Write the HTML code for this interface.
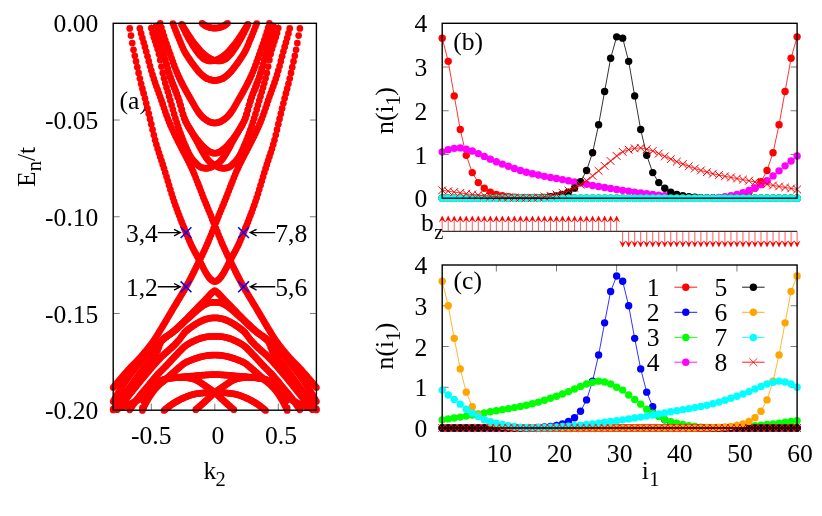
<!DOCTYPE html>
<html><head><meta charset="utf-8"><title>figure</title>
<style>html,body{margin:0;padding:0;background:#fff;}body{width:822px;height:516px;overflow:hidden;font-family:"Liberation Serif",serif;}svg{display:block;will-change:transform;}svg text{font-family:"Liberation Serif",serif;}</style></head>
<body>
<svg width="822" height="516" viewBox="0 0 822 516">
<rect width="822" height="516" fill="#fff"/>
<path d="M113.2 120.02h6.5M316.4 120.02h-6.5M113.2 216.75h6.5M316.4 216.75h-6.5M113.2 313.47h6.5M316.4 313.47h-6.5M151.3 410.2v-6.5M151.3 23.3v6.5M214.8 410.2v-6.5M214.8 23.3v6.5M278.3 410.2v-6.5M278.3 23.3v6.5" stroke="#000" stroke-width="0.7" stroke-opacity="0.75" fill="none"/>
<text x="119.6" y="109.3"  font-size="25.6" text-anchor="start" fill="#000" >(a)</text>
<g fill="#ff0000"><circle cx="202.1" cy="23.33" r="3.35"/><circle cx="227.5" cy="23.33" r="3.35"/><circle cx="203.37" cy="24.33" r="3.35"/><circle cx="226.23" cy="24.33" r="3.35"/><circle cx="204.64" cy="25.19" r="3.35"/><circle cx="224.96" cy="25.19" r="3.35"/><circle cx="205.91" cy="25.89" r="3.35"/><circle cx="223.69" cy="25.89" r="3.35"/><circle cx="207.18" cy="26.51" r="3.35"/><circle cx="222.42" cy="26.51" r="3.35"/><circle cx="208.45" cy="27.02" r="3.35"/><circle cx="221.15" cy="27.02" r="3.35"/><circle cx="209.72" cy="27.41" r="3.35"/><circle cx="219.88" cy="27.41" r="3.35"/><circle cx="210.99" cy="27.74" r="3.35"/><circle cx="218.61" cy="27.74" r="3.35"/><circle cx="212.26" cy="27.93" r="3.35"/><circle cx="217.34" cy="27.93" r="3.35"/><circle cx="213.53" cy="28.05" r="3.35"/><circle cx="216.07" cy="28.05" r="3.35"/><circle cx="214.8" cy="28.1" r="3.35"/><circle cx="181.78" cy="24.76" r="3.35"/><circle cx="247.82" cy="24.76" r="3.35"/><circle cx="183.05" cy="27.48" r="3.35"/><circle cx="246.55" cy="27.48" r="3.35"/><circle cx="184.32" cy="30.11" r="3.35"/><circle cx="245.28" cy="30.11" r="3.35"/><circle cx="185.59" cy="32.65" r="3.35"/><circle cx="244.01" cy="32.65" r="3.35"/><circle cx="186.86" cy="35.09" r="3.35"/><circle cx="242.74" cy="35.09" r="3.35"/><circle cx="188.13" cy="37.41" r="3.35"/><circle cx="241.47" cy="37.41" r="3.35"/><circle cx="189.4" cy="39.65" r="3.35"/><circle cx="240.2" cy="39.65" r="3.35"/><circle cx="190.67" cy="41.8" r="3.35"/><circle cx="238.93" cy="41.8" r="3.35"/><circle cx="191.94" cy="43.88" r="3.35"/><circle cx="237.66" cy="43.88" r="3.35"/><circle cx="193.21" cy="45.88" r="3.35"/><circle cx="236.39" cy="45.88" r="3.35"/><circle cx="194.48" cy="47.8" r="3.35"/><circle cx="235.12" cy="47.8" r="3.35"/><circle cx="195.75" cy="49.65" r="3.35"/><circle cx="233.85" cy="49.65" r="3.35"/><circle cx="197.02" cy="51.47" r="3.35"/><circle cx="232.58" cy="51.47" r="3.35"/><circle cx="198.29" cy="53.19" r="3.35"/><circle cx="231.31" cy="53.19" r="3.35"/><circle cx="199.56" cy="54.73" r="3.35"/><circle cx="230.04" cy="54.73" r="3.35"/><circle cx="200.83" cy="56.06" r="3.35"/><circle cx="228.77" cy="56.06" r="3.35"/><circle cx="202.1" cy="57.32" r="3.35"/><circle cx="227.5" cy="57.32" r="3.35"/><circle cx="203.37" cy="58.41" r="3.35"/><circle cx="226.23" cy="58.41" r="3.35"/><circle cx="204.64" cy="59.22" r="3.35"/><circle cx="224.96" cy="59.22" r="3.35"/><circle cx="205.91" cy="59.82" r="3.35"/><circle cx="223.69" cy="59.82" r="3.35"/><circle cx="207.18" cy="60.35" r="3.35"/><circle cx="222.42" cy="60.35" r="3.35"/><circle cx="208.45" cy="60.74" r="3.35"/><circle cx="221.15" cy="60.74" r="3.35"/><circle cx="209.72" cy="60.9" r="3.35"/><circle cx="219.88" cy="60.9" r="3.35"/><circle cx="210.99" cy="60.87" r="3.35"/><circle cx="218.61" cy="60.87" r="3.35"/><circle cx="212.26" cy="60.79" r="3.35"/><circle cx="217.34" cy="60.79" r="3.35"/><circle cx="213.53" cy="60.66" r="3.35"/><circle cx="216.07" cy="60.66" r="3.35"/><circle cx="214.8" cy="60.5" r="3.35"/><circle cx="216.07" cy="60.19" r="3.35"/><circle cx="213.53" cy="60.19" r="3.35"/><circle cx="217.34" cy="59.67" r="3.35"/><circle cx="212.26" cy="59.67" r="3.35"/><circle cx="218.61" cy="59.03" r="3.35"/><circle cx="210.99" cy="59.03" r="3.35"/><circle cx="219.88" cy="58.36" r="3.35"/><circle cx="209.72" cy="58.36" r="3.35"/><circle cx="221.15" cy="57.63" r="3.35"/><circle cx="208.45" cy="57.63" r="3.35"/><circle cx="222.42" cy="56.8" r="3.35"/><circle cx="207.18" cy="56.8" r="3.35"/><circle cx="223.69" cy="55.87" r="3.35"/><circle cx="205.91" cy="55.87" r="3.35"/><circle cx="224.96" cy="54.87" r="3.35"/><circle cx="204.64" cy="54.87" r="3.35"/><circle cx="226.23" cy="53.76" r="3.35"/><circle cx="203.37" cy="53.76" r="3.35"/><circle cx="227.5" cy="52.55" r="3.35"/><circle cx="202.1" cy="52.55" r="3.35"/><circle cx="228.77" cy="51.24" r="3.35"/><circle cx="200.83" cy="51.24" r="3.35"/><circle cx="230.04" cy="49.85" r="3.35"/><circle cx="199.56" cy="49.85" r="3.35"/><circle cx="231.31" cy="48.4" r="3.35"/><circle cx="198.29" cy="48.4" r="3.35"/><circle cx="232.58" cy="46.91" r="3.35"/><circle cx="197.02" cy="46.91" r="3.35"/><circle cx="233.85" cy="45.37" r="3.35"/><circle cx="195.75" cy="45.37" r="3.35"/><circle cx="235.12" cy="43.75" r="3.35"/><circle cx="194.48" cy="43.75" r="3.35"/><circle cx="236.39" cy="42.03" r="3.35"/><circle cx="193.21" cy="42.03" r="3.35"/><circle cx="237.66" cy="40.24" r="3.35"/><circle cx="191.94" cy="40.24" r="3.35"/><circle cx="238.93" cy="38.39" r="3.35"/><circle cx="190.67" cy="38.39" r="3.35"/><circle cx="240.2" cy="36.5" r="3.35"/><circle cx="189.4" cy="36.5" r="3.35"/><circle cx="241.47" cy="34.59" r="3.35"/><circle cx="188.13" cy="34.59" r="3.35"/><circle cx="242.74" cy="32.63" r="3.35"/><circle cx="186.86" cy="32.63" r="3.35"/><circle cx="244.01" cy="30.62" r="3.35"/><circle cx="185.59" cy="30.62" r="3.35"/><circle cx="245.28" cy="28.56" r="3.35"/><circle cx="184.32" cy="28.56" r="3.35"/><circle cx="246.55" cy="26.45" r="3.35"/><circle cx="183.05" cy="26.45" r="3.35"/><circle cx="247.82" cy="24.3" r="3.35"/><circle cx="181.78" cy="24.3" r="3.35"/><circle cx="172.89" cy="23.57" r="3.35"/><circle cx="256.71" cy="23.57" r="3.35"/><circle cx="174.16" cy="26.81" r="3.35"/><circle cx="255.44" cy="26.81" r="3.35"/><circle cx="175.43" cy="30.01" r="3.35"/><circle cx="254.17" cy="30.01" r="3.35"/><circle cx="176.7" cy="33.17" r="3.35"/><circle cx="252.9" cy="33.17" r="3.35"/><circle cx="177.97" cy="36.28" r="3.35"/><circle cx="251.63" cy="36.28" r="3.35"/><circle cx="179.24" cy="39.36" r="3.35"/><circle cx="250.36" cy="39.36" r="3.35"/><circle cx="180.51" cy="42.46" r="3.35"/><circle cx="249.09" cy="42.46" r="3.35"/><circle cx="181.78" cy="45.56" r="3.35"/><circle cx="247.82" cy="45.56" r="3.35"/><circle cx="183.05" cy="48.46" r="3.35"/><circle cx="246.55" cy="48.46" r="3.35"/><circle cx="184.32" cy="50.99" r="3.35"/><circle cx="245.28" cy="50.99" r="3.35"/><circle cx="185.59" cy="53.24" r="3.35"/><circle cx="244.01" cy="53.24" r="3.35"/><circle cx="186.86" cy="55.31" r="3.35"/><circle cx="242.74" cy="55.31" r="3.35"/><circle cx="188.13" cy="57.29" r="3.35"/><circle cx="241.47" cy="57.29" r="3.35"/><circle cx="189.4" cy="59.22" r="3.35"/><circle cx="240.2" cy="59.22" r="3.35"/><circle cx="190.67" cy="61.08" r="3.35"/><circle cx="238.93" cy="61.08" r="3.35"/><circle cx="191.94" cy="62.88" r="3.35"/><circle cx="237.66" cy="62.88" r="3.35"/><circle cx="193.21" cy="64.61" r="3.35"/><circle cx="236.39" cy="64.61" r="3.35"/><circle cx="194.48" cy="66.27" r="3.35"/><circle cx="235.12" cy="66.27" r="3.35"/><circle cx="195.75" cy="67.92" r="3.35"/><circle cx="233.85" cy="67.92" r="3.35"/><circle cx="197.02" cy="69.56" r="3.35"/><circle cx="232.58" cy="69.56" r="3.35"/><circle cx="198.29" cy="71.13" r="3.35"/><circle cx="231.31" cy="71.13" r="3.35"/><circle cx="199.56" cy="72.58" r="3.35"/><circle cx="230.04" cy="72.58" r="3.35"/><circle cx="200.83" cy="73.87" r="3.35"/><circle cx="228.77" cy="73.87" r="3.35"/><circle cx="202.1" cy="74.99" r="3.35"/><circle cx="227.5" cy="74.99" r="3.35"/><circle cx="203.37" cy="76.06" r="3.35"/><circle cx="226.23" cy="76.06" r="3.35"/><circle cx="204.64" cy="77.06" r="3.35"/><circle cx="224.96" cy="77.06" r="3.35"/><circle cx="205.91" cy="77.93" r="3.35"/><circle cx="223.69" cy="77.93" r="3.35"/><circle cx="207.18" cy="78.63" r="3.35"/><circle cx="222.42" cy="78.63" r="3.35"/><circle cx="208.45" cy="79.12" r="3.35"/><circle cx="221.15" cy="79.12" r="3.35"/><circle cx="209.72" cy="79.54" r="3.35"/><circle cx="219.88" cy="79.54" r="3.35"/><circle cx="210.99" cy="79.91" r="3.35"/><circle cx="218.61" cy="79.91" r="3.35"/><circle cx="212.26" cy="80.22" r="3.35"/><circle cx="217.34" cy="80.22" r="3.35"/><circle cx="213.53" cy="80.42" r="3.35"/><circle cx="216.07" cy="80.42" r="3.35"/><circle cx="214.8" cy="80.5" r="3.35"/><circle cx="160.19" cy="23.46" r="3.35"/><circle cx="269.41" cy="23.46" r="3.35"/><circle cx="161.46" cy="27.79" r="3.35"/><circle cx="268.14" cy="27.79" r="3.35"/><circle cx="162.73" cy="31.99" r="3.35"/><circle cx="266.87" cy="31.99" r="3.35"/><circle cx="164" cy="36.06" r="3.35"/><circle cx="265.6" cy="36.06" r="3.35"/><circle cx="165.27" cy="39.98" r="3.35"/><circle cx="264.33" cy="39.98" r="3.35"/><circle cx="166.54" cy="43.78" r="3.35"/><circle cx="263.06" cy="43.78" r="3.35"/><circle cx="167.81" cy="47.46" r="3.35"/><circle cx="261.79" cy="47.46" r="3.35"/><circle cx="169.08" cy="51.08" r="3.35"/><circle cx="260.52" cy="51.08" r="3.35"/><circle cx="170.35" cy="54.7" r="3.35"/><circle cx="259.25" cy="54.7" r="3.35"/><circle cx="171.62" cy="58.32" r="3.35"/><circle cx="257.98" cy="58.32" r="3.35"/><circle cx="172.89" cy="61.9" r="3.35"/><circle cx="256.71" cy="61.9" r="3.35"/><circle cx="174.16" cy="65.39" r="3.35"/><circle cx="255.44" cy="65.39" r="3.35"/><circle cx="175.43" cy="68.76" r="3.35"/><circle cx="254.17" cy="68.76" r="3.35"/><circle cx="176.7" cy="71.95" r="3.35"/><circle cx="252.9" cy="71.95" r="3.35"/><circle cx="177.97" cy="74.93" r="3.35"/><circle cx="251.63" cy="74.93" r="3.35"/><circle cx="179.24" cy="77.72" r="3.35"/><circle cx="250.36" cy="77.72" r="3.35"/><circle cx="180.51" cy="80.4" r="3.35"/><circle cx="249.09" cy="80.4" r="3.35"/><circle cx="181.78" cy="82.96" r="3.35"/><circle cx="247.82" cy="82.96" r="3.35"/><circle cx="183.05" cy="85.44" r="3.35"/><circle cx="246.55" cy="85.44" r="3.35"/><circle cx="184.32" cy="87.83" r="3.35"/><circle cx="245.28" cy="87.83" r="3.35"/><circle cx="185.59" cy="90.16" r="3.35"/><circle cx="244.01" cy="90.16" r="3.35"/><circle cx="186.86" cy="92.44" r="3.35"/><circle cx="242.74" cy="92.44" r="3.35"/><circle cx="188.13" cy="94.68" r="3.35"/><circle cx="241.47" cy="94.68" r="3.35"/><circle cx="189.4" cy="96.89" r="3.35"/><circle cx="240.2" cy="96.89" r="3.35"/><circle cx="190.67" cy="99.1" r="3.35"/><circle cx="238.93" cy="99.1" r="3.35"/><circle cx="191.94" cy="101.33" r="3.35"/><circle cx="237.66" cy="101.33" r="3.35"/><circle cx="193.21" cy="103.58" r="3.35"/><circle cx="236.39" cy="103.58" r="3.35"/><circle cx="194.48" cy="105.82" r="3.35"/><circle cx="235.12" cy="105.82" r="3.35"/><circle cx="195.75" cy="107.99" r="3.35"/><circle cx="233.85" cy="107.99" r="3.35"/><circle cx="197.02" cy="110.05" r="3.35"/><circle cx="232.58" cy="110.05" r="3.35"/><circle cx="198.29" cy="111.96" r="3.35"/><circle cx="231.31" cy="111.96" r="3.35"/><circle cx="199.56" cy="113.66" r="3.35"/><circle cx="230.04" cy="113.66" r="3.35"/><circle cx="200.83" cy="115.16" r="3.35"/><circle cx="228.77" cy="115.16" r="3.35"/><circle cx="202.1" cy="116.53" r="3.35"/><circle cx="227.5" cy="116.53" r="3.35"/><circle cx="203.37" cy="117.76" r="3.35"/><circle cx="226.23" cy="117.76" r="3.35"/><circle cx="204.64" cy="118.84" r="3.35"/><circle cx="224.96" cy="118.84" r="3.35"/><circle cx="205.91" cy="119.75" r="3.35"/><circle cx="223.69" cy="119.75" r="3.35"/><circle cx="207.18" cy="120.6" r="3.35"/><circle cx="222.42" cy="120.6" r="3.35"/><circle cx="208.45" cy="121.35" r="3.35"/><circle cx="221.15" cy="121.35" r="3.35"/><circle cx="209.72" cy="121.94" r="3.35"/><circle cx="219.88" cy="121.94" r="3.35"/><circle cx="210.99" cy="122.33" r="3.35"/><circle cx="218.61" cy="122.33" r="3.35"/><circle cx="212.26" cy="122.65" r="3.35"/><circle cx="217.34" cy="122.65" r="3.35"/><circle cx="213.53" cy="122.89" r="3.35"/><circle cx="216.07" cy="122.89" r="3.35"/><circle cx="214.8" cy="123" r="3.35"/><circle cx="156.38" cy="26.13" r="3.35"/><circle cx="273.22" cy="26.13" r="3.35"/><circle cx="157.65" cy="30.98" r="3.35"/><circle cx="271.95" cy="30.98" r="3.35"/><circle cx="158.92" cy="35.89" r="3.35"/><circle cx="270.68" cy="35.89" r="3.35"/><circle cx="160.19" cy="40.82" r="3.35"/><circle cx="269.41" cy="40.82" r="3.35"/><circle cx="161.46" cy="45.71" r="3.35"/><circle cx="268.14" cy="45.71" r="3.35"/><circle cx="162.73" cy="50.52" r="3.35"/><circle cx="266.87" cy="50.52" r="3.35"/><circle cx="164" cy="55.22" r="3.35"/><circle cx="265.6" cy="55.22" r="3.35"/><circle cx="165.27" cy="59.93" r="3.35"/><circle cx="264.33" cy="59.93" r="3.35"/><circle cx="166.54" cy="64.6" r="3.35"/><circle cx="263.06" cy="64.6" r="3.35"/><circle cx="167.81" cy="69.11" r="3.35"/><circle cx="261.79" cy="69.11" r="3.35"/><circle cx="169.08" cy="73.36" r="3.35"/><circle cx="260.52" cy="73.36" r="3.35"/><circle cx="170.35" cy="77.25" r="3.35"/><circle cx="259.25" cy="77.25" r="3.35"/><circle cx="171.62" cy="80.82" r="3.35"/><circle cx="257.98" cy="80.82" r="3.35"/><circle cx="172.89" cy="84.17" r="3.35"/><circle cx="256.71" cy="84.17" r="3.35"/><circle cx="174.16" cy="87.39" r="3.35"/><circle cx="255.44" cy="87.39" r="3.35"/><circle cx="175.43" cy="90.59" r="3.35"/><circle cx="254.17" cy="90.59" r="3.35"/><circle cx="176.7" cy="93.86" r="3.35"/><circle cx="252.9" cy="93.86" r="3.35"/><circle cx="177.97" cy="97.31" r="3.35"/><circle cx="251.63" cy="97.31" r="3.35"/><circle cx="179.24" cy="101.05" r="3.35"/><circle cx="250.36" cy="101.05" r="3.35"/><circle cx="180.51" cy="105.35" r="3.35"/><circle cx="249.09" cy="105.35" r="3.35"/><circle cx="181.78" cy="109.96" r="3.35"/><circle cx="247.82" cy="109.96" r="3.35"/><circle cx="183.05" cy="114.42" r="3.35"/><circle cx="246.55" cy="114.42" r="3.35"/><circle cx="184.32" cy="118.28" r="3.35"/><circle cx="245.28" cy="118.28" r="3.35"/><circle cx="185.59" cy="121.28" r="3.35"/><circle cx="244.01" cy="121.28" r="3.35"/><circle cx="186.86" cy="123.86" r="3.35"/><circle cx="242.74" cy="123.86" r="3.35"/><circle cx="188.13" cy="126.15" r="3.35"/><circle cx="241.47" cy="126.15" r="3.35"/><circle cx="189.4" cy="128.26" r="3.35"/><circle cx="240.2" cy="128.26" r="3.35"/><circle cx="190.67" cy="130.29" r="3.35"/><circle cx="238.93" cy="130.29" r="3.35"/><circle cx="191.94" cy="132.29" r="3.35"/><circle cx="237.66" cy="132.29" r="3.35"/><circle cx="193.21" cy="134.23" r="3.35"/><circle cx="236.39" cy="134.23" r="3.35"/><circle cx="194.48" cy="136.09" r="3.35"/><circle cx="235.12" cy="136.09" r="3.35"/><circle cx="195.75" cy="137.87" r="3.35"/><circle cx="233.85" cy="137.87" r="3.35"/><circle cx="197.02" cy="139.57" r="3.35"/><circle cx="232.58" cy="139.57" r="3.35"/><circle cx="198.29" cy="141.17" r="3.35"/><circle cx="231.31" cy="141.17" r="3.35"/><circle cx="199.56" cy="142.67" r="3.35"/><circle cx="230.04" cy="142.67" r="3.35"/><circle cx="200.83" cy="144.1" r="3.35"/><circle cx="228.77" cy="144.1" r="3.35"/><circle cx="202.1" cy="145.48" r="3.35"/><circle cx="227.5" cy="145.48" r="3.35"/><circle cx="203.37" cy="146.8" r="3.35"/><circle cx="226.23" cy="146.8" r="3.35"/><circle cx="204.64" cy="148.02" r="3.35"/><circle cx="224.96" cy="148.02" r="3.35"/><circle cx="205.91" cy="149.14" r="3.35"/><circle cx="223.69" cy="149.14" r="3.35"/><circle cx="207.18" cy="150.12" r="3.35"/><circle cx="222.42" cy="150.12" r="3.35"/><circle cx="208.45" cy="151.01" r="3.35"/><circle cx="221.15" cy="151.01" r="3.35"/><circle cx="209.72" cy="151.82" r="3.35"/><circle cx="219.88" cy="151.82" r="3.35"/><circle cx="210.99" cy="152.43" r="3.35"/><circle cx="218.61" cy="152.43" r="3.35"/><circle cx="212.26" cy="152.8" r="3.35"/><circle cx="217.34" cy="152.8" r="3.35"/><circle cx="213.53" cy="153.08" r="3.35"/><circle cx="216.07" cy="153.08" r="3.35"/><circle cx="214.8" cy="153.2" r="3.35"/><circle cx="151.3" cy="28" r="3.35"/><circle cx="278.3" cy="28" r="3.35"/><circle cx="152.57" cy="32.97" r="3.35"/><circle cx="277.03" cy="32.97" r="3.35"/><circle cx="153.84" cy="37.2" r="3.35"/><circle cx="275.76" cy="37.2" r="3.35"/><circle cx="155.11" cy="41.05" r="3.35"/><circle cx="274.49" cy="41.05" r="3.35"/><circle cx="156.38" cy="44.88" r="3.35"/><circle cx="273.22" cy="44.88" r="3.35"/><circle cx="157.65" cy="49.05" r="3.35"/><circle cx="271.95" cy="49.05" r="3.35"/><circle cx="158.92" cy="53.92" r="3.35"/><circle cx="270.68" cy="53.92" r="3.35"/><circle cx="160.19" cy="59.96" r="3.35"/><circle cx="269.41" cy="59.96" r="3.35"/><circle cx="161.46" cy="66.62" r="3.35"/><circle cx="268.14" cy="66.62" r="3.35"/><circle cx="162.73" cy="72.93" r="3.35"/><circle cx="266.87" cy="72.93" r="3.35"/><circle cx="164" cy="78.24" r="3.35"/><circle cx="265.6" cy="78.24" r="3.35"/><circle cx="165.27" cy="83.03" r="3.35"/><circle cx="264.33" cy="83.03" r="3.35"/><circle cx="166.54" cy="87.52" r="3.35"/><circle cx="263.06" cy="87.52" r="3.35"/><circle cx="167.81" cy="91.84" r="3.35"/><circle cx="261.79" cy="91.84" r="3.35"/><circle cx="169.08" cy="96.13" r="3.35"/><circle cx="260.52" cy="96.13" r="3.35"/><circle cx="170.35" cy="100.53" r="3.35"/><circle cx="259.25" cy="100.53" r="3.35"/><circle cx="171.62" cy="105.07" r="3.35"/><circle cx="257.98" cy="105.07" r="3.35"/><circle cx="172.89" cy="109.62" r="3.35"/><circle cx="256.71" cy="109.62" r="3.35"/><circle cx="174.16" cy="114.08" r="3.35"/><circle cx="255.44" cy="114.08" r="3.35"/><circle cx="175.43" cy="118.32" r="3.35"/><circle cx="254.17" cy="118.32" r="3.35"/><circle cx="176.7" cy="122.3" r="3.35"/><circle cx="252.9" cy="122.3" r="3.35"/><circle cx="177.97" cy="126.14" r="3.35"/><circle cx="251.63" cy="126.14" r="3.35"/><circle cx="179.24" cy="129.85" r="3.35"/><circle cx="250.36" cy="129.85" r="3.35"/><circle cx="180.51" cy="133.42" r="3.35"/><circle cx="249.09" cy="133.42" r="3.35"/><circle cx="181.78" cy="136.84" r="3.35"/><circle cx="247.82" cy="136.84" r="3.35"/><circle cx="183.05" cy="140.13" r="3.35"/><circle cx="246.55" cy="140.13" r="3.35"/><circle cx="184.32" cy="143.25" r="3.35"/><circle cx="245.28" cy="143.25" r="3.35"/><circle cx="185.59" cy="146.22" r="3.35"/><circle cx="244.01" cy="146.22" r="3.35"/><circle cx="186.86" cy="149.05" r="3.35"/><circle cx="242.74" cy="149.05" r="3.35"/><circle cx="188.13" cy="151.79" r="3.35"/><circle cx="241.47" cy="151.79" r="3.35"/><circle cx="189.4" cy="154.52" r="3.35"/><circle cx="240.2" cy="154.52" r="3.35"/><circle cx="190.67" cy="156.9" r="3.35"/><circle cx="238.93" cy="156.9" r="3.35"/><circle cx="191.94" cy="158.74" r="3.35"/><circle cx="237.66" cy="158.74" r="3.35"/><circle cx="193.21" cy="160.36" r="3.35"/><circle cx="236.39" cy="160.36" r="3.35"/><circle cx="194.48" cy="161.8" r="3.35"/><circle cx="235.12" cy="161.8" r="3.35"/><circle cx="195.75" cy="163.1" r="3.35"/><circle cx="233.85" cy="163.1" r="3.35"/><circle cx="197.02" cy="164.29" r="3.35"/><circle cx="232.58" cy="164.29" r="3.35"/><circle cx="198.29" cy="165.48" r="3.35"/><circle cx="231.31" cy="165.48" r="3.35"/><circle cx="199.56" cy="166.52" r="3.35"/><circle cx="230.04" cy="166.52" r="3.35"/><circle cx="200.83" cy="167.24" r="3.35"/><circle cx="228.77" cy="167.24" r="3.35"/><circle cx="202.1" cy="167.65" r="3.35"/><circle cx="227.5" cy="167.65" r="3.35"/><circle cx="203.37" cy="167.99" r="3.35"/><circle cx="226.23" cy="167.99" r="3.35"/><circle cx="204.64" cy="168.22" r="3.35"/><circle cx="224.96" cy="168.22" r="3.35"/><circle cx="205.91" cy="168.3" r="3.35"/><circle cx="223.69" cy="168.3" r="3.35"/><circle cx="207.18" cy="168.18" r="3.35"/><circle cx="222.42" cy="168.18" r="3.35"/><circle cx="208.45" cy="167.9" r="3.35"/><circle cx="221.15" cy="167.9" r="3.35"/><circle cx="209.72" cy="167.54" r="3.35"/><circle cx="219.88" cy="167.54" r="3.35"/><circle cx="210.99" cy="167.13" r="3.35"/><circle cx="218.61" cy="167.13" r="3.35"/><circle cx="212.26" cy="166.54" r="3.35"/><circle cx="217.34" cy="166.54" r="3.35"/><circle cx="213.53" cy="165.82" r="3.35"/><circle cx="216.07" cy="165.82" r="3.35"/><circle cx="214.8" cy="165.1" r="3.35"/><circle cx="216.07" cy="164.44" r="3.35"/><circle cx="213.53" cy="164.44" r="3.35"/><circle cx="217.34" cy="163.73" r="3.35"/><circle cx="212.26" cy="163.73" r="3.35"/><circle cx="218.61" cy="162.85" r="3.35"/><circle cx="210.99" cy="162.85" r="3.35"/><circle cx="219.88" cy="161.75" r="3.35"/><circle cx="209.72" cy="161.75" r="3.35"/><circle cx="221.15" cy="160.46" r="3.35"/><circle cx="208.45" cy="160.46" r="3.35"/><circle cx="222.42" cy="158.97" r="3.35"/><circle cx="207.18" cy="158.97" r="3.35"/><circle cx="223.69" cy="157.24" r="3.35"/><circle cx="205.91" cy="157.24" r="3.35"/><circle cx="224.96" cy="155.36" r="3.35"/><circle cx="204.64" cy="155.36" r="3.35"/><circle cx="226.23" cy="153.32" r="3.35"/><circle cx="203.37" cy="153.32" r="3.35"/><circle cx="227.5" cy="151.1" r="3.35"/><circle cx="202.1" cy="151.1" r="3.35"/><circle cx="228.77" cy="148.81" r="3.35"/><circle cx="200.83" cy="148.81" r="3.35"/><circle cx="230.04" cy="146.39" r="3.35"/><circle cx="199.56" cy="146.39" r="3.35"/><circle cx="231.31" cy="143.91" r="3.35"/><circle cx="198.29" cy="143.91" r="3.35"/><circle cx="232.58" cy="141.52" r="3.35"/><circle cx="197.02" cy="141.52" r="3.35"/><circle cx="233.85" cy="139.18" r="3.35"/><circle cx="195.75" cy="139.18" r="3.35"/><circle cx="235.12" cy="136.88" r="3.35"/><circle cx="194.48" cy="136.88" r="3.35"/><circle cx="236.39" cy="134.65" r="3.35"/><circle cx="193.21" cy="134.65" r="3.35"/><circle cx="237.66" cy="132.48" r="3.35"/><circle cx="191.94" cy="132.48" r="3.35"/><circle cx="238.93" cy="130.27" r="3.35"/><circle cx="190.67" cy="130.27" r="3.35"/><circle cx="240.2" cy="128.11" r="3.35"/><circle cx="189.4" cy="128.11" r="3.35"/><circle cx="241.47" cy="126" r="3.35"/><circle cx="188.13" cy="126" r="3.35"/><circle cx="242.74" cy="123.77" r="3.35"/><circle cx="186.86" cy="123.77" r="3.35"/><circle cx="244.01" cy="121.27" r="3.35"/><circle cx="185.59" cy="121.27" r="3.35"/><circle cx="245.28" cy="118.28" r="3.35"/><circle cx="184.32" cy="118.28" r="3.35"/><circle cx="246.55" cy="114.42" r="3.35"/><circle cx="183.05" cy="114.42" r="3.35"/><circle cx="247.82" cy="109.96" r="3.35"/><circle cx="181.78" cy="109.96" r="3.35"/><circle cx="249.09" cy="105.35" r="3.35"/><circle cx="180.51" cy="105.35" r="3.35"/><circle cx="250.36" cy="101.05" r="3.35"/><circle cx="179.24" cy="101.05" r="3.35"/><circle cx="251.63" cy="97.31" r="3.35"/><circle cx="177.97" cy="97.31" r="3.35"/><circle cx="252.9" cy="93.86" r="3.35"/><circle cx="176.7" cy="93.86" r="3.35"/><circle cx="254.17" cy="90.59" r="3.35"/><circle cx="175.43" cy="90.59" r="3.35"/><circle cx="255.44" cy="87.39" r="3.35"/><circle cx="174.16" cy="87.39" r="3.35"/><circle cx="256.71" cy="84.17" r="3.35"/><circle cx="172.89" cy="84.17" r="3.35"/><circle cx="257.98" cy="80.82" r="3.35"/><circle cx="171.62" cy="80.82" r="3.35"/><circle cx="259.25" cy="77.25" r="3.35"/><circle cx="170.35" cy="77.25" r="3.35"/><circle cx="260.52" cy="73.36" r="3.35"/><circle cx="169.08" cy="73.36" r="3.35"/><circle cx="261.79" cy="69.11" r="3.35"/><circle cx="167.81" cy="69.11" r="3.35"/><circle cx="263.06" cy="64.6" r="3.35"/><circle cx="166.54" cy="64.6" r="3.35"/><circle cx="264.33" cy="59.93" r="3.35"/><circle cx="165.27" cy="59.93" r="3.35"/><circle cx="265.6" cy="55.22" r="3.35"/><circle cx="164" cy="55.22" r="3.35"/><circle cx="266.87" cy="50.52" r="3.35"/><circle cx="162.73" cy="50.52" r="3.35"/><circle cx="268.14" cy="45.71" r="3.35"/><circle cx="161.46" cy="45.71" r="3.35"/><circle cx="269.41" cy="40.82" r="3.35"/><circle cx="160.19" cy="40.82" r="3.35"/><circle cx="270.68" cy="35.89" r="3.35"/><circle cx="158.92" cy="35.89" r="3.35"/><circle cx="271.95" cy="30.98" r="3.35"/><circle cx="157.65" cy="30.98" r="3.35"/><circle cx="273.22" cy="26.13" r="3.35"/><circle cx="156.38" cy="26.13" r="3.35"/><circle cx="139.87" cy="28.44" r="3.35"/><circle cx="289.73" cy="28.44" r="3.35"/><circle cx="141.14" cy="33.46" r="3.35"/><circle cx="288.46" cy="33.46" r="3.35"/><circle cx="142.41" cy="38.09" r="3.35"/><circle cx="287.19" cy="38.09" r="3.35"/><circle cx="143.68" cy="42.52" r="3.35"/><circle cx="285.92" cy="42.52" r="3.35"/><circle cx="144.95" cy="46.94" r="3.35"/><circle cx="284.65" cy="46.94" r="3.35"/><circle cx="146.22" cy="51.55" r="3.35"/><circle cx="283.38" cy="51.55" r="3.35"/><circle cx="147.49" cy="56.34" r="3.35"/><circle cx="282.11" cy="56.34" r="3.35"/><circle cx="148.76" cy="61.19" r="3.35"/><circle cx="280.84" cy="61.19" r="3.35"/><circle cx="150.03" cy="65.98" r="3.35"/><circle cx="279.57" cy="65.98" r="3.35"/><circle cx="151.3" cy="70.59" r="3.35"/><circle cx="278.3" cy="70.59" r="3.35"/><circle cx="152.57" cy="74.9" r="3.35"/><circle cx="277.03" cy="74.9" r="3.35"/><circle cx="153.84" cy="78.9" r="3.35"/><circle cx="275.76" cy="78.9" r="3.35"/><circle cx="155.11" cy="82.68" r="3.35"/><circle cx="274.49" cy="82.68" r="3.35"/><circle cx="156.38" cy="86.3" r="3.35"/><circle cx="273.22" cy="86.3" r="3.35"/><circle cx="157.65" cy="89.84" r="3.35"/><circle cx="271.95" cy="89.84" r="3.35"/><circle cx="158.92" cy="93.33" r="3.35"/><circle cx="270.68" cy="93.33" r="3.35"/><circle cx="160.19" cy="96.85" r="3.35"/><circle cx="269.41" cy="96.85" r="3.35"/><circle cx="161.46" cy="100.46" r="3.35"/><circle cx="268.14" cy="100.46" r="3.35"/><circle cx="162.73" cy="104.19" r="3.35"/><circle cx="266.87" cy="104.19" r="3.35"/><circle cx="164" cy="107.98" r="3.35"/><circle cx="265.6" cy="107.98" r="3.35"/><circle cx="165.27" cy="111.74" r="3.35"/><circle cx="264.33" cy="111.74" r="3.35"/><circle cx="166.54" cy="115.37" r="3.35"/><circle cx="263.06" cy="115.37" r="3.35"/><circle cx="167.81" cy="118.77" r="3.35"/><circle cx="261.79" cy="118.77" r="3.35"/><circle cx="169.08" cy="121.93" r="3.35"/><circle cx="260.52" cy="121.93" r="3.35"/><circle cx="170.35" cy="124.94" r="3.35"/><circle cx="259.25" cy="124.94" r="3.35"/><circle cx="171.62" cy="127.82" r="3.35"/><circle cx="257.98" cy="127.82" r="3.35"/><circle cx="172.89" cy="130.61" r="3.35"/><circle cx="256.71" cy="130.61" r="3.35"/><circle cx="174.16" cy="133.34" r="3.35"/><circle cx="255.44" cy="133.34" r="3.35"/><circle cx="175.43" cy="136" r="3.35"/><circle cx="254.17" cy="136" r="3.35"/><circle cx="176.7" cy="138.57" r="3.35"/><circle cx="252.9" cy="138.57" r="3.35"/><circle cx="177.97" cy="141.08" r="3.35"/><circle cx="251.63" cy="141.08" r="3.35"/><circle cx="179.24" cy="143.57" r="3.35"/><circle cx="250.36" cy="143.57" r="3.35"/><circle cx="180.51" cy="146.04" r="3.35"/><circle cx="249.09" cy="146.04" r="3.35"/><circle cx="181.78" cy="148.52" r="3.35"/><circle cx="247.82" cy="148.52" r="3.35"/><circle cx="183.05" cy="150.94" r="3.35"/><circle cx="246.55" cy="150.94" r="3.35"/><circle cx="184.32" cy="153.36" r="3.35"/><circle cx="245.28" cy="153.36" r="3.35"/><circle cx="185.59" cy="155.8" r="3.35"/><circle cx="244.01" cy="155.8" r="3.35"/><circle cx="186.86" cy="158.31" r="3.35"/><circle cx="242.74" cy="158.31" r="3.35"/><circle cx="188.13" cy="160.82" r="3.35"/><circle cx="241.47" cy="160.82" r="3.35"/><circle cx="189.4" cy="163.36" r="3.35"/><circle cx="240.2" cy="163.36" r="3.35"/><circle cx="190.67" cy="165.98" r="3.35"/><circle cx="238.93" cy="165.98" r="3.35"/><circle cx="191.94" cy="168.7" r="3.35"/><circle cx="237.66" cy="168.7" r="3.35"/><circle cx="193.21" cy="171.58" r="3.35"/><circle cx="236.39" cy="171.58" r="3.35"/><circle cx="194.48" cy="174.62" r="3.35"/><circle cx="235.12" cy="174.62" r="3.35"/><circle cx="195.75" cy="177.78" r="3.35"/><circle cx="233.85" cy="177.78" r="3.35"/><circle cx="197.02" cy="180.99" r="3.35"/><circle cx="232.58" cy="180.99" r="3.35"/><circle cx="198.29" cy="184.22" r="3.35"/><circle cx="231.31" cy="184.22" r="3.35"/><circle cx="199.56" cy="187.45" r="3.35"/><circle cx="230.04" cy="187.45" r="3.35"/><circle cx="200.83" cy="190.76" r="3.35"/><circle cx="228.77" cy="190.76" r="3.35"/><circle cx="202.1" cy="194.1" r="3.35"/><circle cx="227.5" cy="194.1" r="3.35"/><circle cx="203.37" cy="197.39" r="3.35"/><circle cx="226.23" cy="197.39" r="3.35"/><circle cx="204.64" cy="200.6" r="3.35"/><circle cx="224.96" cy="200.6" r="3.35"/><circle cx="205.91" cy="203.69" r="3.35"/><circle cx="223.69" cy="203.69" r="3.35"/><circle cx="207.18" cy="206.72" r="3.35"/><circle cx="222.42" cy="206.72" r="3.35"/><circle cx="208.45" cy="209.74" r="3.35"/><circle cx="221.15" cy="209.74" r="3.35"/><circle cx="209.72" cy="212.8" r="3.35"/><circle cx="219.88" cy="212.8" r="3.35"/><circle cx="210.99" cy="215.95" r="3.35"/><circle cx="218.61" cy="215.95" r="3.35"/><circle cx="212.26" cy="219.14" r="3.35"/><circle cx="217.34" cy="219.14" r="3.35"/><circle cx="213.53" cy="222.33" r="3.35"/><circle cx="216.07" cy="222.33" r="3.35"/><circle cx="214.8" cy="225.5" r="3.35"/><circle cx="216.07" cy="228.65" r="3.35"/><circle cx="213.53" cy="228.65" r="3.35"/><circle cx="217.34" cy="231.82" r="3.35"/><circle cx="212.26" cy="231.82" r="3.35"/><circle cx="218.61" cy="234.98" r="3.35"/><circle cx="210.99" cy="234.98" r="3.35"/><circle cx="219.88" cy="238.11" r="3.35"/><circle cx="209.72" cy="238.11" r="3.35"/><circle cx="221.15" cy="241.16" r="3.35"/><circle cx="208.45" cy="241.16" r="3.35"/><circle cx="222.42" cy="244.13" r="3.35"/><circle cx="207.18" cy="244.13" r="3.35"/><circle cx="223.69" cy="247" r="3.35"/><circle cx="205.91" cy="247" r="3.35"/><circle cx="224.96" cy="249.78" r="3.35"/><circle cx="204.64" cy="249.78" r="3.35"/><circle cx="226.23" cy="252.49" r="3.35"/><circle cx="203.37" cy="252.49" r="3.35"/><circle cx="227.5" cy="255.15" r="3.35"/><circle cx="202.1" cy="255.15" r="3.35"/><circle cx="228.77" cy="257.77" r="3.35"/><circle cx="200.83" cy="257.77" r="3.35"/><circle cx="230.04" cy="260.38" r="3.35"/><circle cx="199.56" cy="260.38" r="3.35"/><circle cx="231.31" cy="262.97" r="3.35"/><circle cx="198.29" cy="262.97" r="3.35"/><circle cx="232.58" cy="265.55" r="3.35"/><circle cx="197.02" cy="265.55" r="3.35"/><circle cx="233.85" cy="268.12" r="3.35"/><circle cx="195.75" cy="268.12" r="3.35"/><circle cx="235.12" cy="270.66" r="3.35"/><circle cx="194.48" cy="270.66" r="3.35"/><circle cx="236.39" cy="273.19" r="3.35"/><circle cx="193.21" cy="273.19" r="3.35"/><circle cx="237.66" cy="275.69" r="3.35"/><circle cx="191.94" cy="275.69" r="3.35"/><circle cx="238.93" cy="278.15" r="3.35"/><circle cx="190.67" cy="278.15" r="3.35"/><circle cx="240.2" cy="280.59" r="3.35"/><circle cx="189.4" cy="280.59" r="3.35"/><circle cx="241.47" cy="282.98" r="3.35"/><circle cx="188.13" cy="282.98" r="3.35"/><circle cx="242.74" cy="285.33" r="3.35"/><circle cx="186.86" cy="285.33" r="3.35"/><circle cx="244.01" cy="287.64" r="3.35"/><circle cx="185.59" cy="287.64" r="3.35"/><circle cx="245.28" cy="289.89" r="3.35"/><circle cx="184.32" cy="289.89" r="3.35"/><circle cx="246.55" cy="292.09" r="3.35"/><circle cx="183.05" cy="292.09" r="3.35"/><circle cx="247.82" cy="294.24" r="3.35"/><circle cx="181.78" cy="294.24" r="3.35"/><circle cx="249.09" cy="296.37" r="3.35"/><circle cx="180.51" cy="296.37" r="3.35"/><circle cx="250.36" cy="298.48" r="3.35"/><circle cx="179.24" cy="298.48" r="3.35"/><circle cx="251.63" cy="300.57" r="3.35"/><circle cx="177.97" cy="300.57" r="3.35"/><circle cx="252.9" cy="302.65" r="3.35"/><circle cx="176.7" cy="302.65" r="3.35"/><circle cx="254.17" cy="304.75" r="3.35"/><circle cx="175.43" cy="304.75" r="3.35"/><circle cx="255.44" cy="306.86" r="3.35"/><circle cx="174.16" cy="306.86" r="3.35"/><circle cx="256.71" cy="308.99" r="3.35"/><circle cx="172.89" cy="308.99" r="3.35"/><circle cx="257.98" cy="311.14" r="3.35"/><circle cx="171.62" cy="311.14" r="3.35"/><circle cx="259.25" cy="313.29" r="3.35"/><circle cx="170.35" cy="313.29" r="3.35"/><circle cx="260.52" cy="315.45" r="3.35"/><circle cx="169.08" cy="315.45" r="3.35"/><circle cx="261.79" cy="317.6" r="3.35"/><circle cx="167.81" cy="317.6" r="3.35"/><circle cx="263.06" cy="319.75" r="3.35"/><circle cx="166.54" cy="319.75" r="3.35"/><circle cx="264.33" cy="321.89" r="3.35"/><circle cx="165.27" cy="321.89" r="3.35"/><circle cx="265.6" cy="324.02" r="3.35"/><circle cx="164" cy="324.02" r="3.35"/><circle cx="266.87" cy="326.14" r="3.35"/><circle cx="162.73" cy="326.14" r="3.35"/><circle cx="268.14" cy="328.23" r="3.35"/><circle cx="161.46" cy="328.23" r="3.35"/><circle cx="269.41" cy="330.33" r="3.35"/><circle cx="160.19" cy="330.33" r="3.35"/><circle cx="270.68" cy="332.45" r="3.35"/><circle cx="158.92" cy="332.45" r="3.35"/><circle cx="271.95" cy="334.55" r="3.35"/><circle cx="157.65" cy="334.55" r="3.35"/><circle cx="273.22" cy="336.61" r="3.35"/><circle cx="156.38" cy="336.61" r="3.35"/><circle cx="274.49" cy="338.61" r="3.35"/><circle cx="155.11" cy="338.61" r="3.35"/><circle cx="275.76" cy="340.51" r="3.35"/><circle cx="153.84" cy="340.51" r="3.35"/><circle cx="277.03" cy="342.31" r="3.35"/><circle cx="152.57" cy="342.31" r="3.35"/><circle cx="278.3" cy="344.07" r="3.35"/><circle cx="151.3" cy="344.07" r="3.35"/><circle cx="279.57" cy="345.77" r="3.35"/><circle cx="150.03" cy="345.77" r="3.35"/><circle cx="280.84" cy="347.43" r="3.35"/><circle cx="148.76" cy="347.43" r="3.35"/><circle cx="282.11" cy="349.05" r="3.35"/><circle cx="147.49" cy="349.05" r="3.35"/><circle cx="283.38" cy="350.63" r="3.35"/><circle cx="146.22" cy="350.63" r="3.35"/><circle cx="284.65" cy="352.18" r="3.35"/><circle cx="144.95" cy="352.18" r="3.35"/><circle cx="285.92" cy="353.69" r="3.35"/><circle cx="143.68" cy="353.69" r="3.35"/><circle cx="287.19" cy="355.18" r="3.35"/><circle cx="142.41" cy="355.18" r="3.35"/><circle cx="288.46" cy="356.64" r="3.35"/><circle cx="141.14" cy="356.64" r="3.35"/><circle cx="289.73" cy="358.04" r="3.35"/><circle cx="139.87" cy="358.04" r="3.35"/><circle cx="291" cy="359.4" r="3.35"/><circle cx="138.6" cy="359.4" r="3.35"/><circle cx="292.27" cy="360.73" r="3.35"/><circle cx="137.33" cy="360.73" r="3.35"/><circle cx="293.54" cy="362.03" r="3.35"/><circle cx="136.06" cy="362.03" r="3.35"/><circle cx="294.81" cy="363.31" r="3.35"/><circle cx="134.79" cy="363.31" r="3.35"/><circle cx="296.08" cy="364.6" r="3.35"/><circle cx="133.52" cy="364.6" r="3.35"/><circle cx="297.35" cy="365.89" r="3.35"/><circle cx="132.25" cy="365.89" r="3.35"/><circle cx="298.62" cy="367.21" r="3.35"/><circle cx="130.98" cy="367.21" r="3.35"/><circle cx="299.89" cy="368.56" r="3.35"/><circle cx="129.71" cy="368.56" r="3.35"/><circle cx="301.16" cy="369.94" r="3.35"/><circle cx="128.44" cy="369.94" r="3.35"/><circle cx="302.43" cy="371.35" r="3.35"/><circle cx="127.17" cy="371.35" r="3.35"/><circle cx="303.7" cy="372.76" r="3.35"/><circle cx="125.9" cy="372.76" r="3.35"/><circle cx="304.97" cy="374.2" r="3.35"/><circle cx="124.63" cy="374.2" r="3.35"/><circle cx="306.24" cy="375.64" r="3.35"/><circle cx="123.36" cy="375.64" r="3.35"/><circle cx="307.51" cy="377.1" r="3.35"/><circle cx="122.09" cy="377.1" r="3.35"/><circle cx="308.78" cy="378.55" r="3.35"/><circle cx="120.82" cy="378.55" r="3.35"/><circle cx="310.05" cy="380.02" r="3.35"/><circle cx="119.55" cy="380.02" r="3.35"/><circle cx="311.32" cy="381.49" r="3.35"/><circle cx="118.28" cy="381.49" r="3.35"/><circle cx="312.59" cy="382.98" r="3.35"/><circle cx="117.01" cy="382.98" r="3.35"/><circle cx="313.86" cy="384.48" r="3.35"/><circle cx="115.74" cy="384.48" r="3.35"/><circle cx="315.13" cy="385.98" r="3.35"/><circle cx="114.47" cy="385.98" r="3.35"/><circle cx="316.4" cy="387.5" r="3.35"/><circle cx="113.2" cy="387.5" r="3.35"/><circle cx="129.71" cy="28.4" r="3.35"/><circle cx="299.89" cy="28.4" r="3.35"/><circle cx="130.98" cy="35.57" r="3.35"/><circle cx="298.62" cy="35.57" r="3.35"/><circle cx="132.25" cy="43.11" r="3.35"/><circle cx="297.35" cy="43.11" r="3.35"/><circle cx="133.52" cy="49.8" r="3.35"/><circle cx="296.08" cy="49.8" r="3.35"/><circle cx="134.79" cy="55.77" r="3.35"/><circle cx="294.81" cy="55.77" r="3.35"/><circle cx="136.06" cy="61.45" r="3.35"/><circle cx="293.54" cy="61.45" r="3.35"/><circle cx="137.33" cy="67.15" r="3.35"/><circle cx="292.27" cy="67.15" r="3.35"/><circle cx="138.6" cy="72.89" r="3.35"/><circle cx="291" cy="72.89" r="3.35"/><circle cx="139.87" cy="78.5" r="3.35"/><circle cx="289.73" cy="78.5" r="3.35"/><circle cx="141.14" cy="83.78" r="3.35"/><circle cx="288.46" cy="83.78" r="3.35"/><circle cx="142.41" cy="88.7" r="3.35"/><circle cx="287.19" cy="88.7" r="3.35"/><circle cx="143.68" cy="93.44" r="3.35"/><circle cx="285.92" cy="93.44" r="3.35"/><circle cx="144.95" cy="98.24" r="3.35"/><circle cx="284.65" cy="98.24" r="3.35"/><circle cx="146.22" cy="103.27" r="3.35"/><circle cx="283.38" cy="103.27" r="3.35"/><circle cx="147.49" cy="108.42" r="3.35"/><circle cx="282.11" cy="108.42" r="3.35"/><circle cx="148.76" cy="113.64" r="3.35"/><circle cx="280.84" cy="113.64" r="3.35"/><circle cx="150.03" cy="118.89" r="3.35"/><circle cx="279.57" cy="118.89" r="3.35"/><circle cx="151.3" cy="124.22" r="3.35"/><circle cx="278.3" cy="124.22" r="3.35"/><circle cx="152.57" cy="129.71" r="3.35"/><circle cx="277.03" cy="129.71" r="3.35"/><circle cx="153.84" cy="135.08" r="3.35"/><circle cx="275.76" cy="135.08" r="3.35"/><circle cx="155.11" cy="140.04" r="3.35"/><circle cx="274.49" cy="140.04" r="3.35"/><circle cx="156.38" cy="144.53" r="3.35"/><circle cx="273.22" cy="144.53" r="3.35"/><circle cx="157.65" cy="148.76" r="3.35"/><circle cx="271.95" cy="148.76" r="3.35"/><circle cx="158.92" cy="152.8" r="3.35"/><circle cx="270.68" cy="152.8" r="3.35"/><circle cx="160.19" cy="156.71" r="3.35"/><circle cx="269.41" cy="156.71" r="3.35"/><circle cx="161.46" cy="160.56" r="3.35"/><circle cx="268.14" cy="160.56" r="3.35"/><circle cx="162.73" cy="164.44" r="3.35"/><circle cx="266.87" cy="164.44" r="3.35"/><circle cx="164" cy="168.4" r="3.35"/><circle cx="265.6" cy="168.4" r="3.35"/><circle cx="165.27" cy="172.51" r="3.35"/><circle cx="264.33" cy="172.51" r="3.35"/><circle cx="166.54" cy="176.73" r="3.35"/><circle cx="263.06" cy="176.73" r="3.35"/><circle cx="167.81" cy="181.01" r="3.35"/><circle cx="261.79" cy="181.01" r="3.35"/><circle cx="169.08" cy="185.31" r="3.35"/><circle cx="260.52" cy="185.31" r="3.35"/><circle cx="170.35" cy="189.56" r="3.35"/><circle cx="259.25" cy="189.56" r="3.35"/><circle cx="171.62" cy="193.73" r="3.35"/><circle cx="257.98" cy="193.73" r="3.35"/><circle cx="172.89" cy="197.75" r="3.35"/><circle cx="256.71" cy="197.75" r="3.35"/><circle cx="174.16" cy="201.59" r="3.35"/><circle cx="255.44" cy="201.59" r="3.35"/><circle cx="175.43" cy="205.25" r="3.35"/><circle cx="254.17" cy="205.25" r="3.35"/><circle cx="176.7" cy="208.79" r="3.35"/><circle cx="252.9" cy="208.79" r="3.35"/><circle cx="177.97" cy="212.24" r="3.35"/><circle cx="251.63" cy="212.24" r="3.35"/><circle cx="179.24" cy="215.61" r="3.35"/><circle cx="250.36" cy="215.61" r="3.35"/><circle cx="180.51" cy="218.9" r="3.35"/><circle cx="249.09" cy="218.9" r="3.35"/><circle cx="181.78" cy="222.13" r="3.35"/><circle cx="247.82" cy="222.13" r="3.35"/><circle cx="183.05" cy="225.32" r="3.35"/><circle cx="246.55" cy="225.32" r="3.35"/><circle cx="184.32" cy="228.47" r="3.35"/><circle cx="245.28" cy="228.47" r="3.35"/><circle cx="185.59" cy="231.59" r="3.35"/><circle cx="244.01" cy="231.59" r="3.35"/><circle cx="186.86" cy="234.71" r="3.35"/><circle cx="242.74" cy="234.71" r="3.35"/><circle cx="188.13" cy="237.79" r="3.35"/><circle cx="241.47" cy="237.79" r="3.35"/><circle cx="189.4" cy="240.79" r="3.35"/><circle cx="240.2" cy="240.79" r="3.35"/><circle cx="190.67" cy="243.65" r="3.35"/><circle cx="238.93" cy="243.65" r="3.35"/><circle cx="191.94" cy="246.33" r="3.35"/><circle cx="237.66" cy="246.33" r="3.35"/><circle cx="193.21" cy="248.84" r="3.35"/><circle cx="236.39" cy="248.84" r="3.35"/><circle cx="194.48" cy="251.24" r="3.35"/><circle cx="235.12" cy="251.24" r="3.35"/><circle cx="195.75" cy="253.57" r="3.35"/><circle cx="233.85" cy="253.57" r="3.35"/><circle cx="197.02" cy="255.88" r="3.35"/><circle cx="232.58" cy="255.88" r="3.35"/><circle cx="198.29" cy="258.21" r="3.35"/><circle cx="231.31" cy="258.21" r="3.35"/><circle cx="199.56" cy="260.62" r="3.35"/><circle cx="230.04" cy="260.62" r="3.35"/><circle cx="200.83" cy="263.12" r="3.35"/><circle cx="228.77" cy="263.12" r="3.35"/><circle cx="202.1" cy="265.65" r="3.35"/><circle cx="227.5" cy="265.65" r="3.35"/><circle cx="203.37" cy="268.12" r="3.35"/><circle cx="226.23" cy="268.12" r="3.35"/><circle cx="204.64" cy="270.48" r="3.35"/><circle cx="224.96" cy="270.48" r="3.35"/><circle cx="205.91" cy="272.76" r="3.35"/><circle cx="223.69" cy="272.76" r="3.35"/><circle cx="207.18" cy="274.82" r="3.35"/><circle cx="222.42" cy="274.82" r="3.35"/><circle cx="208.45" cy="276.67" r="3.35"/><circle cx="221.15" cy="276.67" r="3.35"/><circle cx="209.72" cy="278.34" r="3.35"/><circle cx="219.88" cy="278.34" r="3.35"/><circle cx="210.99" cy="279.59" r="3.35"/><circle cx="218.61" cy="279.59" r="3.35"/><circle cx="212.26" cy="280.49" r="3.35"/><circle cx="217.34" cy="280.49" r="3.35"/><circle cx="213.53" cy="281.2" r="3.35"/><circle cx="216.07" cy="281.2" r="3.35"/><circle cx="214.8" cy="281.6" r="3.35"/><circle cx="113.2" cy="401.5" r="3.35"/><circle cx="316.4" cy="401.5" r="3.35"/><circle cx="114.47" cy="399.27" r="3.35"/><circle cx="315.13" cy="399.27" r="3.35"/><circle cx="115.74" cy="397.07" r="3.35"/><circle cx="313.86" cy="397.07" r="3.35"/><circle cx="117.01" cy="394.91" r="3.35"/><circle cx="312.59" cy="394.91" r="3.35"/><circle cx="118.28" cy="392.79" r="3.35"/><circle cx="311.32" cy="392.79" r="3.35"/><circle cx="119.55" cy="390.72" r="3.35"/><circle cx="310.05" cy="390.72" r="3.35"/><circle cx="120.82" cy="388.69" r="3.35"/><circle cx="308.78" cy="388.69" r="3.35"/><circle cx="122.09" cy="386.69" r="3.35"/><circle cx="307.51" cy="386.69" r="3.35"/><circle cx="123.36" cy="384.71" r="3.35"/><circle cx="306.24" cy="384.71" r="3.35"/><circle cx="124.63" cy="382.77" r="3.35"/><circle cx="304.97" cy="382.77" r="3.35"/><circle cx="125.9" cy="380.87" r="3.35"/><circle cx="303.7" cy="380.87" r="3.35"/><circle cx="127.17" cy="379.01" r="3.35"/><circle cx="302.43" cy="379.01" r="3.35"/><circle cx="128.44" cy="377.2" r="3.35"/><circle cx="301.16" cy="377.2" r="3.35"/><circle cx="129.71" cy="375.44" r="3.35"/><circle cx="299.89" cy="375.44" r="3.35"/><circle cx="130.98" cy="373.72" r="3.35"/><circle cx="298.62" cy="373.72" r="3.35"/><circle cx="132.25" cy="372.05" r="3.35"/><circle cx="297.35" cy="372.05" r="3.35"/><circle cx="133.52" cy="370.41" r="3.35"/><circle cx="296.08" cy="370.41" r="3.35"/><circle cx="134.79" cy="368.81" r="3.35"/><circle cx="294.81" cy="368.81" r="3.35"/><circle cx="136.06" cy="367.23" r="3.35"/><circle cx="293.54" cy="367.23" r="3.35"/><circle cx="137.33" cy="365.68" r="3.35"/><circle cx="292.27" cy="365.68" r="3.35"/><circle cx="138.6" cy="364.16" r="3.35"/><circle cx="291" cy="364.16" r="3.35"/><circle cx="139.87" cy="362.65" r="3.35"/><circle cx="289.73" cy="362.65" r="3.35"/><circle cx="141.14" cy="361.17" r="3.35"/><circle cx="288.46" cy="361.17" r="3.35"/><circle cx="142.41" cy="359.71" r="3.35"/><circle cx="287.19" cy="359.71" r="3.35"/><circle cx="143.68" cy="358.27" r="3.35"/><circle cx="285.92" cy="358.27" r="3.35"/><circle cx="144.95" cy="356.86" r="3.35"/><circle cx="284.65" cy="356.86" r="3.35"/><circle cx="146.22" cy="355.47" r="3.35"/><circle cx="283.38" cy="355.47" r="3.35"/><circle cx="147.49" cy="354.11" r="3.35"/><circle cx="282.11" cy="354.11" r="3.35"/><circle cx="148.76" cy="352.77" r="3.35"/><circle cx="280.84" cy="352.77" r="3.35"/><circle cx="150.03" cy="351.47" r="3.35"/><circle cx="279.57" cy="351.47" r="3.35"/><circle cx="151.3" cy="350.19" r="3.35"/><circle cx="278.3" cy="350.19" r="3.35"/><circle cx="152.57" cy="348.93" r="3.35"/><circle cx="277.03" cy="348.93" r="3.35"/><circle cx="153.84" cy="347.69" r="3.35"/><circle cx="275.76" cy="347.69" r="3.35"/><circle cx="155.11" cy="346.47" r="3.35"/><circle cx="274.49" cy="346.47" r="3.35"/><circle cx="156.38" cy="345.27" r="3.35"/><circle cx="273.22" cy="345.27" r="3.35"/><circle cx="157.65" cy="344.09" r="3.35"/><circle cx="271.95" cy="344.09" r="3.35"/><circle cx="158.92" cy="342.94" r="3.35"/><circle cx="270.68" cy="342.94" r="3.35"/><circle cx="160.19" cy="341.82" r="3.35"/><circle cx="269.41" cy="341.82" r="3.35"/><circle cx="161.46" cy="340.72" r="3.35"/><circle cx="268.14" cy="340.72" r="3.35"/><circle cx="162.73" cy="339.66" r="3.35"/><circle cx="266.87" cy="339.66" r="3.35"/><circle cx="164" cy="338.65" r="3.35"/><circle cx="265.6" cy="338.65" r="3.35"/><circle cx="165.27" cy="337.67" r="3.35"/><circle cx="264.33" cy="337.67" r="3.35"/><circle cx="166.54" cy="336.72" r="3.35"/><circle cx="263.06" cy="336.72" r="3.35"/><circle cx="167.81" cy="335.78" r="3.35"/><circle cx="261.79" cy="335.78" r="3.35"/><circle cx="169.08" cy="334.83" r="3.35"/><circle cx="260.52" cy="334.83" r="3.35"/><circle cx="170.35" cy="333.87" r="3.35"/><circle cx="259.25" cy="333.87" r="3.35"/><circle cx="171.62" cy="332.88" r="3.35"/><circle cx="257.98" cy="332.88" r="3.35"/><circle cx="172.89" cy="331.84" r="3.35"/><circle cx="256.71" cy="331.84" r="3.35"/><circle cx="174.16" cy="330.76" r="3.35"/><circle cx="255.44" cy="330.76" r="3.35"/><circle cx="175.43" cy="329.65" r="3.35"/><circle cx="254.17" cy="329.65" r="3.35"/><circle cx="176.7" cy="328.51" r="3.35"/><circle cx="252.9" cy="328.51" r="3.35"/><circle cx="177.97" cy="327.34" r="3.35"/><circle cx="251.63" cy="327.34" r="3.35"/><circle cx="179.24" cy="326.15" r="3.35"/><circle cx="250.36" cy="326.15" r="3.35"/><circle cx="180.51" cy="324.95" r="3.35"/><circle cx="249.09" cy="324.95" r="3.35"/><circle cx="181.78" cy="323.73" r="3.35"/><circle cx="247.82" cy="323.73" r="3.35"/><circle cx="183.05" cy="322.5" r="3.35"/><circle cx="246.55" cy="322.5" r="3.35"/><circle cx="184.32" cy="321.27" r="3.35"/><circle cx="245.28" cy="321.27" r="3.35"/><circle cx="185.59" cy="320.02" r="3.35"/><circle cx="244.01" cy="320.02" r="3.35"/><circle cx="186.86" cy="318.76" r="3.35"/><circle cx="242.74" cy="318.76" r="3.35"/><circle cx="188.13" cy="317.47" r="3.35"/><circle cx="241.47" cy="317.47" r="3.35"/><circle cx="189.4" cy="316.17" r="3.35"/><circle cx="240.2" cy="316.17" r="3.35"/><circle cx="190.67" cy="314.85" r="3.35"/><circle cx="238.93" cy="314.85" r="3.35"/><circle cx="191.94" cy="313.53" r="3.35"/><circle cx="237.66" cy="313.53" r="3.35"/><circle cx="193.21" cy="312.2" r="3.35"/><circle cx="236.39" cy="312.2" r="3.35"/><circle cx="194.48" cy="310.88" r="3.35"/><circle cx="235.12" cy="310.88" r="3.35"/><circle cx="195.75" cy="309.57" r="3.35"/><circle cx="233.85" cy="309.57" r="3.35"/><circle cx="197.02" cy="308.27" r="3.35"/><circle cx="232.58" cy="308.27" r="3.35"/><circle cx="198.29" cy="306.97" r="3.35"/><circle cx="231.31" cy="306.97" r="3.35"/><circle cx="199.56" cy="305.68" r="3.35"/><circle cx="230.04" cy="305.68" r="3.35"/><circle cx="200.83" cy="304.39" r="3.35"/><circle cx="228.77" cy="304.39" r="3.35"/><circle cx="202.1" cy="303.1" r="3.35"/><circle cx="227.5" cy="303.1" r="3.35"/><circle cx="203.37" cy="301.8" r="3.35"/><circle cx="226.23" cy="301.8" r="3.35"/><circle cx="204.64" cy="300.5" r="3.35"/><circle cx="224.96" cy="300.5" r="3.35"/><circle cx="205.91" cy="299.19" r="3.35"/><circle cx="223.69" cy="299.19" r="3.35"/><circle cx="207.18" cy="297.82" r="3.35"/><circle cx="222.42" cy="297.82" r="3.35"/><circle cx="208.45" cy="296.41" r="3.35"/><circle cx="221.15" cy="296.41" r="3.35"/><circle cx="209.72" cy="295.02" r="3.35"/><circle cx="219.88" cy="295.02" r="3.35"/><circle cx="210.99" cy="293.72" r="3.35"/><circle cx="218.61" cy="293.72" r="3.35"/><circle cx="212.26" cy="292.58" r="3.35"/><circle cx="217.34" cy="292.58" r="3.35"/><circle cx="213.53" cy="291.58" r="3.35"/><circle cx="216.07" cy="291.58" r="3.35"/><circle cx="214.8" cy="290.7" r="3.35"/><circle cx="113.2" cy="410" r="3.35"/><circle cx="316.4" cy="410" r="3.35"/><circle cx="114.47" cy="408.21" r="3.35"/><circle cx="315.13" cy="408.21" r="3.35"/><circle cx="115.74" cy="406.42" r="3.35"/><circle cx="313.86" cy="406.42" r="3.35"/><circle cx="117.01" cy="404.64" r="3.35"/><circle cx="312.59" cy="404.64" r="3.35"/><circle cx="118.28" cy="402.88" r="3.35"/><circle cx="311.32" cy="402.88" r="3.35"/><circle cx="119.55" cy="401.12" r="3.35"/><circle cx="310.05" cy="401.12" r="3.35"/><circle cx="120.82" cy="399.38" r="3.35"/><circle cx="308.78" cy="399.38" r="3.35"/><circle cx="122.09" cy="397.65" r="3.35"/><circle cx="307.51" cy="397.65" r="3.35"/><circle cx="123.36" cy="395.93" r="3.35"/><circle cx="306.24" cy="395.93" r="3.35"/><circle cx="124.63" cy="394.22" r="3.35"/><circle cx="304.97" cy="394.22" r="3.35"/><circle cx="125.9" cy="392.52" r="3.35"/><circle cx="303.7" cy="392.52" r="3.35"/><circle cx="127.17" cy="390.82" r="3.35"/><circle cx="302.43" cy="390.82" r="3.35"/><circle cx="128.44" cy="389.11" r="3.35"/><circle cx="301.16" cy="389.11" r="3.35"/><circle cx="129.71" cy="387.39" r="3.35"/><circle cx="299.89" cy="387.39" r="3.35"/><circle cx="130.98" cy="385.67" r="3.35"/><circle cx="298.62" cy="385.67" r="3.35"/><circle cx="132.25" cy="383.93" r="3.35"/><circle cx="297.35" cy="383.93" r="3.35"/><circle cx="133.52" cy="382.18" r="3.35"/><circle cx="296.08" cy="382.18" r="3.35"/><circle cx="134.79" cy="380.43" r="3.35"/><circle cx="294.81" cy="380.43" r="3.35"/><circle cx="136.06" cy="378.67" r="3.35"/><circle cx="293.54" cy="378.67" r="3.35"/><circle cx="137.33" cy="376.92" r="3.35"/><circle cx="292.27" cy="376.92" r="3.35"/><circle cx="138.6" cy="375.18" r="3.35"/><circle cx="291" cy="375.18" r="3.35"/><circle cx="139.87" cy="373.45" r="3.35"/><circle cx="289.73" cy="373.45" r="3.35"/><circle cx="141.14" cy="371.74" r="3.35"/><circle cx="288.46" cy="371.74" r="3.35"/><circle cx="142.41" cy="370.04" r="3.35"/><circle cx="287.19" cy="370.04" r="3.35"/><circle cx="143.68" cy="368.38" r="3.35"/><circle cx="285.92" cy="368.38" r="3.35"/><circle cx="144.95" cy="366.81" r="3.35"/><circle cx="284.65" cy="366.81" r="3.35"/><circle cx="146.22" cy="365.33" r="3.35"/><circle cx="283.38" cy="365.33" r="3.35"/><circle cx="147.49" cy="363.9" r="3.35"/><circle cx="282.11" cy="363.9" r="3.35"/><circle cx="148.76" cy="362.5" r="3.35"/><circle cx="280.84" cy="362.5" r="3.35"/><circle cx="150.03" cy="361.08" r="3.35"/><circle cx="279.57" cy="361.08" r="3.35"/><circle cx="151.3" cy="359.61" r="3.35"/><circle cx="278.3" cy="359.61" r="3.35"/><circle cx="152.57" cy="358.07" r="3.35"/><circle cx="277.03" cy="358.07" r="3.35"/><circle cx="153.84" cy="356.43" r="3.35"/><circle cx="275.76" cy="356.43" r="3.35"/><circle cx="155.11" cy="354.64" r="3.35"/><circle cx="274.49" cy="354.64" r="3.35"/><circle cx="156.38" cy="352.67" r="3.35"/><circle cx="273.22" cy="352.67" r="3.35"/><circle cx="157.65" cy="350.42" r="3.35"/><circle cx="271.95" cy="350.42" r="3.35"/><circle cx="158.92" cy="347.22" r="3.35"/><circle cx="270.68" cy="347.22" r="3.35"/><circle cx="160.19" cy="343.79" r="3.35"/><circle cx="269.41" cy="343.79" r="3.35"/><circle cx="161.46" cy="341.19" r="3.35"/><circle cx="268.14" cy="341.19" r="3.35"/><circle cx="162.73" cy="339.67" r="3.35"/><circle cx="266.87" cy="339.67" r="3.35"/><circle cx="164" cy="338.39" r="3.35"/><circle cx="265.6" cy="338.39" r="3.35"/><circle cx="165.27" cy="337.31" r="3.35"/><circle cx="264.33" cy="337.31" r="3.35"/><circle cx="166.54" cy="336.37" r="3.35"/><circle cx="263.06" cy="336.37" r="3.35"/><circle cx="167.81" cy="335.53" r="3.35"/><circle cx="261.79" cy="335.53" r="3.35"/><circle cx="169.08" cy="334.73" r="3.35"/><circle cx="260.52" cy="334.73" r="3.35"/><circle cx="170.35" cy="333.93" r="3.35"/><circle cx="259.25" cy="333.93" r="3.35"/><circle cx="171.62" cy="333.08" r="3.35"/><circle cx="257.98" cy="333.08" r="3.35"/><circle cx="172.89" cy="332.13" r="3.35"/><circle cx="256.71" cy="332.13" r="3.35"/><circle cx="174.16" cy="331.08" r="3.35"/><circle cx="255.44" cy="331.08" r="3.35"/><circle cx="175.43" cy="329.99" r="3.35"/><circle cx="254.17" cy="329.99" r="3.35"/><circle cx="176.7" cy="328.89" r="3.35"/><circle cx="252.9" cy="328.89" r="3.35"/><circle cx="177.97" cy="327.76" r="3.35"/><circle cx="251.63" cy="327.76" r="3.35"/><circle cx="179.24" cy="326.6" r="3.35"/><circle cx="250.36" cy="326.6" r="3.35"/><circle cx="180.51" cy="325.42" r="3.35"/><circle cx="249.09" cy="325.42" r="3.35"/><circle cx="181.78" cy="324.17" r="3.35"/><circle cx="247.82" cy="324.17" r="3.35"/><circle cx="183.05" cy="322.89" r="3.35"/><circle cx="246.55" cy="322.89" r="3.35"/><circle cx="184.32" cy="321.64" r="3.35"/><circle cx="245.28" cy="321.64" r="3.35"/><circle cx="185.59" cy="320.47" r="3.35"/><circle cx="244.01" cy="320.47" r="3.35"/><circle cx="186.86" cy="319.37" r="3.35"/><circle cx="242.74" cy="319.37" r="3.35"/><circle cx="188.13" cy="318.3" r="3.35"/><circle cx="241.47" cy="318.3" r="3.35"/><circle cx="189.4" cy="317.23" r="3.35"/><circle cx="240.2" cy="317.23" r="3.35"/><circle cx="190.67" cy="316.1" r="3.35"/><circle cx="238.93" cy="316.1" r="3.35"/><circle cx="191.94" cy="314.92" r="3.35"/><circle cx="237.66" cy="314.92" r="3.35"/><circle cx="193.21" cy="313.73" r="3.35"/><circle cx="236.39" cy="313.73" r="3.35"/><circle cx="194.48" cy="312.56" r="3.35"/><circle cx="235.12" cy="312.56" r="3.35"/><circle cx="195.75" cy="311.44" r="3.35"/><circle cx="233.85" cy="311.44" r="3.35"/><circle cx="197.02" cy="310.33" r="3.35"/><circle cx="232.58" cy="310.33" r="3.35"/><circle cx="198.29" cy="309.26" r="3.35"/><circle cx="231.31" cy="309.26" r="3.35"/><circle cx="199.56" cy="308.24" r="3.35"/><circle cx="230.04" cy="308.24" r="3.35"/><circle cx="200.83" cy="307.27" r="3.35"/><circle cx="228.77" cy="307.27" r="3.35"/><circle cx="202.1" cy="306.32" r="3.35"/><circle cx="227.5" cy="306.32" r="3.35"/><circle cx="203.37" cy="305.44" r="3.35"/><circle cx="226.23" cy="305.44" r="3.35"/><circle cx="204.64" cy="304.68" r="3.35"/><circle cx="224.96" cy="304.68" r="3.35"/><circle cx="205.91" cy="304.06" r="3.35"/><circle cx="223.69" cy="304.06" r="3.35"/><circle cx="207.18" cy="303.48" r="3.35"/><circle cx="222.42" cy="303.48" r="3.35"/><circle cx="208.45" cy="303.01" r="3.35"/><circle cx="221.15" cy="303.01" r="3.35"/><circle cx="209.72" cy="302.71" r="3.35"/><circle cx="219.88" cy="302.71" r="3.35"/><circle cx="210.99" cy="302.55" r="3.35"/><circle cx="218.61" cy="302.55" r="3.35"/><circle cx="212.26" cy="302.42" r="3.35"/><circle cx="217.34" cy="302.42" r="3.35"/><circle cx="213.53" cy="302.33" r="3.35"/><circle cx="216.07" cy="302.33" r="3.35"/><circle cx="214.8" cy="302.3" r="3.35"/><circle cx="117.01" cy="409.76" r="3.35"/><circle cx="312.59" cy="409.76" r="3.35"/><circle cx="118.28" cy="408.41" r="3.35"/><circle cx="311.32" cy="408.41" r="3.35"/><circle cx="119.55" cy="407.01" r="3.35"/><circle cx="310.05" cy="407.01" r="3.35"/><circle cx="120.82" cy="405.55" r="3.35"/><circle cx="308.78" cy="405.55" r="3.35"/><circle cx="122.09" cy="404.02" r="3.35"/><circle cx="307.51" cy="404.02" r="3.35"/><circle cx="123.36" cy="402.45" r="3.35"/><circle cx="306.24" cy="402.45" r="3.35"/><circle cx="124.63" cy="400.85" r="3.35"/><circle cx="304.97" cy="400.85" r="3.35"/><circle cx="125.9" cy="399.23" r="3.35"/><circle cx="303.7" cy="399.23" r="3.35"/><circle cx="127.17" cy="397.6" r="3.35"/><circle cx="302.43" cy="397.6" r="3.35"/><circle cx="128.44" cy="395.97" r="3.35"/><circle cx="301.16" cy="395.97" r="3.35"/><circle cx="129.71" cy="394.36" r="3.35"/><circle cx="299.89" cy="394.36" r="3.35"/><circle cx="130.98" cy="392.77" r="3.35"/><circle cx="298.62" cy="392.77" r="3.35"/><circle cx="132.25" cy="391.18" r="3.35"/><circle cx="297.35" cy="391.18" r="3.35"/><circle cx="133.52" cy="389.58" r="3.35"/><circle cx="296.08" cy="389.58" r="3.35"/><circle cx="134.79" cy="387.98" r="3.35"/><circle cx="294.81" cy="387.98" r="3.35"/><circle cx="136.06" cy="386.39" r="3.35"/><circle cx="293.54" cy="386.39" r="3.35"/><circle cx="137.33" cy="384.8" r="3.35"/><circle cx="292.27" cy="384.8" r="3.35"/><circle cx="138.6" cy="383.22" r="3.35"/><circle cx="291" cy="383.22" r="3.35"/><circle cx="139.87" cy="381.66" r="3.35"/><circle cx="289.73" cy="381.66" r="3.35"/><circle cx="141.14" cy="380.1" r="3.35"/><circle cx="288.46" cy="380.1" r="3.35"/><circle cx="142.41" cy="378.55" r="3.35"/><circle cx="287.19" cy="378.55" r="3.35"/><circle cx="143.68" cy="377.01" r="3.35"/><circle cx="285.92" cy="377.01" r="3.35"/><circle cx="144.95" cy="375.47" r="3.35"/><circle cx="284.65" cy="375.47" r="3.35"/><circle cx="146.22" cy="373.94" r="3.35"/><circle cx="283.38" cy="373.94" r="3.35"/><circle cx="147.49" cy="372.43" r="3.35"/><circle cx="282.11" cy="372.43" r="3.35"/><circle cx="148.76" cy="370.94" r="3.35"/><circle cx="280.84" cy="370.94" r="3.35"/><circle cx="150.03" cy="369.47" r="3.35"/><circle cx="279.57" cy="369.47" r="3.35"/><circle cx="151.3" cy="368" r="3.35"/><circle cx="278.3" cy="368" r="3.35"/><circle cx="152.57" cy="366.55" r="3.35"/><circle cx="277.03" cy="366.55" r="3.35"/><circle cx="153.84" cy="365.09" r="3.35"/><circle cx="275.76" cy="365.09" r="3.35"/><circle cx="155.11" cy="363.66" r="3.35"/><circle cx="274.49" cy="363.66" r="3.35"/><circle cx="156.38" cy="362.24" r="3.35"/><circle cx="273.22" cy="362.24" r="3.35"/><circle cx="157.65" cy="360.84" r="3.35"/><circle cx="271.95" cy="360.84" r="3.35"/><circle cx="158.92" cy="359.47" r="3.35"/><circle cx="270.68" cy="359.47" r="3.35"/><circle cx="160.19" cy="358.14" r="3.35"/><circle cx="269.41" cy="358.14" r="3.35"/><circle cx="161.46" cy="356.84" r="3.35"/><circle cx="268.14" cy="356.84" r="3.35"/><circle cx="162.73" cy="355.59" r="3.35"/><circle cx="266.87" cy="355.59" r="3.35"/><circle cx="164" cy="354.4" r="3.35"/><circle cx="265.6" cy="354.4" r="3.35"/><circle cx="165.27" cy="353.25" r="3.35"/><circle cx="264.33" cy="353.25" r="3.35"/><circle cx="166.54" cy="352.13" r="3.35"/><circle cx="263.06" cy="352.13" r="3.35"/><circle cx="167.81" cy="351.02" r="3.35"/><circle cx="261.79" cy="351.02" r="3.35"/><circle cx="169.08" cy="349.92" r="3.35"/><circle cx="260.52" cy="349.92" r="3.35"/><circle cx="170.35" cy="348.8" r="3.35"/><circle cx="259.25" cy="348.8" r="3.35"/><circle cx="171.62" cy="347.66" r="3.35"/><circle cx="257.98" cy="347.66" r="3.35"/><circle cx="172.89" cy="346.47" r="3.35"/><circle cx="256.71" cy="346.47" r="3.35"/><circle cx="174.16" cy="345.24" r="3.35"/><circle cx="255.44" cy="345.24" r="3.35"/><circle cx="175.43" cy="343.95" r="3.35"/><circle cx="254.17" cy="343.95" r="3.35"/><circle cx="176.7" cy="342.61" r="3.35"/><circle cx="252.9" cy="342.61" r="3.35"/><circle cx="177.97" cy="341.21" r="3.35"/><circle cx="251.63" cy="341.21" r="3.35"/><circle cx="179.24" cy="339.73" r="3.35"/><circle cx="250.36" cy="339.73" r="3.35"/><circle cx="180.51" cy="338.09" r="3.35"/><circle cx="249.09" cy="338.09" r="3.35"/><circle cx="181.78" cy="336.31" r="3.35"/><circle cx="247.82" cy="336.31" r="3.35"/><circle cx="183.05" cy="334.54" r="3.35"/><circle cx="246.55" cy="334.54" r="3.35"/><circle cx="184.32" cy="332.94" r="3.35"/><circle cx="245.28" cy="332.94" r="3.35"/><circle cx="185.59" cy="331.62" r="3.35"/><circle cx="244.01" cy="331.62" r="3.35"/><circle cx="186.86" cy="330.46" r="3.35"/><circle cx="242.74" cy="330.46" r="3.35"/><circle cx="188.13" cy="329.41" r="3.35"/><circle cx="241.47" cy="329.41" r="3.35"/><circle cx="189.4" cy="328.44" r="3.35"/><circle cx="240.2" cy="328.44" r="3.35"/><circle cx="190.67" cy="327.52" r="3.35"/><circle cx="238.93" cy="327.52" r="3.35"/><circle cx="191.94" cy="326.63" r="3.35"/><circle cx="237.66" cy="326.63" r="3.35"/><circle cx="193.21" cy="325.76" r="3.35"/><circle cx="236.39" cy="325.76" r="3.35"/><circle cx="194.48" cy="324.92" r="3.35"/><circle cx="235.12" cy="324.92" r="3.35"/><circle cx="195.75" cy="324.1" r="3.35"/><circle cx="233.85" cy="324.1" r="3.35"/><circle cx="197.02" cy="323.32" r="3.35"/><circle cx="232.58" cy="323.32" r="3.35"/><circle cx="198.29" cy="322.59" r="3.35"/><circle cx="231.31" cy="322.59" r="3.35"/><circle cx="199.56" cy="321.9" r="3.35"/><circle cx="230.04" cy="321.9" r="3.35"/><circle cx="200.83" cy="321.26" r="3.35"/><circle cx="228.77" cy="321.26" r="3.35"/><circle cx="202.1" cy="320.68" r="3.35"/><circle cx="227.5" cy="320.68" r="3.35"/><circle cx="203.37" cy="320.15" r="3.35"/><circle cx="226.23" cy="320.15" r="3.35"/><circle cx="204.64" cy="319.64" r="3.35"/><circle cx="224.96" cy="319.64" r="3.35"/><circle cx="205.91" cy="319.18" r="3.35"/><circle cx="223.69" cy="319.18" r="3.35"/><circle cx="207.18" cy="318.79" r="3.35"/><circle cx="222.42" cy="318.79" r="3.35"/><circle cx="208.45" cy="318.51" r="3.35"/><circle cx="221.15" cy="318.51" r="3.35"/><circle cx="209.72" cy="318.3" r="3.35"/><circle cx="219.88" cy="318.3" r="3.35"/><circle cx="210.99" cy="318.11" r="3.35"/><circle cx="218.61" cy="318.11" r="3.35"/><circle cx="212.26" cy="317.95" r="3.35"/><circle cx="217.34" cy="317.95" r="3.35"/><circle cx="213.53" cy="317.84" r="3.35"/><circle cx="216.07" cy="317.84" r="3.35"/><circle cx="214.8" cy="317.8" r="3.35"/><circle cx="129.71" cy="409.86" r="3.35"/><circle cx="299.89" cy="409.86" r="3.35"/><circle cx="130.98" cy="407.92" r="3.35"/><circle cx="298.62" cy="407.92" r="3.35"/><circle cx="132.25" cy="406.02" r="3.35"/><circle cx="297.35" cy="406.02" r="3.35"/><circle cx="133.52" cy="404.18" r="3.35"/><circle cx="296.08" cy="404.18" r="3.35"/><circle cx="134.79" cy="402.4" r="3.35"/><circle cx="294.81" cy="402.4" r="3.35"/><circle cx="136.06" cy="400.66" r="3.35"/><circle cx="293.54" cy="400.66" r="3.35"/><circle cx="137.33" cy="398.96" r="3.35"/><circle cx="292.27" cy="398.96" r="3.35"/><circle cx="138.6" cy="397.29" r="3.35"/><circle cx="291" cy="397.29" r="3.35"/><circle cx="139.87" cy="395.67" r="3.35"/><circle cx="289.73" cy="395.67" r="3.35"/><circle cx="141.14" cy="394.07" r="3.35"/><circle cx="288.46" cy="394.07" r="3.35"/><circle cx="142.41" cy="392.51" r="3.35"/><circle cx="287.19" cy="392.51" r="3.35"/><circle cx="143.68" cy="390.99" r="3.35"/><circle cx="285.92" cy="390.99" r="3.35"/><circle cx="144.95" cy="389.48" r="3.35"/><circle cx="284.65" cy="389.48" r="3.35"/><circle cx="146.22" cy="387.98" r="3.35"/><circle cx="283.38" cy="387.98" r="3.35"/><circle cx="147.49" cy="386.48" r="3.35"/><circle cx="282.11" cy="386.48" r="3.35"/><circle cx="148.76" cy="384.98" r="3.35"/><circle cx="280.84" cy="384.98" r="3.35"/><circle cx="150.03" cy="383.46" r="3.35"/><circle cx="279.57" cy="383.46" r="3.35"/><circle cx="151.3" cy="381.91" r="3.35"/><circle cx="278.3" cy="381.91" r="3.35"/><circle cx="152.57" cy="380.35" r="3.35"/><circle cx="277.03" cy="380.35" r="3.35"/><circle cx="153.84" cy="378.8" r="3.35"/><circle cx="275.76" cy="378.8" r="3.35"/><circle cx="155.11" cy="377.29" r="3.35"/><circle cx="274.49" cy="377.29" r="3.35"/><circle cx="156.38" cy="375.85" r="3.35"/><circle cx="273.22" cy="375.85" r="3.35"/><circle cx="157.65" cy="374.47" r="3.35"/><circle cx="271.95" cy="374.47" r="3.35"/><circle cx="158.92" cy="373.13" r="3.35"/><circle cx="270.68" cy="373.13" r="3.35"/><circle cx="160.19" cy="371.82" r="3.35"/><circle cx="269.41" cy="371.82" r="3.35"/><circle cx="161.46" cy="370.54" r="3.35"/><circle cx="268.14" cy="370.54" r="3.35"/><circle cx="162.73" cy="369.26" r="3.35"/><circle cx="266.87" cy="369.26" r="3.35"/><circle cx="164" cy="367.98" r="3.35"/><circle cx="265.6" cy="367.98" r="3.35"/><circle cx="165.27" cy="366.7" r="3.35"/><circle cx="264.33" cy="366.7" r="3.35"/><circle cx="166.54" cy="365.4" r="3.35"/><circle cx="263.06" cy="365.4" r="3.35"/><circle cx="167.81" cy="364.07" r="3.35"/><circle cx="261.79" cy="364.07" r="3.35"/><circle cx="169.08" cy="362.72" r="3.35"/><circle cx="260.52" cy="362.72" r="3.35"/><circle cx="170.35" cy="361.35" r="3.35"/><circle cx="259.25" cy="361.35" r="3.35"/><circle cx="171.62" cy="359.97" r="3.35"/><circle cx="257.98" cy="359.97" r="3.35"/><circle cx="172.89" cy="358.59" r="3.35"/><circle cx="256.71" cy="358.59" r="3.35"/><circle cx="174.16" cy="357.22" r="3.35"/><circle cx="255.44" cy="357.22" r="3.35"/><circle cx="175.43" cy="355.85" r="3.35"/><circle cx="254.17" cy="355.85" r="3.35"/><circle cx="176.7" cy="354.5" r="3.35"/><circle cx="252.9" cy="354.5" r="3.35"/><circle cx="177.97" cy="353.16" r="3.35"/><circle cx="251.63" cy="353.16" r="3.35"/><circle cx="179.24" cy="351.86" r="3.35"/><circle cx="250.36" cy="351.86" r="3.35"/><circle cx="180.51" cy="350.53" r="3.35"/><circle cx="249.09" cy="350.53" r="3.35"/><circle cx="181.78" cy="349.19" r="3.35"/><circle cx="247.82" cy="349.19" r="3.35"/><circle cx="183.05" cy="347.91" r="3.35"/><circle cx="246.55" cy="347.91" r="3.35"/><circle cx="184.32" cy="346.75" r="3.35"/><circle cx="245.28" cy="346.75" r="3.35"/><circle cx="185.59" cy="345.76" r="3.35"/><circle cx="244.01" cy="345.76" r="3.35"/><circle cx="186.86" cy="344.86" r="3.35"/><circle cx="242.74" cy="344.86" r="3.35"/><circle cx="188.13" cy="344.04" r="3.35"/><circle cx="241.47" cy="344.04" r="3.35"/><circle cx="189.4" cy="343.3" r="3.35"/><circle cx="240.2" cy="343.3" r="3.35"/><circle cx="190.67" cy="342.62" r="3.35"/><circle cx="238.93" cy="342.62" r="3.35"/><circle cx="191.94" cy="341.97" r="3.35"/><circle cx="237.66" cy="341.97" r="3.35"/><circle cx="193.21" cy="341.34" r="3.35"/><circle cx="236.39" cy="341.34" r="3.35"/><circle cx="194.48" cy="340.73" r="3.35"/><circle cx="235.12" cy="340.73" r="3.35"/><circle cx="195.75" cy="340.15" r="3.35"/><circle cx="233.85" cy="340.15" r="3.35"/><circle cx="197.02" cy="339.61" r="3.35"/><circle cx="232.58" cy="339.61" r="3.35"/><circle cx="198.29" cy="339.1" r="3.35"/><circle cx="231.31" cy="339.1" r="3.35"/><circle cx="199.56" cy="338.63" r="3.35"/><circle cx="230.04" cy="338.63" r="3.35"/><circle cx="200.83" cy="338.21" r="3.35"/><circle cx="228.77" cy="338.21" r="3.35"/><circle cx="202.1" cy="337.85" r="3.35"/><circle cx="227.5" cy="337.85" r="3.35"/><circle cx="203.37" cy="337.53" r="3.35"/><circle cx="226.23" cy="337.53" r="3.35"/><circle cx="204.64" cy="337.23" r="3.35"/><circle cx="224.96" cy="337.23" r="3.35"/><circle cx="205.91" cy="336.96" r="3.35"/><circle cx="223.69" cy="336.96" r="3.35"/><circle cx="207.18" cy="336.75" r="3.35"/><circle cx="222.42" cy="336.75" r="3.35"/><circle cx="208.45" cy="336.6" r="3.35"/><circle cx="221.15" cy="336.6" r="3.35"/><circle cx="209.72" cy="336.51" r="3.35"/><circle cx="219.88" cy="336.51" r="3.35"/><circle cx="210.99" cy="336.43" r="3.35"/><circle cx="218.61" cy="336.43" r="3.35"/><circle cx="212.26" cy="336.36" r="3.35"/><circle cx="217.34" cy="336.36" r="3.35"/><circle cx="213.53" cy="336.32" r="3.35"/><circle cx="216.07" cy="336.32" r="3.35"/><circle cx="214.8" cy="336.3" r="3.35"/><circle cx="142.41" cy="410.48" r="3.35"/><circle cx="287.19" cy="410.48" r="3.35"/><circle cx="143.68" cy="407.7" r="3.35"/><circle cx="285.92" cy="407.7" r="3.35"/><circle cx="144.95" cy="405.06" r="3.35"/><circle cx="284.65" cy="405.06" r="3.35"/><circle cx="146.22" cy="402.58" r="3.35"/><circle cx="283.38" cy="402.58" r="3.35"/><circle cx="147.49" cy="400.23" r="3.35"/><circle cx="282.11" cy="400.23" r="3.35"/><circle cx="148.76" cy="398.01" r="3.35"/><circle cx="280.84" cy="398.01" r="3.35"/><circle cx="150.03" cy="395.95" r="3.35"/><circle cx="279.57" cy="395.95" r="3.35"/><circle cx="151.3" cy="394.03" r="3.35"/><circle cx="278.3" cy="394.03" r="3.35"/><circle cx="152.57" cy="392.19" r="3.35"/><circle cx="277.03" cy="392.19" r="3.35"/><circle cx="153.84" cy="390.47" r="3.35"/><circle cx="275.76" cy="390.47" r="3.35"/><circle cx="155.11" cy="388.89" r="3.35"/><circle cx="274.49" cy="388.89" r="3.35"/><circle cx="156.38" cy="387.47" r="3.35"/><circle cx="273.22" cy="387.47" r="3.35"/><circle cx="157.65" cy="386.18" r="3.35"/><circle cx="271.95" cy="386.18" r="3.35"/><circle cx="158.92" cy="384.97" r="3.35"/><circle cx="270.68" cy="384.97" r="3.35"/><circle cx="160.19" cy="383.84" r="3.35"/><circle cx="269.41" cy="383.84" r="3.35"/><circle cx="161.46" cy="382.75" r="3.35"/><circle cx="268.14" cy="382.75" r="3.35"/><circle cx="162.73" cy="381.7" r="3.35"/><circle cx="266.87" cy="381.7" r="3.35"/><circle cx="164" cy="380.66" r="3.35"/><circle cx="265.6" cy="380.66" r="3.35"/><circle cx="165.27" cy="379.62" r="3.35"/><circle cx="264.33" cy="379.62" r="3.35"/><circle cx="166.54" cy="378.55" r="3.35"/><circle cx="263.06" cy="378.55" r="3.35"/><circle cx="167.81" cy="377.44" r="3.35"/><circle cx="261.79" cy="377.44" r="3.35"/><circle cx="169.08" cy="376.3" r="3.35"/><circle cx="260.52" cy="376.3" r="3.35"/><circle cx="170.35" cy="375.16" r="3.35"/><circle cx="259.25" cy="375.16" r="3.35"/><circle cx="171.62" cy="374.02" r="3.35"/><circle cx="257.98" cy="374.02" r="3.35"/><circle cx="172.89" cy="372.88" r="3.35"/><circle cx="256.71" cy="372.88" r="3.35"/><circle cx="174.16" cy="371.75" r="3.35"/><circle cx="255.44" cy="371.75" r="3.35"/><circle cx="175.43" cy="370.63" r="3.35"/><circle cx="254.17" cy="370.63" r="3.35"/><circle cx="176.7" cy="369.52" r="3.35"/><circle cx="252.9" cy="369.52" r="3.35"/><circle cx="177.97" cy="368.44" r="3.35"/><circle cx="251.63" cy="368.44" r="3.35"/><circle cx="179.24" cy="367.38" r="3.35"/><circle cx="250.36" cy="367.38" r="3.35"/><circle cx="180.51" cy="366.31" r="3.35"/><circle cx="249.09" cy="366.31" r="3.35"/><circle cx="181.78" cy="365.24" r="3.35"/><circle cx="247.82" cy="365.24" r="3.35"/><circle cx="183.05" cy="364.22" r="3.35"/><circle cx="246.55" cy="364.22" r="3.35"/><circle cx="184.32" cy="363.32" r="3.35"/><circle cx="245.28" cy="363.32" r="3.35"/><circle cx="185.59" cy="362.57" r="3.35"/><circle cx="244.01" cy="362.57" r="3.35"/><circle cx="186.86" cy="361.92" r="3.35"/><circle cx="242.74" cy="361.92" r="3.35"/><circle cx="188.13" cy="361.34" r="3.35"/><circle cx="241.47" cy="361.34" r="3.35"/><circle cx="189.4" cy="360.81" r="3.35"/><circle cx="240.2" cy="360.81" r="3.35"/><circle cx="190.67" cy="360.31" r="3.35"/><circle cx="238.93" cy="360.31" r="3.35"/><circle cx="191.94" cy="359.82" r="3.35"/><circle cx="237.66" cy="359.82" r="3.35"/><circle cx="193.21" cy="359.34" r="3.35"/><circle cx="236.39" cy="359.34" r="3.35"/><circle cx="194.48" cy="358.87" r="3.35"/><circle cx="235.12" cy="358.87" r="3.35"/><circle cx="195.75" cy="358.42" r="3.35"/><circle cx="233.85" cy="358.42" r="3.35"/><circle cx="197.02" cy="357.99" r="3.35"/><circle cx="232.58" cy="357.99" r="3.35"/><circle cx="198.29" cy="357.58" r="3.35"/><circle cx="231.31" cy="357.58" r="3.35"/><circle cx="199.56" cy="357.2" r="3.35"/><circle cx="230.04" cy="357.2" r="3.35"/><circle cx="200.83" cy="356.85" r="3.35"/><circle cx="228.77" cy="356.85" r="3.35"/><circle cx="202.1" cy="356.55" r="3.35"/><circle cx="227.5" cy="356.55" r="3.35"/><circle cx="203.37" cy="356.26" r="3.35"/><circle cx="226.23" cy="356.26" r="3.35"/><circle cx="204.64" cy="356" r="3.35"/><circle cx="224.96" cy="356" r="3.35"/><circle cx="205.91" cy="355.76" r="3.35"/><circle cx="223.69" cy="355.76" r="3.35"/><circle cx="207.18" cy="355.56" r="3.35"/><circle cx="222.42" cy="355.56" r="3.35"/><circle cx="208.45" cy="355.4" r="3.35"/><circle cx="221.15" cy="355.4" r="3.35"/><circle cx="209.72" cy="355.29" r="3.35"/><circle cx="219.88" cy="355.29" r="3.35"/><circle cx="210.99" cy="355.18" r="3.35"/><circle cx="218.61" cy="355.18" r="3.35"/><circle cx="212.26" cy="355.09" r="3.35"/><circle cx="217.34" cy="355.09" r="3.35"/><circle cx="213.53" cy="355.03" r="3.35"/><circle cx="216.07" cy="355.03" r="3.35"/><circle cx="214.8" cy="355" r="3.35"/><circle cx="142.41" cy="407.8" r="3.35"/><circle cx="287.19" cy="407.8" r="3.35"/><circle cx="143.68" cy="401.32" r="3.35"/><circle cx="285.92" cy="401.32" r="3.35"/><circle cx="144.95" cy="397.39" r="3.35"/><circle cx="284.65" cy="397.39" r="3.35"/><circle cx="146.22" cy="394.57" r="3.35"/><circle cx="283.38" cy="394.57" r="3.35"/><circle cx="147.49" cy="392.37" r="3.35"/><circle cx="282.11" cy="392.37" r="3.35"/><circle cx="148.76" cy="390.55" r="3.35"/><circle cx="280.84" cy="390.55" r="3.35"/><circle cx="150.03" cy="388.96" r="3.35"/><circle cx="279.57" cy="388.96" r="3.35"/><circle cx="151.3" cy="387.5" r="3.35"/><circle cx="278.3" cy="387.5" r="3.35"/><circle cx="152.57" cy="386.17" r="3.35"/><circle cx="277.03" cy="386.17" r="3.35"/><circle cx="153.84" cy="385" r="3.35"/><circle cx="275.76" cy="385" r="3.35"/><circle cx="155.11" cy="383.99" r="3.35"/><circle cx="274.49" cy="383.99" r="3.35"/><circle cx="156.38" cy="383.08" r="3.35"/><circle cx="273.22" cy="383.08" r="3.35"/><circle cx="157.65" cy="382.24" r="3.35"/><circle cx="271.95" cy="382.24" r="3.35"/><circle cx="158.92" cy="381.5" r="3.35"/><circle cx="270.68" cy="381.5" r="3.35"/><circle cx="160.19" cy="380.85" r="3.35"/><circle cx="269.41" cy="380.85" r="3.35"/><circle cx="161.46" cy="380.32" r="3.35"/><circle cx="268.14" cy="380.32" r="3.35"/><circle cx="162.73" cy="379.83" r="3.35"/><circle cx="266.87" cy="379.83" r="3.35"/><circle cx="164" cy="379.39" r="3.35"/><circle cx="265.6" cy="379.39" r="3.35"/><circle cx="165.27" cy="378.99" r="3.35"/><circle cx="264.33" cy="378.99" r="3.35"/><circle cx="166.54" cy="378.64" r="3.35"/><circle cx="263.06" cy="378.64" r="3.35"/><circle cx="167.81" cy="378.36" r="3.35"/><circle cx="261.79" cy="378.36" r="3.35"/><circle cx="169.08" cy="378.14" r="3.35"/><circle cx="260.52" cy="378.14" r="3.35"/><circle cx="170.35" cy="377.96" r="3.35"/><circle cx="259.25" cy="377.96" r="3.35"/><circle cx="171.62" cy="377.8" r="3.35"/><circle cx="257.98" cy="377.8" r="3.35"/><circle cx="172.89" cy="377.66" r="3.35"/><circle cx="256.71" cy="377.66" r="3.35"/><circle cx="174.16" cy="377.54" r="3.35"/><circle cx="255.44" cy="377.54" r="3.35"/><circle cx="175.43" cy="377.43" r="3.35"/><circle cx="254.17" cy="377.43" r="3.35"/><circle cx="176.7" cy="377.32" r="3.35"/><circle cx="252.9" cy="377.32" r="3.35"/><circle cx="177.97" cy="377.2" r="3.35"/><circle cx="251.63" cy="377.2" r="3.35"/><circle cx="179.24" cy="377.09" r="3.35"/><circle cx="250.36" cy="377.09" r="3.35"/><circle cx="180.51" cy="376.99" r="3.35"/><circle cx="249.09" cy="376.99" r="3.35"/><circle cx="181.78" cy="376.89" r="3.35"/><circle cx="247.82" cy="376.89" r="3.35"/><circle cx="183.05" cy="376.79" r="3.35"/><circle cx="246.55" cy="376.79" r="3.35"/><circle cx="184.32" cy="376.7" r="3.35"/><circle cx="245.28" cy="376.7" r="3.35"/><circle cx="185.59" cy="376.61" r="3.35"/><circle cx="244.01" cy="376.61" r="3.35"/><circle cx="186.86" cy="376.51" r="3.35"/><circle cx="242.74" cy="376.51" r="3.35"/><circle cx="188.13" cy="376.42" r="3.35"/><circle cx="241.47" cy="376.42" r="3.35"/><circle cx="189.4" cy="376.32" r="3.35"/><circle cx="240.2" cy="376.32" r="3.35"/><circle cx="190.67" cy="376.21" r="3.35"/><circle cx="238.93" cy="376.21" r="3.35"/><circle cx="191.94" cy="376.1" r="3.35"/><circle cx="237.66" cy="376.1" r="3.35"/><circle cx="193.21" cy="375.98" r="3.35"/><circle cx="236.39" cy="375.98" r="3.35"/><circle cx="194.48" cy="375.86" r="3.35"/><circle cx="235.12" cy="375.86" r="3.35"/><circle cx="195.75" cy="375.75" r="3.35"/><circle cx="233.85" cy="375.75" r="3.35"/><circle cx="197.02" cy="375.63" r="3.35"/><circle cx="232.58" cy="375.63" r="3.35"/><circle cx="198.29" cy="375.52" r="3.35"/><circle cx="231.31" cy="375.52" r="3.35"/><circle cx="199.56" cy="375.41" r="3.35"/><circle cx="230.04" cy="375.41" r="3.35"/><circle cx="200.83" cy="375.31" r="3.35"/><circle cx="228.77" cy="375.31" r="3.35"/><circle cx="202.1" cy="375.21" r="3.35"/><circle cx="227.5" cy="375.21" r="3.35"/><circle cx="203.37" cy="375.13" r="3.35"/><circle cx="226.23" cy="375.13" r="3.35"/><circle cx="204.64" cy="375.05" r="3.35"/><circle cx="224.96" cy="375.05" r="3.35"/><circle cx="205.91" cy="374.96" r="3.35"/><circle cx="223.69" cy="374.96" r="3.35"/><circle cx="207.18" cy="374.89" r="3.35"/><circle cx="222.42" cy="374.89" r="3.35"/><circle cx="208.45" cy="374.81" r="3.35"/><circle cx="221.15" cy="374.81" r="3.35"/><circle cx="209.72" cy="374.74" r="3.35"/><circle cx="219.88" cy="374.74" r="3.35"/><circle cx="210.99" cy="374.68" r="3.35"/><circle cx="218.61" cy="374.68" r="3.35"/><circle cx="212.26" cy="374.61" r="3.35"/><circle cx="217.34" cy="374.61" r="3.35"/><circle cx="213.53" cy="374.55" r="3.35"/><circle cx="216.07" cy="374.55" r="3.35"/><circle cx="214.8" cy="374.5" r="3.35"/><circle cx="164" cy="410.5" r="3.35"/><circle cx="265.6" cy="410.5" r="3.35"/><circle cx="165.27" cy="409.42" r="3.35"/><circle cx="264.33" cy="409.42" r="3.35"/><circle cx="166.54" cy="408.37" r="3.35"/><circle cx="263.06" cy="408.37" r="3.35"/><circle cx="167.81" cy="407.36" r="3.35"/><circle cx="261.79" cy="407.36" r="3.35"/><circle cx="169.08" cy="406.38" r="3.35"/><circle cx="260.52" cy="406.38" r="3.35"/><circle cx="170.35" cy="405.44" r="3.35"/><circle cx="259.25" cy="405.44" r="3.35"/><circle cx="171.62" cy="404.54" r="3.35"/><circle cx="257.98" cy="404.54" r="3.35"/><circle cx="172.89" cy="403.69" r="3.35"/><circle cx="256.71" cy="403.69" r="3.35"/><circle cx="174.16" cy="402.89" r="3.35"/><circle cx="255.44" cy="402.89" r="3.35"/><circle cx="175.43" cy="402.12" r="3.35"/><circle cx="254.17" cy="402.12" r="3.35"/><circle cx="176.7" cy="401.38" r="3.35"/><circle cx="252.9" cy="401.38" r="3.35"/><circle cx="177.97" cy="400.67" r="3.35"/><circle cx="251.63" cy="400.67" r="3.35"/><circle cx="179.24" cy="399.98" r="3.35"/><circle cx="250.36" cy="399.98" r="3.35"/><circle cx="180.51" cy="399.33" r="3.35"/><circle cx="249.09" cy="399.33" r="3.35"/><circle cx="181.78" cy="398.71" r="3.35"/><circle cx="247.82" cy="398.71" r="3.35"/><circle cx="183.05" cy="398.13" r="3.35"/><circle cx="246.55" cy="398.13" r="3.35"/><circle cx="184.32" cy="397.58" r="3.35"/><circle cx="245.28" cy="397.58" r="3.35"/><circle cx="185.59" cy="397.06" r="3.35"/><circle cx="244.01" cy="397.06" r="3.35"/><circle cx="186.86" cy="396.56" r="3.35"/><circle cx="242.74" cy="396.56" r="3.35"/><circle cx="188.13" cy="396.06" r="3.35"/><circle cx="241.47" cy="396.06" r="3.35"/><circle cx="189.4" cy="395.58" r="3.35"/><circle cx="240.2" cy="395.58" r="3.35"/><circle cx="190.67" cy="395.14" r="3.35"/><circle cx="238.93" cy="395.14" r="3.35"/><circle cx="191.94" cy="394.74" r="3.35"/><circle cx="237.66" cy="394.74" r="3.35"/><circle cx="193.21" cy="394.39" r="3.35"/><circle cx="236.39" cy="394.39" r="3.35"/><circle cx="194.48" cy="394.1" r="3.35"/><circle cx="235.12" cy="394.1" r="3.35"/><circle cx="195.75" cy="393.87" r="3.35"/><circle cx="233.85" cy="393.87" r="3.35"/><circle cx="197.02" cy="393.67" r="3.35"/><circle cx="232.58" cy="393.67" r="3.35"/><circle cx="198.29" cy="393.48" r="3.35"/><circle cx="231.31" cy="393.48" r="3.35"/><circle cx="199.56" cy="393.31" r="3.35"/><circle cx="230.04" cy="393.31" r="3.35"/><circle cx="200.83" cy="393.16" r="3.35"/><circle cx="228.77" cy="393.16" r="3.35"/><circle cx="202.1" cy="393.03" r="3.35"/><circle cx="227.5" cy="393.03" r="3.35"/><circle cx="203.37" cy="392.92" r="3.35"/><circle cx="226.23" cy="392.92" r="3.35"/><circle cx="204.64" cy="392.82" r="3.35"/><circle cx="224.96" cy="392.82" r="3.35"/><circle cx="205.91" cy="392.74" r="3.35"/><circle cx="223.69" cy="392.74" r="3.35"/><circle cx="207.18" cy="392.67" r="3.35"/><circle cx="222.42" cy="392.67" r="3.35"/><circle cx="208.45" cy="392.6" r="3.35"/><circle cx="221.15" cy="392.6" r="3.35"/><circle cx="209.72" cy="392.54" r="3.35"/><circle cx="219.88" cy="392.54" r="3.35"/><circle cx="210.99" cy="392.48" r="3.35"/><circle cx="218.61" cy="392.48" r="3.35"/><circle cx="212.26" cy="392.44" r="3.35"/><circle cx="217.34" cy="392.44" r="3.35"/><circle cx="213.53" cy="392.41" r="3.35"/><circle cx="216.07" cy="392.41" r="3.35"/><circle cx="214.8" cy="392.4" r="3.35"/><circle cx="113.2" cy="409" r="3.35"/><circle cx="316.4" cy="409" r="3.35"/><circle cx="114.47" cy="408.77" r="3.35"/><circle cx="315.13" cy="408.77" r="3.35"/><circle cx="115.74" cy="408.52" r="3.35"/><circle cx="313.86" cy="408.52" r="3.35"/><circle cx="117.01" cy="408.24" r="3.35"/><circle cx="312.59" cy="408.24" r="3.35"/><circle cx="118.28" cy="407.94" r="3.35"/><circle cx="311.32" cy="407.94" r="3.35"/><circle cx="119.55" cy="407.62" r="3.35"/><circle cx="310.05" cy="407.62" r="3.35"/><circle cx="120.82" cy="407.28" r="3.35"/><circle cx="308.78" cy="407.28" r="3.35"/><circle cx="122.09" cy="406.9" r="3.35"/><circle cx="307.51" cy="406.9" r="3.35"/><circle cx="123.36" cy="406.51" r="3.35"/><circle cx="306.24" cy="406.51" r="3.35"/><circle cx="124.63" cy="406.08" r="3.35"/><circle cx="304.97" cy="406.08" r="3.35"/><circle cx="125.9" cy="405.63" r="3.35"/><circle cx="303.7" cy="405.63" r="3.35"/><circle cx="127.17" cy="405.15" r="3.35"/><circle cx="302.43" cy="405.15" r="3.35"/><circle cx="128.44" cy="404.65" r="3.35"/><circle cx="301.16" cy="404.65" r="3.35"/><circle cx="129.71" cy="404.12" r="3.35"/><circle cx="299.89" cy="404.12" r="3.35"/><circle cx="130.98" cy="403.57" r="3.35"/><circle cx="298.62" cy="403.57" r="3.35"/><circle cx="132.25" cy="402.98" r="3.35"/><circle cx="297.35" cy="402.98" r="3.35"/><circle cx="133.52" cy="402.35" r="3.35"/><circle cx="296.08" cy="402.35" r="3.35"/><circle cx="134.79" cy="401.68" r="3.35"/><circle cx="294.81" cy="401.68" r="3.35"/><circle cx="136.06" cy="400.97" r="3.35"/><circle cx="293.54" cy="400.97" r="3.35"/><circle cx="137.33" cy="400.22" r="3.35"/><circle cx="292.27" cy="400.22" r="3.35"/><circle cx="138.6" cy="399.43" r="3.35"/><circle cx="291" cy="399.43" r="3.35"/><circle cx="139.87" cy="398.59" r="3.35"/><circle cx="289.73" cy="398.59" r="3.35"/><circle cx="141.14" cy="397.67" r="3.35"/><circle cx="288.46" cy="397.67" r="3.35"/><circle cx="142.41" cy="396.64" r="3.35"/><circle cx="287.19" cy="396.64" r="3.35"/><circle cx="143.68" cy="395.52" r="3.35"/><circle cx="285.92" cy="395.52" r="3.35"/><circle cx="144.95" cy="394.35" r="3.35"/><circle cx="284.65" cy="394.35" r="3.35"/><circle cx="146.22" cy="393.15" r="3.35"/><circle cx="283.38" cy="393.15" r="3.35"/><circle cx="147.49" cy="391.97" r="3.35"/><circle cx="282.11" cy="391.97" r="3.35"/><circle cx="148.76" cy="390.79" r="3.35"/><circle cx="280.84" cy="390.79" r="3.35"/><circle cx="150.03" cy="389.54" r="3.35"/><circle cx="279.57" cy="389.54" r="3.35"/><circle cx="151.3" cy="388.27" r="3.35"/><circle cx="278.3" cy="388.27" r="3.35"/><circle cx="152.57" cy="387.04" r="3.35"/><circle cx="277.03" cy="387.04" r="3.35"/><circle cx="153.84" cy="385.89" r="3.35"/><circle cx="275.76" cy="385.89" r="3.35"/><circle cx="155.11" cy="384.89" r="3.35"/><circle cx="274.49" cy="384.89" r="3.35"/><circle cx="156.38" cy="383.96" r="3.35"/><circle cx="273.22" cy="383.96" r="3.35"/><circle cx="157.65" cy="383.09" r="3.35"/><circle cx="271.95" cy="383.09" r="3.35"/><circle cx="158.92" cy="382.29" r="3.35"/><circle cx="270.68" cy="382.29" r="3.35"/><circle cx="160.19" cy="381.59" r="3.35"/><circle cx="269.41" cy="381.59" r="3.35"/><circle cx="161.46" cy="381" r="3.35"/><circle cx="268.14" cy="381" r="3.35"/><circle cx="162.73" cy="380.45" r="3.35"/><circle cx="266.87" cy="380.45" r="3.35"/><circle cx="164" cy="379.94" r="3.35"/><circle cx="265.6" cy="379.94" r="3.35"/><circle cx="165.27" cy="379.48" r="3.35"/><circle cx="264.33" cy="379.48" r="3.35"/><circle cx="166.54" cy="379.09" r="3.35"/><circle cx="263.06" cy="379.09" r="3.35"/><circle cx="167.81" cy="378.77" r="3.35"/><circle cx="261.79" cy="378.77" r="3.35"/><circle cx="169.08" cy="378.54" r="3.35"/><circle cx="260.52" cy="378.54" r="3.35"/><circle cx="170.35" cy="378.34" r="3.35"/><circle cx="259.25" cy="378.34" r="3.35"/><circle cx="171.62" cy="378.16" r="3.35"/><circle cx="257.98" cy="378.16" r="3.35"/><circle cx="172.89" cy="378" r="3.35"/><circle cx="256.71" cy="378" r="3.35"/><circle cx="174.16" cy="377.87" r="3.35"/><circle cx="255.44" cy="377.87" r="3.35"/><circle cx="175.43" cy="377.77" r="3.35"/><circle cx="254.17" cy="377.77" r="3.35"/><circle cx="176.7" cy="377.71" r="3.35"/><circle cx="252.9" cy="377.71" r="3.35"/><circle cx="177.97" cy="377.68" r="3.35"/><circle cx="251.63" cy="377.68" r="3.35"/><circle cx="179.24" cy="377.65" r="3.35"/><circle cx="250.36" cy="377.65" r="3.35"/><circle cx="180.51" cy="377.63" r="3.35"/><circle cx="249.09" cy="377.63" r="3.35"/><circle cx="181.78" cy="377.61" r="3.35"/><circle cx="247.82" cy="377.61" r="3.35"/><circle cx="183.05" cy="377.6" r="3.35"/><circle cx="246.55" cy="377.6" r="3.35"/><circle cx="184.32" cy="377.6" r="3.35"/><circle cx="245.28" cy="377.6" r="3.35"/><circle cx="185.59" cy="377.65" r="3.35"/><circle cx="244.01" cy="377.65" r="3.35"/><circle cx="186.86" cy="377.76" r="3.35"/><circle cx="242.74" cy="377.76" r="3.35"/><circle cx="188.13" cy="377.92" r="3.35"/><circle cx="241.47" cy="377.92" r="3.35"/><circle cx="189.4" cy="378.11" r="3.35"/><circle cx="240.2" cy="378.11" r="3.35"/><circle cx="190.67" cy="378.31" r="3.35"/><circle cx="238.93" cy="378.31" r="3.35"/><circle cx="191.94" cy="378.59" r="3.35"/><circle cx="237.66" cy="378.59" r="3.35"/><circle cx="193.21" cy="378.95" r="3.35"/><circle cx="236.39" cy="378.95" r="3.35"/><circle cx="194.48" cy="379.36" r="3.35"/><circle cx="235.12" cy="379.36" r="3.35"/><circle cx="195.75" cy="379.82" r="3.35"/><circle cx="233.85" cy="379.82" r="3.35"/><circle cx="197.02" cy="380.38" r="3.35"/><circle cx="232.58" cy="380.38" r="3.35"/><circle cx="198.29" cy="381.08" r="3.35"/><circle cx="231.31" cy="381.08" r="3.35"/><circle cx="199.56" cy="381.88" r="3.35"/><circle cx="230.04" cy="381.88" r="3.35"/><circle cx="200.83" cy="382.75" r="3.35"/><circle cx="228.77" cy="382.75" r="3.35"/><circle cx="202.1" cy="383.66" r="3.35"/><circle cx="227.5" cy="383.66" r="3.35"/><circle cx="203.37" cy="384.57" r="3.35"/><circle cx="226.23" cy="384.57" r="3.35"/><circle cx="204.64" cy="385.46" r="3.35"/><circle cx="224.96" cy="385.46" r="3.35"/><circle cx="205.91" cy="386.31" r="3.35"/><circle cx="223.69" cy="386.31" r="3.35"/><circle cx="207.18" cy="387.15" r="3.35"/><circle cx="222.42" cy="387.15" r="3.35"/><circle cx="208.45" cy="388" r="3.35"/><circle cx="221.15" cy="388" r="3.35"/><circle cx="209.72" cy="388.87" r="3.35"/><circle cx="219.88" cy="388.87" r="3.35"/><circle cx="210.99" cy="389.75" r="3.35"/><circle cx="218.61" cy="389.75" r="3.35"/><circle cx="212.26" cy="390.66" r="3.35"/><circle cx="217.34" cy="390.66" r="3.35"/><circle cx="213.53" cy="391.61" r="3.35"/><circle cx="216.07" cy="391.61" r="3.35"/><circle cx="214.8" cy="392.6" r="3.35"/><circle cx="216.07" cy="393.65" r="3.35"/><circle cx="213.53" cy="393.65" r="3.35"/><circle cx="217.34" cy="394.78" r="3.35"/><circle cx="212.26" cy="394.78" r="3.35"/><circle cx="218.61" cy="395.95" r="3.35"/><circle cx="210.99" cy="395.95" r="3.35"/><circle cx="219.88" cy="397.16" r="3.35"/><circle cx="209.72" cy="397.16" r="3.35"/><circle cx="221.15" cy="398.39" r="3.35"/><circle cx="208.45" cy="398.39" r="3.35"/><circle cx="222.42" cy="399.61" r="3.35"/><circle cx="207.18" cy="399.61" r="3.35"/><circle cx="223.69" cy="400.81" r="3.35"/><circle cx="205.91" cy="400.81" r="3.35"/><circle cx="224.96" cy="401.96" r="3.35"/><circle cx="204.64" cy="401.96" r="3.35"/><circle cx="226.23" cy="403.09" r="3.35"/><circle cx="203.37" cy="403.09" r="3.35"/><circle cx="227.5" cy="404.2" r="3.35"/><circle cx="202.1" cy="404.2" r="3.35"/><circle cx="228.77" cy="405.31" r="3.35"/><circle cx="200.83" cy="405.31" r="3.35"/><circle cx="230.04" cy="406.4" r="3.35"/><circle cx="199.56" cy="406.4" r="3.35"/><circle cx="231.31" cy="407.49" r="3.35"/><circle cx="198.29" cy="407.49" r="3.35"/><circle cx="232.58" cy="408.56" r="3.35"/><circle cx="197.02" cy="408.56" r="3.35"/><circle cx="233.85" cy="409.63" r="3.35"/><circle cx="195.75" cy="409.63" r="3.35"/></g>
<rect x="113.2" y="23.3" width="203.2" height="386.9" fill="none" stroke="#000" stroke-width="1.4"/>
<text x="98.4" y="32.4"  font-size="25.6" text-anchor="end" fill="#000" >0.00</text>
<text x="98.4" y="129.12"  font-size="25.6" text-anchor="end" fill="#000" >-0.05</text>
<text x="98.4" y="225.85"  font-size="25.6" text-anchor="end" fill="#000" >-0.10</text>
<text x="98.4" y="322.57"  font-size="25.6" text-anchor="end" fill="#000" >-0.15</text>
<text x="98.4" y="419.3"  font-size="25.6" text-anchor="end" fill="#000" >-0.20</text>
<text x="151.3" y="444.1"  font-size="25.6" text-anchor="middle" fill="#000" >-0.5</text>
<text x="217.8" y="444.1"  font-size="25.6" text-anchor="middle" fill="#000" >0</text>
<text x="281" y="444.1"  font-size="25.6" text-anchor="middle" fill="#000" >0.5</text>
<text x="203.6" y="478.9"  font-size="25.6" text-anchor="start" fill="#000" >k</text>
<text x="215.6" y="485.8"  font-size="20.5" text-anchor="start" fill="#000" >2</text>
<g transform="translate(34.8,187.0) rotate(-90)">
<text x="0" y="0"  font-size="25.6" text-anchor="start" fill="#000" >E</text>
<text x="15.7" y="6.5"  font-size="20.5" text-anchor="start" fill="#000" >n</text>
<text x="26" y="0"  font-size="25.6" text-anchor="start" fill="#000" >/t</text>
</g>
<path d="M180.63 227.21L191.43 238.01M180.63 238.01L191.43 227.21" stroke="#0000ff" stroke-width="1.5" fill="none"/>
<path d="M157.83 232.61H180.33M174.03 229.31L180.33 232.61L174.03 235.91" stroke="#000" stroke-width="1.35" fill="none"/>
<text x="157.93" y="241.51"  font-size="25.6" text-anchor="end" fill="#000" >3,4</text>
<path d="M238.17 227.21L248.97 238.01M238.17 238.01L248.97 227.21" stroke="#0000ff" stroke-width="1.5" fill="none"/>
<path d="M275.17 232.61H250.27M256.57 229.31L250.27 232.61L256.57 235.91" stroke="#000" stroke-width="1.35" fill="none"/>
<text x="275.27" y="241.51"  font-size="25.6" text-anchor="start" fill="#000" >7,8</text>
<path d="M180.63 281.38L191.43 292.18M180.63 292.18L191.43 281.38" stroke="#0000ff" stroke-width="1.5" fill="none"/>
<path d="M157.83 286.78H180.33M174.03 283.48L180.33 286.78L174.03 290.08" stroke="#000" stroke-width="1.35" fill="none"/>
<text x="157.93" y="295.68"  font-size="25.6" text-anchor="end" fill="#000" >1,2</text>
<path d="M238.17 281.38L248.97 292.18M238.17 292.18L248.97 281.38" stroke="#0000ff" stroke-width="1.5" fill="none"/>
<path d="M275.17 286.78H250.27M256.57 283.48L250.27 286.78L256.57 290.08" stroke="#000" stroke-width="1.35" fill="none"/>
<text x="275.27" y="295.68"  font-size="25.6" text-anchor="start" fill="#000" >5,6</text>
<path d="M442.2 154.47h6.5M797.1 154.47h-6.5M442.2 110.75h6.5M797.1 110.75h-6.5M442.2 67.03h6.5M797.1 67.03h-6.5" stroke="#000" stroke-width="0.7" stroke-opacity="0.75" fill="none"/>
<path d="M442.2 38.17L448.22 61.34L454.23 95.88L460.25 129.55L466.26 155.35L472.28 172.62L478.29 182.59L484.31 188.32L490.32 192.08L496.34 194.35L502.35 195.8L508.37 196.71L514.38 197.28L520.4 197.63L526.41 197.85L532.43 197.98L538.44 198.2L544.46 198.2L550.47 198.2L556.49 198.2L562.51 198.2L568.52 198.2L574.54 198.2L580.55 198.2L586.57 198.2L592.58 198.2L598.6 198.2L604.61 198.2L610.63 198.2L616.64 198.2L622.66 198.2L628.67 198.2L634.69 198.2L640.7 198.2L646.72 198.2L652.73 198.2L658.75 198.2L664.76 198.2L670.78 198.2L676.79 198.2L682.81 198.2L688.83 198.2L694.84 198.2L700.86 198.2L706.87 198.03L712.89 197.89L718.9 197.68L724.92 197.33L730.93 196.8L736.95 195.93L742.96 194.48L748.98 192.21L754.99 188.14L761.01 181.67L767.02 170.43L773.04 152.73L779.05 124.74L785.07 91.51L791.08 58.28L797.1 36.85" stroke="#ff0000" stroke-width="0.8" fill="none"/>
<g fill="#ff0000"><circle cx="442.2" cy="38.17" r="3.7"/><circle cx="448.22" cy="61.34" r="3.7"/><circle cx="454.23" cy="95.88" r="3.7"/><circle cx="460.25" cy="129.55" r="3.7"/><circle cx="466.26" cy="155.35" r="3.7"/><circle cx="472.28" cy="172.62" r="3.7"/><circle cx="478.29" cy="182.59" r="3.7"/><circle cx="484.31" cy="188.32" r="3.7"/><circle cx="490.32" cy="192.08" r="3.7"/><circle cx="496.34" cy="194.35" r="3.7"/><circle cx="502.35" cy="195.8" r="3.7"/><circle cx="508.37" cy="196.71" r="3.7"/><circle cx="514.38" cy="197.28" r="3.7"/><circle cx="520.4" cy="197.63" r="3.7"/><circle cx="526.41" cy="197.85" r="3.7"/><circle cx="532.43" cy="197.98" r="3.7"/><circle cx="538.44" cy="198.2" r="3.7"/><circle cx="544.46" cy="198.2" r="3.7"/><circle cx="550.47" cy="198.2" r="3.7"/><circle cx="556.49" cy="198.2" r="3.7"/><circle cx="562.51" cy="198.2" r="3.7"/><circle cx="568.52" cy="198.2" r="3.7"/><circle cx="574.54" cy="198.2" r="3.7"/><circle cx="580.55" cy="198.2" r="3.7"/><circle cx="586.57" cy="198.2" r="3.7"/><circle cx="592.58" cy="198.2" r="3.7"/><circle cx="598.6" cy="198.2" r="3.7"/><circle cx="604.61" cy="198.2" r="3.7"/><circle cx="610.63" cy="198.2" r="3.7"/><circle cx="616.64" cy="198.2" r="3.7"/><circle cx="622.66" cy="198.2" r="3.7"/><circle cx="628.67" cy="198.2" r="3.7"/><circle cx="634.69" cy="198.2" r="3.7"/><circle cx="640.7" cy="198.2" r="3.7"/><circle cx="646.72" cy="198.2" r="3.7"/><circle cx="652.73" cy="198.2" r="3.7"/><circle cx="658.75" cy="198.2" r="3.7"/><circle cx="664.76" cy="198.2" r="3.7"/><circle cx="670.78" cy="198.2" r="3.7"/><circle cx="676.79" cy="198.2" r="3.7"/><circle cx="682.81" cy="198.2" r="3.7"/><circle cx="688.83" cy="198.2" r="3.7"/><circle cx="694.84" cy="198.2" r="3.7"/><circle cx="700.86" cy="198.2" r="3.7"/><circle cx="706.87" cy="198.03" r="3.7"/><circle cx="712.89" cy="197.89" r="3.7"/><circle cx="718.9" cy="197.68" r="3.7"/><circle cx="724.92" cy="197.33" r="3.7"/><circle cx="730.93" cy="196.8" r="3.7"/><circle cx="736.95" cy="195.93" r="3.7"/><circle cx="742.96" cy="194.48" r="3.7"/><circle cx="748.98" cy="192.21" r="3.7"/><circle cx="754.99" cy="188.14" r="3.7"/><circle cx="761.01" cy="181.67" r="3.7"/><circle cx="767.02" cy="170.43" r="3.7"/><circle cx="773.04" cy="152.73" r="3.7"/><circle cx="779.05" cy="124.74" r="3.7"/><circle cx="785.07" cy="91.51" r="3.7"/><circle cx="791.08" cy="58.28" r="3.7"/><circle cx="797.1" cy="36.85" r="3.7"/></g>
<path d="M442.2 198.2L448.22 198.2L454.23 198.2L460.25 198.2L466.26 198.2L472.28 198.2L478.29 198.2L484.31 198.2L490.32 198.2L496.34 198.2L502.35 198.2L508.37 198.2L514.38 198.2L520.4 198.2L526.41 198.2L532.43 198.2L538.44 198.2L544.46 198.2L550.47 198.2L556.49 198.2L562.51 198.2L568.52 198.2L574.54 198.2L580.55 198.2L586.57 198.2L592.58 198.2L598.6 198.2L604.61 198.2L610.63 198.2L616.64 198.2L622.66 198.2L628.67 198.2L634.69 198.2L640.7 198.2L646.72 198.2L652.73 198.2L658.75 198.2L664.76 198.2L670.78 198.2L676.79 198.2L682.81 198.2L688.83 198.2L694.84 198.2L700.86 198.2L706.87 198.2L712.89 198.2L718.9 198.2L724.92 198.2L730.93 198.2L736.95 198.2L742.96 198.2L748.98 198.2L754.99 198.2L761.01 198.2L767.02 198.2L773.04 198.2L779.05 198.2L785.07 198.2L791.08 198.2L797.1 198.2" stroke="#0000ff" stroke-width="0.8" fill="none"/>
<g fill="#0000ff"><circle cx="442.2" cy="198.2" r="3.7"/><circle cx="448.22" cy="198.2" r="3.7"/><circle cx="454.23" cy="198.2" r="3.7"/><circle cx="460.25" cy="198.2" r="3.7"/><circle cx="466.26" cy="198.2" r="3.7"/><circle cx="472.28" cy="198.2" r="3.7"/><circle cx="478.29" cy="198.2" r="3.7"/><circle cx="484.31" cy="198.2" r="3.7"/><circle cx="490.32" cy="198.2" r="3.7"/><circle cx="496.34" cy="198.2" r="3.7"/><circle cx="502.35" cy="198.2" r="3.7"/><circle cx="508.37" cy="198.2" r="3.7"/><circle cx="514.38" cy="198.2" r="3.7"/><circle cx="520.4" cy="198.2" r="3.7"/><circle cx="526.41" cy="198.2" r="3.7"/><circle cx="532.43" cy="198.2" r="3.7"/><circle cx="538.44" cy="198.2" r="3.7"/><circle cx="544.46" cy="198.2" r="3.7"/><circle cx="550.47" cy="198.2" r="3.7"/><circle cx="556.49" cy="198.2" r="3.7"/><circle cx="562.51" cy="198.2" r="3.7"/><circle cx="568.52" cy="198.2" r="3.7"/><circle cx="574.54" cy="198.2" r="3.7"/><circle cx="580.55" cy="198.2" r="3.7"/><circle cx="586.57" cy="198.2" r="3.7"/><circle cx="592.58" cy="198.2" r="3.7"/><circle cx="598.6" cy="198.2" r="3.7"/><circle cx="604.61" cy="198.2" r="3.7"/><circle cx="610.63" cy="198.2" r="3.7"/><circle cx="616.64" cy="198.2" r="3.7"/><circle cx="622.66" cy="198.2" r="3.7"/><circle cx="628.67" cy="198.2" r="3.7"/><circle cx="634.69" cy="198.2" r="3.7"/><circle cx="640.7" cy="198.2" r="3.7"/><circle cx="646.72" cy="198.2" r="3.7"/><circle cx="652.73" cy="198.2" r="3.7"/><circle cx="658.75" cy="198.2" r="3.7"/><circle cx="664.76" cy="198.2" r="3.7"/><circle cx="670.78" cy="198.2" r="3.7"/><circle cx="676.79" cy="198.2" r="3.7"/><circle cx="682.81" cy="198.2" r="3.7"/><circle cx="688.83" cy="198.2" r="3.7"/><circle cx="694.84" cy="198.2" r="3.7"/><circle cx="700.86" cy="198.2" r="3.7"/><circle cx="706.87" cy="198.2" r="3.7"/><circle cx="712.89" cy="198.2" r="3.7"/><circle cx="718.9" cy="198.2" r="3.7"/><circle cx="724.92" cy="198.2" r="3.7"/><circle cx="730.93" cy="198.2" r="3.7"/><circle cx="736.95" cy="198.2" r="3.7"/><circle cx="742.96" cy="198.2" r="3.7"/><circle cx="748.98" cy="198.2" r="3.7"/><circle cx="754.99" cy="198.2" r="3.7"/><circle cx="761.01" cy="198.2" r="3.7"/><circle cx="767.02" cy="198.2" r="3.7"/><circle cx="773.04" cy="198.2" r="3.7"/><circle cx="779.05" cy="198.2" r="3.7"/><circle cx="785.07" cy="198.2" r="3.7"/><circle cx="791.08" cy="198.2" r="3.7"/><circle cx="797.1" cy="198.2" r="3.7"/></g>
<path d="M442.2 198.2L448.22 198.2L454.23 198.2L460.25 198.2L466.26 198.2L472.28 198.2L478.29 198.2L484.31 198.2L490.32 198.2L496.34 198.2L502.35 198.2L508.37 198.2L514.38 198.2L520.4 198.2L526.41 198.2L532.43 198.2L538.44 198.2L544.46 198.2L550.47 198.2L556.49 198.2L562.51 198.2L568.52 198.2L574.54 198.2L580.55 198.2L586.57 198.2L592.58 198.2L598.6 198.2L604.61 198.2L610.63 198.2L616.64 198.2L622.66 198.2L628.67 198.2L634.69 198.2L640.7 198.2L646.72 198.2L652.73 198.2L658.75 198.2L664.76 198.2L670.78 198.2L676.79 198.2L682.81 198.2L688.83 198.2L694.84 198.2L700.86 198.2L706.87 198.2L712.89 198.2L718.9 198.2L724.92 198.2L730.93 198.2L736.95 198.2L742.96 198.2L748.98 198.2L754.99 198.2L761.01 198.2L767.02 198.2L773.04 198.2L779.05 198.2L785.07 198.2L791.08 198.2L797.1 198.2" stroke="#00ff00" stroke-width="0.8" fill="none"/>
<g fill="#00ff00"><circle cx="442.2" cy="198.2" r="3.7"/><circle cx="448.22" cy="198.2" r="3.7"/><circle cx="454.23" cy="198.2" r="3.7"/><circle cx="460.25" cy="198.2" r="3.7"/><circle cx="466.26" cy="198.2" r="3.7"/><circle cx="472.28" cy="198.2" r="3.7"/><circle cx="478.29" cy="198.2" r="3.7"/><circle cx="484.31" cy="198.2" r="3.7"/><circle cx="490.32" cy="198.2" r="3.7"/><circle cx="496.34" cy="198.2" r="3.7"/><circle cx="502.35" cy="198.2" r="3.7"/><circle cx="508.37" cy="198.2" r="3.7"/><circle cx="514.38" cy="198.2" r="3.7"/><circle cx="520.4" cy="198.2" r="3.7"/><circle cx="526.41" cy="198.2" r="3.7"/><circle cx="532.43" cy="198.2" r="3.7"/><circle cx="538.44" cy="198.2" r="3.7"/><circle cx="544.46" cy="198.2" r="3.7"/><circle cx="550.47" cy="198.2" r="3.7"/><circle cx="556.49" cy="198.2" r="3.7"/><circle cx="562.51" cy="198.2" r="3.7"/><circle cx="568.52" cy="198.2" r="3.7"/><circle cx="574.54" cy="198.2" r="3.7"/><circle cx="580.55" cy="198.2" r="3.7"/><circle cx="586.57" cy="198.2" r="3.7"/><circle cx="592.58" cy="198.2" r="3.7"/><circle cx="598.6" cy="198.2" r="3.7"/><circle cx="604.61" cy="198.2" r="3.7"/><circle cx="610.63" cy="198.2" r="3.7"/><circle cx="616.64" cy="198.2" r="3.7"/><circle cx="622.66" cy="198.2" r="3.7"/><circle cx="628.67" cy="198.2" r="3.7"/><circle cx="634.69" cy="198.2" r="3.7"/><circle cx="640.7" cy="198.2" r="3.7"/><circle cx="646.72" cy="198.2" r="3.7"/><circle cx="652.73" cy="198.2" r="3.7"/><circle cx="658.75" cy="198.2" r="3.7"/><circle cx="664.76" cy="198.2" r="3.7"/><circle cx="670.78" cy="198.2" r="3.7"/><circle cx="676.79" cy="198.2" r="3.7"/><circle cx="682.81" cy="198.2" r="3.7"/><circle cx="688.83" cy="198.2" r="3.7"/><circle cx="694.84" cy="198.2" r="3.7"/><circle cx="700.86" cy="198.2" r="3.7"/><circle cx="706.87" cy="198.2" r="3.7"/><circle cx="712.89" cy="198.2" r="3.7"/><circle cx="718.9" cy="198.2" r="3.7"/><circle cx="724.92" cy="198.2" r="3.7"/><circle cx="730.93" cy="198.2" r="3.7"/><circle cx="736.95" cy="198.2" r="3.7"/><circle cx="742.96" cy="198.2" r="3.7"/><circle cx="748.98" cy="198.2" r="3.7"/><circle cx="754.99" cy="198.2" r="3.7"/><circle cx="761.01" cy="198.2" r="3.7"/><circle cx="767.02" cy="198.2" r="3.7"/><circle cx="773.04" cy="198.2" r="3.7"/><circle cx="779.05" cy="198.2" r="3.7"/><circle cx="785.07" cy="198.2" r="3.7"/><circle cx="791.08" cy="198.2" r="3.7"/><circle cx="797.1" cy="198.2" r="3.7"/></g>
<path d="M442.2 151.85L448.22 149.67L454.23 148.35L460.25 147.92L466.26 149.23L472.28 150.98L478.29 153.6L484.31 156.4L490.32 159.15L496.34 161.69L502.35 164.09L508.37 166.28L514.38 168.47L520.4 170.43L526.41 172.18L532.43 173.71L538.44 175.03L544.46 176.34L550.47 177.43L556.49 178.52L562.51 179.62L568.52 180.71L574.54 181.93L580.55 183.11L586.57 184.3L592.58 185.43L598.6 186.48L604.61 187.49L610.63 188.45L616.64 189.45L622.66 190.33L628.67 191.2L634.69 192.08L640.7 192.95L646.72 193.74L652.73 194.48L658.75 195.14L664.76 195.75L670.78 196.23L676.79 196.67L682.81 197.02L688.83 197.33L694.84 197.54L700.86 197.68L706.87 197.76L712.89 197.68L718.9 197.33L724.92 196.67L730.93 195.8L736.95 194.48L742.96 192.73L748.98 190.55L754.99 187.92L761.01 184.65L767.02 180.71L773.04 175.9L779.05 170.87L785.07 165.84L791.08 161.03L797.1 155.96" stroke="#ff00ff" stroke-width="0.8" fill="none"/>
<g fill="#ff00ff"><circle cx="442.2" cy="151.85" r="3.7"/><circle cx="448.22" cy="149.67" r="3.7"/><circle cx="454.23" cy="148.35" r="3.7"/><circle cx="460.25" cy="147.92" r="3.7"/><circle cx="466.26" cy="149.23" r="3.7"/><circle cx="472.28" cy="150.98" r="3.7"/><circle cx="478.29" cy="153.6" r="3.7"/><circle cx="484.31" cy="156.4" r="3.7"/><circle cx="490.32" cy="159.15" r="3.7"/><circle cx="496.34" cy="161.69" r="3.7"/><circle cx="502.35" cy="164.09" r="3.7"/><circle cx="508.37" cy="166.28" r="3.7"/><circle cx="514.38" cy="168.47" r="3.7"/><circle cx="520.4" cy="170.43" r="3.7"/><circle cx="526.41" cy="172.18" r="3.7"/><circle cx="532.43" cy="173.71" r="3.7"/><circle cx="538.44" cy="175.03" r="3.7"/><circle cx="544.46" cy="176.34" r="3.7"/><circle cx="550.47" cy="177.43" r="3.7"/><circle cx="556.49" cy="178.52" r="3.7"/><circle cx="562.51" cy="179.62" r="3.7"/><circle cx="568.52" cy="180.71" r="3.7"/><circle cx="574.54" cy="181.93" r="3.7"/><circle cx="580.55" cy="183.11" r="3.7"/><circle cx="586.57" cy="184.3" r="3.7"/><circle cx="592.58" cy="185.43" r="3.7"/><circle cx="598.6" cy="186.48" r="3.7"/><circle cx="604.61" cy="187.49" r="3.7"/><circle cx="610.63" cy="188.45" r="3.7"/><circle cx="616.64" cy="189.45" r="3.7"/><circle cx="622.66" cy="190.33" r="3.7"/><circle cx="628.67" cy="191.2" r="3.7"/><circle cx="634.69" cy="192.08" r="3.7"/><circle cx="640.7" cy="192.95" r="3.7"/><circle cx="646.72" cy="193.74" r="3.7"/><circle cx="652.73" cy="194.48" r="3.7"/><circle cx="658.75" cy="195.14" r="3.7"/><circle cx="664.76" cy="195.75" r="3.7"/><circle cx="670.78" cy="196.23" r="3.7"/><circle cx="676.79" cy="196.67" r="3.7"/><circle cx="682.81" cy="197.02" r="3.7"/><circle cx="688.83" cy="197.33" r="3.7"/><circle cx="694.84" cy="197.54" r="3.7"/><circle cx="700.86" cy="197.68" r="3.7"/><circle cx="706.87" cy="197.76" r="3.7"/><circle cx="712.89" cy="197.68" r="3.7"/><circle cx="718.9" cy="197.33" r="3.7"/><circle cx="724.92" cy="196.67" r="3.7"/><circle cx="730.93" cy="195.8" r="3.7"/><circle cx="736.95" cy="194.48" r="3.7"/><circle cx="742.96" cy="192.73" r="3.7"/><circle cx="748.98" cy="190.55" r="3.7"/><circle cx="754.99" cy="187.92" r="3.7"/><circle cx="761.01" cy="184.65" r="3.7"/><circle cx="767.02" cy="180.71" r="3.7"/><circle cx="773.04" cy="175.9" r="3.7"/><circle cx="779.05" cy="170.87" r="3.7"/><circle cx="785.07" cy="165.84" r="3.7"/><circle cx="791.08" cy="161.03" r="3.7"/><circle cx="797.1" cy="155.96" r="3.7"/></g>
<path d="M442.2 198.2L448.22 198.2L454.23 198.2L460.25 198.2L466.26 198.2L472.28 198.2L478.29 198.2L484.31 198.2L490.32 198.2L496.34 198.2L502.35 198.2L508.37 198.2L514.38 198.2L520.4 198.2L526.41 198.03L532.43 197.89L538.44 197.68L544.46 197.33L550.47 196.8L556.49 195.93L562.51 194.48L568.52 192.21L574.54 188.14L580.55 181.67L586.57 170.43L592.58 152.73L598.6 124.74L604.61 91.51L610.63 58.28L616.64 36.85L622.66 38.17L628.67 61.34L634.69 95.88L640.7 129.55L646.72 155.35L652.73 172.62L658.75 182.59L664.76 188.32L670.78 192.08L676.79 194.35L682.81 195.8L688.83 196.71L694.84 197.28L700.86 197.63L706.87 197.85L712.89 197.98L718.9 198.2L724.92 198.2L730.93 198.2L736.95 198.2L742.96 198.2L748.98 198.2L754.99 198.2L761.01 198.2L767.02 198.2L773.04 198.2L779.05 198.2L785.07 198.2L791.08 198.2L797.1 198.2" stroke="#000000" stroke-width="0.8" fill="none"/>
<g fill="#000000"><circle cx="442.2" cy="198.2" r="3.7"/><circle cx="448.22" cy="198.2" r="3.7"/><circle cx="454.23" cy="198.2" r="3.7"/><circle cx="460.25" cy="198.2" r="3.7"/><circle cx="466.26" cy="198.2" r="3.7"/><circle cx="472.28" cy="198.2" r="3.7"/><circle cx="478.29" cy="198.2" r="3.7"/><circle cx="484.31" cy="198.2" r="3.7"/><circle cx="490.32" cy="198.2" r="3.7"/><circle cx="496.34" cy="198.2" r="3.7"/><circle cx="502.35" cy="198.2" r="3.7"/><circle cx="508.37" cy="198.2" r="3.7"/><circle cx="514.38" cy="198.2" r="3.7"/><circle cx="520.4" cy="198.2" r="3.7"/><circle cx="526.41" cy="198.03" r="3.7"/><circle cx="532.43" cy="197.89" r="3.7"/><circle cx="538.44" cy="197.68" r="3.7"/><circle cx="544.46" cy="197.33" r="3.7"/><circle cx="550.47" cy="196.8" r="3.7"/><circle cx="556.49" cy="195.93" r="3.7"/><circle cx="562.51" cy="194.48" r="3.7"/><circle cx="568.52" cy="192.21" r="3.7"/><circle cx="574.54" cy="188.14" r="3.7"/><circle cx="580.55" cy="181.67" r="3.7"/><circle cx="586.57" cy="170.43" r="3.7"/><circle cx="592.58" cy="152.73" r="3.7"/><circle cx="598.6" cy="124.74" r="3.7"/><circle cx="604.61" cy="91.51" r="3.7"/><circle cx="610.63" cy="58.28" r="3.7"/><circle cx="616.64" cy="36.85" r="3.7"/><circle cx="622.66" cy="38.17" r="3.7"/><circle cx="628.67" cy="61.34" r="3.7"/><circle cx="634.69" cy="95.88" r="3.7"/><circle cx="640.7" cy="129.55" r="3.7"/><circle cx="646.72" cy="155.35" r="3.7"/><circle cx="652.73" cy="172.62" r="3.7"/><circle cx="658.75" cy="182.59" r="3.7"/><circle cx="664.76" cy="188.32" r="3.7"/><circle cx="670.78" cy="192.08" r="3.7"/><circle cx="676.79" cy="194.35" r="3.7"/><circle cx="682.81" cy="195.8" r="3.7"/><circle cx="688.83" cy="196.71" r="3.7"/><circle cx="694.84" cy="197.28" r="3.7"/><circle cx="700.86" cy="197.63" r="3.7"/><circle cx="706.87" cy="197.85" r="3.7"/><circle cx="712.89" cy="197.98" r="3.7"/><circle cx="718.9" cy="198.2" r="3.7"/><circle cx="724.92" cy="198.2" r="3.7"/><circle cx="730.93" cy="198.2" r="3.7"/><circle cx="736.95" cy="198.2" r="3.7"/><circle cx="742.96" cy="198.2" r="3.7"/><circle cx="748.98" cy="198.2" r="3.7"/><circle cx="754.99" cy="198.2" r="3.7"/><circle cx="761.01" cy="198.2" r="3.7"/><circle cx="767.02" cy="198.2" r="3.7"/><circle cx="773.04" cy="198.2" r="3.7"/><circle cx="779.05" cy="198.2" r="3.7"/><circle cx="785.07" cy="198.2" r="3.7"/><circle cx="791.08" cy="198.2" r="3.7"/><circle cx="797.1" cy="198.2" r="3.7"/></g>
<path d="M442.2 198.2L448.22 198.2L454.23 198.2L460.25 198.2L466.26 198.2L472.28 198.2L478.29 198.2L484.31 198.2L490.32 198.2L496.34 198.2L502.35 198.2L508.37 198.2L514.38 198.2L520.4 198.2L526.41 198.2L532.43 198.2L538.44 198.2L544.46 198.2L550.47 198.2L556.49 198.2L562.51 198.2L568.52 198.2L574.54 198.2L580.55 198.2L586.57 198.2L592.58 198.2L598.6 198.2L604.61 198.2L610.63 198.2L616.64 198.2L622.66 198.2L628.67 198.2L634.69 198.2L640.7 198.2L646.72 198.2L652.73 198.2L658.75 198.2L664.76 198.2L670.78 198.2L676.79 198.2L682.81 198.2L688.83 198.2L694.84 198.2L700.86 198.2L706.87 198.2L712.89 198.2L718.9 198.2L724.92 198.2L730.93 198.2L736.95 198.2L742.96 198.2L748.98 198.2L754.99 198.2L761.01 198.2L767.02 198.2L773.04 198.2L779.05 198.2L785.07 198.2L791.08 198.2L797.1 198.2" stroke="#ffa500" stroke-width="0.8" fill="none"/>
<g fill="#ffa500"><circle cx="442.2" cy="198.2" r="3.7"/><circle cx="448.22" cy="198.2" r="3.7"/><circle cx="454.23" cy="198.2" r="3.7"/><circle cx="460.25" cy="198.2" r="3.7"/><circle cx="466.26" cy="198.2" r="3.7"/><circle cx="472.28" cy="198.2" r="3.7"/><circle cx="478.29" cy="198.2" r="3.7"/><circle cx="484.31" cy="198.2" r="3.7"/><circle cx="490.32" cy="198.2" r="3.7"/><circle cx="496.34" cy="198.2" r="3.7"/><circle cx="502.35" cy="198.2" r="3.7"/><circle cx="508.37" cy="198.2" r="3.7"/><circle cx="514.38" cy="198.2" r="3.7"/><circle cx="520.4" cy="198.2" r="3.7"/><circle cx="526.41" cy="198.2" r="3.7"/><circle cx="532.43" cy="198.2" r="3.7"/><circle cx="538.44" cy="198.2" r="3.7"/><circle cx="544.46" cy="198.2" r="3.7"/><circle cx="550.47" cy="198.2" r="3.7"/><circle cx="556.49" cy="198.2" r="3.7"/><circle cx="562.51" cy="198.2" r="3.7"/><circle cx="568.52" cy="198.2" r="3.7"/><circle cx="574.54" cy="198.2" r="3.7"/><circle cx="580.55" cy="198.2" r="3.7"/><circle cx="586.57" cy="198.2" r="3.7"/><circle cx="592.58" cy="198.2" r="3.7"/><circle cx="598.6" cy="198.2" r="3.7"/><circle cx="604.61" cy="198.2" r="3.7"/><circle cx="610.63" cy="198.2" r="3.7"/><circle cx="616.64" cy="198.2" r="3.7"/><circle cx="622.66" cy="198.2" r="3.7"/><circle cx="628.67" cy="198.2" r="3.7"/><circle cx="634.69" cy="198.2" r="3.7"/><circle cx="640.7" cy="198.2" r="3.7"/><circle cx="646.72" cy="198.2" r="3.7"/><circle cx="652.73" cy="198.2" r="3.7"/><circle cx="658.75" cy="198.2" r="3.7"/><circle cx="664.76" cy="198.2" r="3.7"/><circle cx="670.78" cy="198.2" r="3.7"/><circle cx="676.79" cy="198.2" r="3.7"/><circle cx="682.81" cy="198.2" r="3.7"/><circle cx="688.83" cy="198.2" r="3.7"/><circle cx="694.84" cy="198.2" r="3.7"/><circle cx="700.86" cy="198.2" r="3.7"/><circle cx="706.87" cy="198.2" r="3.7"/><circle cx="712.89" cy="198.2" r="3.7"/><circle cx="718.9" cy="198.2" r="3.7"/><circle cx="724.92" cy="198.2" r="3.7"/><circle cx="730.93" cy="198.2" r="3.7"/><circle cx="736.95" cy="198.2" r="3.7"/><circle cx="742.96" cy="198.2" r="3.7"/><circle cx="748.98" cy="198.2" r="3.7"/><circle cx="754.99" cy="198.2" r="3.7"/><circle cx="761.01" cy="198.2" r="3.7"/><circle cx="767.02" cy="198.2" r="3.7"/><circle cx="773.04" cy="198.2" r="3.7"/><circle cx="779.05" cy="198.2" r="3.7"/><circle cx="785.07" cy="198.2" r="3.7"/><circle cx="791.08" cy="198.2" r="3.7"/><circle cx="797.1" cy="198.2" r="3.7"/></g>
<path d="M442.2 198.2L448.22 198.2L454.23 198.2L460.25 198.2L466.26 198.2L472.28 198.2L478.29 198.2L484.31 198.2L490.32 198.2L496.34 198.2L502.35 198.2L508.37 198.2L514.38 198.2L520.4 198.2L526.41 198.2L532.43 198.2L538.44 198.2L544.46 198.2L550.47 198.2L556.49 198.2L562.51 198.2L568.52 198.2L574.54 198.2L580.55 198.2L586.57 198.2L592.58 198.2L598.6 198.2L604.61 198.2L610.63 198.2L616.64 198.2L622.66 198.2L628.67 198.2L634.69 198.2L640.7 198.2L646.72 198.2L652.73 198.2L658.75 198.2L664.76 198.2L670.78 198.2L676.79 198.2L682.81 198.2L688.83 198.2L694.84 198.2L700.86 198.2L706.87 198.2L712.89 198.2L718.9 198.2L724.92 198.2L730.93 198.2L736.95 198.2L742.96 198.2L748.98 198.2L754.99 198.2L761.01 198.2L767.02 198.2L773.04 198.2L779.05 198.2L785.07 198.2L791.08 198.2L797.1 198.2" stroke="#00ffff" stroke-width="0.8" fill="none"/>
<g fill="#00ffff"><circle cx="442.2" cy="198.2" r="3.7"/><circle cx="448.22" cy="198.2" r="3.7"/><circle cx="454.23" cy="198.2" r="3.7"/><circle cx="460.25" cy="198.2" r="3.7"/><circle cx="466.26" cy="198.2" r="3.7"/><circle cx="472.28" cy="198.2" r="3.7"/><circle cx="478.29" cy="198.2" r="3.7"/><circle cx="484.31" cy="198.2" r="3.7"/><circle cx="490.32" cy="198.2" r="3.7"/><circle cx="496.34" cy="198.2" r="3.7"/><circle cx="502.35" cy="198.2" r="3.7"/><circle cx="508.37" cy="198.2" r="3.7"/><circle cx="514.38" cy="198.2" r="3.7"/><circle cx="520.4" cy="198.2" r="3.7"/><circle cx="526.41" cy="198.2" r="3.7"/><circle cx="532.43" cy="198.2" r="3.7"/><circle cx="538.44" cy="198.2" r="3.7"/><circle cx="544.46" cy="198.2" r="3.7"/><circle cx="550.47" cy="198.2" r="3.7"/><circle cx="556.49" cy="198.2" r="3.7"/><circle cx="562.51" cy="198.2" r="3.7"/><circle cx="568.52" cy="198.2" r="3.7"/><circle cx="574.54" cy="198.2" r="3.7"/><circle cx="580.55" cy="198.2" r="3.7"/><circle cx="586.57" cy="198.2" r="3.7"/><circle cx="592.58" cy="198.2" r="3.7"/><circle cx="598.6" cy="198.2" r="3.7"/><circle cx="604.61" cy="198.2" r="3.7"/><circle cx="610.63" cy="198.2" r="3.7"/><circle cx="616.64" cy="198.2" r="3.7"/><circle cx="622.66" cy="198.2" r="3.7"/><circle cx="628.67" cy="198.2" r="3.7"/><circle cx="634.69" cy="198.2" r="3.7"/><circle cx="640.7" cy="198.2" r="3.7"/><circle cx="646.72" cy="198.2" r="3.7"/><circle cx="652.73" cy="198.2" r="3.7"/><circle cx="658.75" cy="198.2" r="3.7"/><circle cx="664.76" cy="198.2" r="3.7"/><circle cx="670.78" cy="198.2" r="3.7"/><circle cx="676.79" cy="198.2" r="3.7"/><circle cx="682.81" cy="198.2" r="3.7"/><circle cx="688.83" cy="198.2" r="3.7"/><circle cx="694.84" cy="198.2" r="3.7"/><circle cx="700.86" cy="198.2" r="3.7"/><circle cx="706.87" cy="198.2" r="3.7"/><circle cx="712.89" cy="198.2" r="3.7"/><circle cx="718.9" cy="198.2" r="3.7"/><circle cx="724.92" cy="198.2" r="3.7"/><circle cx="730.93" cy="198.2" r="3.7"/><circle cx="736.95" cy="198.2" r="3.7"/><circle cx="742.96" cy="198.2" r="3.7"/><circle cx="748.98" cy="198.2" r="3.7"/><circle cx="754.99" cy="198.2" r="3.7"/><circle cx="761.01" cy="198.2" r="3.7"/><circle cx="767.02" cy="198.2" r="3.7"/><circle cx="773.04" cy="198.2" r="3.7"/><circle cx="779.05" cy="198.2" r="3.7"/><circle cx="785.07" cy="198.2" r="3.7"/><circle cx="791.08" cy="198.2" r="3.7"/><circle cx="797.1" cy="198.2" r="3.7"/></g>
<path d="M442.2 190.33L448.22 191.2L454.23 192.08L460.25 192.95L466.26 193.74L472.28 194.48L478.29 195.14L484.31 195.75L490.32 196.23L496.34 196.67L502.35 197.02L508.37 197.33L514.38 197.54L520.4 197.68L526.41 197.76L532.43 197.68L538.44 197.33L544.46 196.67L550.47 195.8L556.49 194.48L562.51 192.73L568.52 190.55L574.54 187.92L580.55 184.65L586.57 180.71L592.58 175.9L598.6 170.87L604.61 165.84L610.63 161.03L616.64 155.96L622.66 151.85L628.67 149.67L634.69 148.35L640.7 147.92L646.72 149.23L652.73 150.98L658.75 153.6L664.76 156.4L670.78 159.15L676.79 161.69L682.81 164.09L688.83 166.28L694.84 168.47L700.86 170.43L706.87 172.18L712.89 173.71L718.9 175.03L724.92 176.34L730.93 177.43L736.95 178.52L742.96 179.62L748.98 180.71L754.99 181.93L761.01 183.11L767.02 184.3L773.04 185.43L779.05 186.48L785.07 187.49L791.08 188.45L797.1 189.45" stroke="#ff0000" stroke-width="0.8" fill="none"/>
<path d="M438.3 186.43L446.1 194.23M438.3 194.23L446.1 186.43M444.32 187.3L452.12 195.1M444.32 195.1L452.12 187.3M450.33 188.18L458.13 195.98M450.33 195.98L458.13 188.18M456.35 189.05L464.15 196.85M456.35 196.85L464.15 189.05M462.36 189.84L470.16 197.64M462.36 197.64L470.16 189.84M468.38 190.58L476.18 198.38M468.38 198.38L476.18 190.58M474.39 191.24L482.19 199.04M474.39 199.04L482.19 191.24M480.41 191.85L488.21 199.65M480.41 199.65L488.21 191.85M486.42 192.33L494.22 200.13M486.42 200.13L494.22 192.33M492.44 192.77L500.24 200.57M492.44 200.57L500.24 192.77M498.45 193.12L506.25 200.92M498.45 200.92L506.25 193.12M504.47 193.43L512.27 201.23M504.47 201.23L512.27 193.43M510.48 193.64L518.28 201.44M510.48 201.44L518.28 193.64M516.5 193.78L524.3 201.58M516.5 201.58L524.3 193.78M522.51 193.86L530.31 201.66M522.51 201.66L530.31 193.86M528.53 193.78L536.33 201.58M528.53 201.58L536.33 193.78M534.54 193.43L542.34 201.23M534.54 201.23L542.34 193.43M540.56 192.77L548.36 200.57M540.56 200.57L548.36 192.77M546.57 191.9L554.37 199.7M546.57 199.7L554.37 191.9M552.59 190.58L560.39 198.38M552.59 198.38L560.39 190.58M558.61 188.83L566.41 196.63M558.61 196.63L566.41 188.83M564.62 186.65L572.42 194.45M564.62 194.45L572.42 186.65M570.64 184.02L578.44 191.82M570.64 191.82L578.44 184.02M576.65 180.75L584.45 188.55M576.65 188.55L584.45 180.75M582.67 176.81L590.47 184.61M582.67 184.61L590.47 176.81M588.68 172L596.48 179.8M588.68 179.8L596.48 172M594.7 166.97L602.5 174.77M594.7 174.77L602.5 166.97M600.71 161.94L608.51 169.74M600.71 169.74L608.51 161.94M606.73 157.13L614.53 164.93M606.73 164.93L614.53 157.13M612.74 152.06L620.54 159.86M612.74 159.86L620.54 152.06M618.76 147.95L626.56 155.75M618.76 155.75L626.56 147.95M624.77 145.77L632.57 153.57M624.77 153.57L632.57 145.77M630.79 144.45L638.59 152.25M630.79 152.25L638.59 144.45M636.8 144.02L644.6 151.82M636.8 151.82L644.6 144.02M642.82 145.33L650.62 153.13M642.82 153.13L650.62 145.33M648.83 147.08L656.63 154.88M648.83 154.88L656.63 147.08M654.85 149.7L662.65 157.5M654.85 157.5L662.65 149.7M660.86 152.5L668.66 160.3M660.86 160.3L668.66 152.5M666.88 155.25L674.68 163.05M666.88 163.05L674.68 155.25M672.89 157.79L680.69 165.59M672.89 165.59L680.69 157.79M678.91 160.19L686.71 167.99M678.91 167.99L686.71 160.19M684.93 162.38L692.73 170.18M684.93 170.18L692.73 162.38M690.94 164.57L698.74 172.37M690.94 172.37L698.74 164.57M696.96 166.53L704.76 174.33M696.96 174.33L704.76 166.53M702.97 168.28L710.77 176.08M702.97 176.08L710.77 168.28M708.99 169.81L716.79 177.61M708.99 177.61L716.79 169.81M715 171.13L722.8 178.93M715 178.93L722.8 171.13M721.02 172.44L728.82 180.24M721.02 180.24L728.82 172.44M727.03 173.53L734.83 181.33M727.03 181.33L734.83 173.53M733.05 174.62L740.85 182.42M733.05 182.42L740.85 174.62M739.06 175.72L746.86 183.52M739.06 183.52L746.86 175.72M745.08 176.81L752.88 184.61M745.08 184.61L752.88 176.81M751.09 178.03L758.89 185.83M751.09 185.83L758.89 178.03M757.11 179.21L764.91 187.01M757.11 187.01L764.91 179.21M763.12 180.4L770.92 188.2M763.12 188.2L770.92 180.4M769.14 181.53L776.94 189.33M769.14 189.33L776.94 181.53M775.15 182.58L782.95 190.38M775.15 190.38L782.95 182.58M781.17 183.59L788.97 191.39M781.17 191.39L788.97 183.59M787.18 184.55L794.98 192.35M787.18 192.35L794.98 184.55M793.2 185.55L801 193.35M793.2 193.35L801 185.55" stroke="#ff0000" stroke-width="1.0" fill="none"/>
<rect x="442.2" y="23.3" width="354.9" height="174.9" fill="none" stroke="#000" stroke-width="1.4"/>
<text x="427.4" y="207.3"  font-size="25.6" text-anchor="end" fill="#000" >0</text>
<text x="427.4" y="163.57"  font-size="25.6" text-anchor="end" fill="#000" >1</text>
<text x="427.4" y="119.85"  font-size="25.6" text-anchor="end" fill="#000" >2</text>
<text x="427.4" y="76.12"  font-size="25.6" text-anchor="end" fill="#000" >3</text>
<text x="427.4" y="32.4"  font-size="25.6" text-anchor="end" fill="#000" >4</text>
<text x="453.3" y="49.7"  font-size="25.6" text-anchor="start" fill="#000" >(b)</text>
<g transform="translate(393,133.9) rotate(-90)">
<text x="0" y="0"  font-size="25.6" text-anchor="start" fill="#000" >n(i</text>
<text x="28.4" y="6.5"  font-size="20.5" text-anchor="start" fill="#000" >1</text>
<text x="38.2" y="0"  font-size="25.6" text-anchor="start" fill="#000" >)</text>
</g>
<path d="M442.2 231.3H797.1" stroke="#000" stroke-width="1"/>
<path d="M442.2 231.3V218.5M448.22 231.3V218.5M454.23 231.3V218.5M460.25 231.3V218.5M466.26 231.3V218.5M472.28 231.3V218.5M478.29 231.3V218.5M484.31 231.3V218.5M490.32 231.3V218.5M496.34 231.3V218.5M502.35 231.3V218.5M508.37 231.3V218.5M514.38 231.3V218.5M520.4 231.3V218.5M526.41 231.3V218.5M532.43 231.3V218.5M538.44 231.3V218.5M544.46 231.3V218.5M550.47 231.3V218.5M556.49 231.3V218.5M562.51 231.3V218.5M568.52 231.3V218.5M574.54 231.3V218.5M580.55 231.3V218.5M586.57 231.3V218.5M592.58 231.3V218.5M598.6 231.3V218.5M604.61 231.3V218.5M610.63 231.3V218.5M616.64 231.3V218.5M622.66 231.3V244.5M628.67 231.3V244.5M634.69 231.3V244.5M640.7 231.3V244.5M646.72 231.3V244.5M652.73 231.3V244.5M658.75 231.3V244.5M664.76 231.3V244.5M670.78 231.3V244.5M676.79 231.3V244.5M682.81 231.3V244.5M688.83 231.3V244.5M694.84 231.3V244.5M700.86 231.3V244.5M706.87 231.3V244.5M712.89 231.3V244.5M718.9 231.3V244.5M724.92 231.3V244.5M730.93 231.3V244.5M736.95 231.3V244.5M742.96 231.3V244.5M748.98 231.3V244.5M754.99 231.3V244.5M761.01 231.3V244.5M767.02 231.3V244.5M773.04 231.3V244.5M779.05 231.3V244.5M785.07 231.3V244.5M791.08 231.3V244.5M797.1 231.3V244.5" stroke="#ff0000" stroke-width="0.65" fill="none"/>
<path d="M442.2 215.5L445.6 222.5L442.2 219.7L438.8 222.5ZM448.22 215.5L451.62 222.5L448.22 219.7L444.82 222.5ZM454.23 215.5L457.63 222.5L454.23 219.7L450.83 222.5ZM460.25 215.5L463.65 222.5L460.25 219.7L456.85 222.5ZM466.26 215.5L469.66 222.5L466.26 219.7L462.86 222.5ZM472.28 215.5L475.68 222.5L472.28 219.7L468.88 222.5ZM478.29 215.5L481.69 222.5L478.29 219.7L474.89 222.5ZM484.31 215.5L487.71 222.5L484.31 219.7L480.91 222.5ZM490.32 215.5L493.72 222.5L490.32 219.7L486.92 222.5ZM496.34 215.5L499.74 222.5L496.34 219.7L492.94 222.5ZM502.35 215.5L505.75 222.5L502.35 219.7L498.95 222.5ZM508.37 215.5L511.77 222.5L508.37 219.7L504.97 222.5ZM514.38 215.5L517.78 222.5L514.38 219.7L510.98 222.5ZM520.4 215.5L523.8 222.5L520.4 219.7L517 222.5ZM526.41 215.5L529.81 222.5L526.41 219.7L523.01 222.5ZM532.43 215.5L535.83 222.5L532.43 219.7L529.03 222.5ZM538.44 215.5L541.84 222.5L538.44 219.7L535.04 222.5ZM544.46 215.5L547.86 222.5L544.46 219.7L541.06 222.5ZM550.47 215.5L553.87 222.5L550.47 219.7L547.07 222.5ZM556.49 215.5L559.89 222.5L556.49 219.7L553.09 222.5ZM562.51 215.5L565.91 222.5L562.51 219.7L559.11 222.5ZM568.52 215.5L571.92 222.5L568.52 219.7L565.12 222.5ZM574.54 215.5L577.94 222.5L574.54 219.7L571.14 222.5ZM580.55 215.5L583.95 222.5L580.55 219.7L577.15 222.5ZM586.57 215.5L589.97 222.5L586.57 219.7L583.17 222.5ZM592.58 215.5L595.98 222.5L592.58 219.7L589.18 222.5ZM598.6 215.5L602 222.5L598.6 219.7L595.2 222.5ZM604.61 215.5L608.01 222.5L604.61 219.7L601.21 222.5ZM610.63 215.5L614.03 222.5L610.63 219.7L607.23 222.5ZM616.64 215.5L620.04 222.5L616.64 219.7L613.24 222.5ZM622.66 247.5L626.06 240.5L622.66 243.3L619.26 240.5ZM628.67 247.5L632.07 240.5L628.67 243.3L625.27 240.5ZM634.69 247.5L638.09 240.5L634.69 243.3L631.29 240.5ZM640.7 247.5L644.1 240.5L640.7 243.3L637.3 240.5ZM646.72 247.5L650.12 240.5L646.72 243.3L643.32 240.5ZM652.73 247.5L656.13 240.5L652.73 243.3L649.33 240.5ZM658.75 247.5L662.15 240.5L658.75 243.3L655.35 240.5ZM664.76 247.5L668.16 240.5L664.76 243.3L661.36 240.5ZM670.78 247.5L674.18 240.5L670.78 243.3L667.38 240.5ZM676.79 247.5L680.19 240.5L676.79 243.3L673.39 240.5ZM682.81 247.5L686.21 240.5L682.81 243.3L679.41 240.5ZM688.83 247.5L692.23 240.5L688.83 243.3L685.43 240.5ZM694.84 247.5L698.24 240.5L694.84 243.3L691.44 240.5ZM700.86 247.5L704.26 240.5L700.86 243.3L697.46 240.5ZM706.87 247.5L710.27 240.5L706.87 243.3L703.47 240.5ZM712.89 247.5L716.29 240.5L712.89 243.3L709.49 240.5ZM718.9 247.5L722.3 240.5L718.9 243.3L715.5 240.5ZM724.92 247.5L728.32 240.5L724.92 243.3L721.52 240.5ZM730.93 247.5L734.33 240.5L730.93 243.3L727.53 240.5ZM736.95 247.5L740.35 240.5L736.95 243.3L733.55 240.5ZM742.96 247.5L746.36 240.5L742.96 243.3L739.56 240.5ZM748.98 247.5L752.38 240.5L748.98 243.3L745.58 240.5ZM754.99 247.5L758.39 240.5L754.99 243.3L751.59 240.5ZM761.01 247.5L764.41 240.5L761.01 243.3L757.61 240.5ZM767.02 247.5L770.42 240.5L767.02 243.3L763.62 240.5ZM773.04 247.5L776.44 240.5L773.04 243.3L769.64 240.5ZM779.05 247.5L782.45 240.5L779.05 243.3L775.65 240.5ZM785.07 247.5L788.47 240.5L785.07 243.3L781.67 240.5ZM791.08 247.5L794.48 240.5L791.08 243.3L787.68 240.5ZM797.1 247.5L800.5 240.5L797.1 243.3L793.7 240.5Z" fill="#ff0000"/>
<text x="421" y="231.2"  font-size="25.6" text-anchor="start" fill="#000" >b</text>
<text x="434.3" y="238.8"  font-size="20.5" text-anchor="start" fill="#000" >z</text>
<path d="M442.2 387.25h6.5M797.1 387.25h-6.5M442.2 346.5h6.5M797.1 346.5h-6.5M442.2 305.75h6.5M797.1 305.75h-6.5M496.34 428v-6.5M496.34 265v6.5M556.49 428v-6.5M556.49 265v6.5M616.64 428v-6.5M616.64 265v6.5M676.79 428v-6.5M676.79 265v6.5M736.95 428v-6.5M736.95 265v6.5" stroke="#000" stroke-width="0.7" stroke-opacity="0.75" fill="none"/>
<path d="M442.2 428L448.22 428L454.23 428L460.25 428L466.26 428L472.28 428L478.29 428L484.31 428L490.32 428L496.34 428L502.35 428L508.37 428L514.38 428L520.4 428L526.41 428L532.43 428L538.44 428L544.46 428L550.47 428L556.49 428L562.51 428L568.52 428L574.54 428L580.55 428L586.57 428L592.58 428L598.6 428L604.61 428L610.63 428L616.64 428L622.66 428L628.67 428L634.69 428L640.7 428L646.72 428L652.73 428L658.75 428L664.76 428L670.78 428L676.79 428L682.81 428L688.83 428L694.84 428L700.86 428L706.87 428L712.89 428L718.9 428L724.92 428L730.93 428L736.95 428L742.96 428L748.98 428L754.99 428L761.01 428L767.02 428L773.04 428L779.05 428L785.07 428L791.08 428L797.1 428" stroke="#ff0000" stroke-width="0.8" fill="none"/>
<g fill="#ff0000"><circle cx="442.2" cy="428" r="3.7"/><circle cx="448.22" cy="428" r="3.7"/><circle cx="454.23" cy="428" r="3.7"/><circle cx="460.25" cy="428" r="3.7"/><circle cx="466.26" cy="428" r="3.7"/><circle cx="472.28" cy="428" r="3.7"/><circle cx="478.29" cy="428" r="3.7"/><circle cx="484.31" cy="428" r="3.7"/><circle cx="490.32" cy="428" r="3.7"/><circle cx="496.34" cy="428" r="3.7"/><circle cx="502.35" cy="428" r="3.7"/><circle cx="508.37" cy="428" r="3.7"/><circle cx="514.38" cy="428" r="3.7"/><circle cx="520.4" cy="428" r="3.7"/><circle cx="526.41" cy="428" r="3.7"/><circle cx="532.43" cy="428" r="3.7"/><circle cx="538.44" cy="428" r="3.7"/><circle cx="544.46" cy="428" r="3.7"/><circle cx="550.47" cy="428" r="3.7"/><circle cx="556.49" cy="428" r="3.7"/><circle cx="562.51" cy="428" r="3.7"/><circle cx="568.52" cy="428" r="3.7"/><circle cx="574.54" cy="428" r="3.7"/><circle cx="580.55" cy="428" r="3.7"/><circle cx="586.57" cy="428" r="3.7"/><circle cx="592.58" cy="428" r="3.7"/><circle cx="598.6" cy="428" r="3.7"/><circle cx="604.61" cy="428" r="3.7"/><circle cx="610.63" cy="428" r="3.7"/><circle cx="616.64" cy="428" r="3.7"/><circle cx="622.66" cy="428" r="3.7"/><circle cx="628.67" cy="428" r="3.7"/><circle cx="634.69" cy="428" r="3.7"/><circle cx="640.7" cy="428" r="3.7"/><circle cx="646.72" cy="428" r="3.7"/><circle cx="652.73" cy="428" r="3.7"/><circle cx="658.75" cy="428" r="3.7"/><circle cx="664.76" cy="428" r="3.7"/><circle cx="670.78" cy="428" r="3.7"/><circle cx="676.79" cy="428" r="3.7"/><circle cx="682.81" cy="428" r="3.7"/><circle cx="688.83" cy="428" r="3.7"/><circle cx="694.84" cy="428" r="3.7"/><circle cx="700.86" cy="428" r="3.7"/><circle cx="706.87" cy="428" r="3.7"/><circle cx="712.89" cy="428" r="3.7"/><circle cx="718.9" cy="428" r="3.7"/><circle cx="724.92" cy="428" r="3.7"/><circle cx="730.93" cy="428" r="3.7"/><circle cx="736.95" cy="428" r="3.7"/><circle cx="742.96" cy="428" r="3.7"/><circle cx="748.98" cy="428" r="3.7"/><circle cx="754.99" cy="428" r="3.7"/><circle cx="761.01" cy="428" r="3.7"/><circle cx="767.02" cy="428" r="3.7"/><circle cx="773.04" cy="428" r="3.7"/><circle cx="779.05" cy="428" r="3.7"/><circle cx="785.07" cy="428" r="3.7"/><circle cx="791.08" cy="428" r="3.7"/><circle cx="797.1" cy="428" r="3.7"/></g>
<path d="M442.2 428L448.22 428L454.23 428L460.25 428L466.26 428L472.28 428L478.29 428L484.31 428L490.32 428L496.34 428L502.35 428L508.37 428L514.38 428L520.4 427.84L526.41 427.76L532.43 427.63L538.44 427.43L544.46 427.06L550.47 426.49L556.49 425.56L562.51 423.93L568.52 421.48L574.54 417.81L580.55 411.29L586.57 399.88L592.58 381.14L598.6 355.06L604.61 322.87L610.63 291.49L616.64 276L622.66 281.3L628.67 305.75L634.69 338.35L640.7 368.91L646.72 392.14L652.73 406.81L658.75 414.96L664.76 419.85L670.78 423.11L676.79 424.94L682.81 426.17L688.83 426.86L694.84 427.31L700.86 427.59L706.87 427.76L712.89 427.84L718.9 428L724.92 428L730.93 428L736.95 428L742.96 428L748.98 428L754.99 428L761.01 428L767.02 428L773.04 428L779.05 428L785.07 428L791.08 428L797.1 428" stroke="#0000ff" stroke-width="0.8" fill="none"/>
<g fill="#0000ff"><circle cx="442.2" cy="428" r="3.7"/><circle cx="448.22" cy="428" r="3.7"/><circle cx="454.23" cy="428" r="3.7"/><circle cx="460.25" cy="428" r="3.7"/><circle cx="466.26" cy="428" r="3.7"/><circle cx="472.28" cy="428" r="3.7"/><circle cx="478.29" cy="428" r="3.7"/><circle cx="484.31" cy="428" r="3.7"/><circle cx="490.32" cy="428" r="3.7"/><circle cx="496.34" cy="428" r="3.7"/><circle cx="502.35" cy="428" r="3.7"/><circle cx="508.37" cy="428" r="3.7"/><circle cx="514.38" cy="428" r="3.7"/><circle cx="520.4" cy="427.84" r="3.7"/><circle cx="526.41" cy="427.76" r="3.7"/><circle cx="532.43" cy="427.63" r="3.7"/><circle cx="538.44" cy="427.43" r="3.7"/><circle cx="544.46" cy="427.06" r="3.7"/><circle cx="550.47" cy="426.49" r="3.7"/><circle cx="556.49" cy="425.56" r="3.7"/><circle cx="562.51" cy="423.93" r="3.7"/><circle cx="568.52" cy="421.48" r="3.7"/><circle cx="574.54" cy="417.81" r="3.7"/><circle cx="580.55" cy="411.29" r="3.7"/><circle cx="586.57" cy="399.88" r="3.7"/><circle cx="592.58" cy="381.14" r="3.7"/><circle cx="598.6" cy="355.06" r="3.7"/><circle cx="604.61" cy="322.87" r="3.7"/><circle cx="610.63" cy="291.49" r="3.7"/><circle cx="616.64" cy="276" r="3.7"/><circle cx="622.66" cy="281.3" r="3.7"/><circle cx="628.67" cy="305.75" r="3.7"/><circle cx="634.69" cy="338.35" r="3.7"/><circle cx="640.7" cy="368.91" r="3.7"/><circle cx="646.72" cy="392.14" r="3.7"/><circle cx="652.73" cy="406.81" r="3.7"/><circle cx="658.75" cy="414.96" r="3.7"/><circle cx="664.76" cy="419.85" r="3.7"/><circle cx="670.78" cy="423.11" r="3.7"/><circle cx="676.79" cy="424.94" r="3.7"/><circle cx="682.81" cy="426.17" r="3.7"/><circle cx="688.83" cy="426.86" r="3.7"/><circle cx="694.84" cy="427.31" r="3.7"/><circle cx="700.86" cy="427.59" r="3.7"/><circle cx="706.87" cy="427.76" r="3.7"/><circle cx="712.89" cy="427.84" r="3.7"/><circle cx="718.9" cy="428" r="3.7"/><circle cx="724.92" cy="428" r="3.7"/><circle cx="730.93" cy="428" r="3.7"/><circle cx="736.95" cy="428" r="3.7"/><circle cx="742.96" cy="428" r="3.7"/><circle cx="748.98" cy="428" r="3.7"/><circle cx="754.99" cy="428" r="3.7"/><circle cx="761.01" cy="428" r="3.7"/><circle cx="767.02" cy="428" r="3.7"/><circle cx="773.04" cy="428" r="3.7"/><circle cx="779.05" cy="428" r="3.7"/><circle cx="785.07" cy="428" r="3.7"/><circle cx="791.08" cy="428" r="3.7"/><circle cx="797.1" cy="428" r="3.7"/></g>
<path d="M442.2 419.85L448.22 418.91L454.23 418.02L460.25 417.08L466.26 416.1L472.28 415.04L478.29 413.94L484.31 412.84L490.32 411.7L496.34 410.68L502.35 409.66L508.37 408.64L514.38 407.62L520.4 406.4L526.41 405.18L532.43 403.75L538.44 402.12L544.46 400.29L550.47 398.25L556.49 396.21L562.51 393.97L568.52 391.61L574.54 389.04L580.55 386.44L586.57 383.99L592.58 382.36L598.6 381.14L604.61 381.95L610.63 383.99L616.64 387.25L622.66 390.1L628.67 394.99L634.69 399.48L640.7 404.16L646.72 409.13L652.73 413.09L658.75 416.59L664.76 419.61L670.78 421.72L676.79 423.11L682.81 424.54L688.83 425.76L694.84 426.57L700.86 427.19L706.87 427.51L712.89 427.59L718.9 427.51L724.92 427.39L730.93 427.19L736.95 426.9L742.96 426.57L748.98 426.17L754.99 425.72L761.01 425.15L767.02 424.54L773.04 423.84L779.05 423.11L785.07 422.3L791.08 421.48L797.1 420.67" stroke="#00ff00" stroke-width="0.8" fill="none"/>
<g fill="#00ff00"><circle cx="442.2" cy="419.85" r="3.7"/><circle cx="448.22" cy="418.91" r="3.7"/><circle cx="454.23" cy="418.02" r="3.7"/><circle cx="460.25" cy="417.08" r="3.7"/><circle cx="466.26" cy="416.1" r="3.7"/><circle cx="472.28" cy="415.04" r="3.7"/><circle cx="478.29" cy="413.94" r="3.7"/><circle cx="484.31" cy="412.84" r="3.7"/><circle cx="490.32" cy="411.7" r="3.7"/><circle cx="496.34" cy="410.68" r="3.7"/><circle cx="502.35" cy="409.66" r="3.7"/><circle cx="508.37" cy="408.64" r="3.7"/><circle cx="514.38" cy="407.62" r="3.7"/><circle cx="520.4" cy="406.4" r="3.7"/><circle cx="526.41" cy="405.18" r="3.7"/><circle cx="532.43" cy="403.75" r="3.7"/><circle cx="538.44" cy="402.12" r="3.7"/><circle cx="544.46" cy="400.29" r="3.7"/><circle cx="550.47" cy="398.25" r="3.7"/><circle cx="556.49" cy="396.21" r="3.7"/><circle cx="562.51" cy="393.97" r="3.7"/><circle cx="568.52" cy="391.61" r="3.7"/><circle cx="574.54" cy="389.04" r="3.7"/><circle cx="580.55" cy="386.44" r="3.7"/><circle cx="586.57" cy="383.99" r="3.7"/><circle cx="592.58" cy="382.36" r="3.7"/><circle cx="598.6" cy="381.14" r="3.7"/><circle cx="604.61" cy="381.95" r="3.7"/><circle cx="610.63" cy="383.99" r="3.7"/><circle cx="616.64" cy="387.25" r="3.7"/><circle cx="622.66" cy="390.1" r="3.7"/><circle cx="628.67" cy="394.99" r="3.7"/><circle cx="634.69" cy="399.48" r="3.7"/><circle cx="640.7" cy="404.16" r="3.7"/><circle cx="646.72" cy="409.13" r="3.7"/><circle cx="652.73" cy="413.09" r="3.7"/><circle cx="658.75" cy="416.59" r="3.7"/><circle cx="664.76" cy="419.61" r="3.7"/><circle cx="670.78" cy="421.72" r="3.7"/><circle cx="676.79" cy="423.11" r="3.7"/><circle cx="682.81" cy="424.54" r="3.7"/><circle cx="688.83" cy="425.76" r="3.7"/><circle cx="694.84" cy="426.57" r="3.7"/><circle cx="700.86" cy="427.19" r="3.7"/><circle cx="706.87" cy="427.51" r="3.7"/><circle cx="712.89" cy="427.59" r="3.7"/><circle cx="718.9" cy="427.51" r="3.7"/><circle cx="724.92" cy="427.39" r="3.7"/><circle cx="730.93" cy="427.19" r="3.7"/><circle cx="736.95" cy="426.9" r="3.7"/><circle cx="742.96" cy="426.57" r="3.7"/><circle cx="748.98" cy="426.17" r="3.7"/><circle cx="754.99" cy="425.72" r="3.7"/><circle cx="761.01" cy="425.15" r="3.7"/><circle cx="767.02" cy="424.54" r="3.7"/><circle cx="773.04" cy="423.84" r="3.7"/><circle cx="779.05" cy="423.11" r="3.7"/><circle cx="785.07" cy="422.3" r="3.7"/><circle cx="791.08" cy="421.48" r="3.7"/><circle cx="797.1" cy="420.67" r="3.7"/></g>
<path d="M442.2 428L448.22 428L454.23 428L460.25 428L466.26 428L472.28 428L478.29 428L484.31 428L490.32 428L496.34 428L502.35 428L508.37 428L514.38 428L520.4 428L526.41 428L532.43 428L538.44 428L544.46 428L550.47 428L556.49 428L562.51 428L568.52 428L574.54 428L580.55 428L586.57 428L592.58 428L598.6 428L604.61 428L610.63 428L616.64 428L622.66 428L628.67 428L634.69 428L640.7 428L646.72 428L652.73 428L658.75 428L664.76 428L670.78 428L676.79 428L682.81 428L688.83 428L694.84 428L700.86 428L706.87 428L712.89 428L718.9 428L724.92 428L730.93 428L736.95 428L742.96 428L748.98 428L754.99 428L761.01 428L767.02 428L773.04 428L779.05 428L785.07 428L791.08 428L797.1 428" stroke="#ff00ff" stroke-width="0.8" fill="none"/>
<g fill="#ff00ff"><circle cx="442.2" cy="428" r="3.7"/><circle cx="448.22" cy="428" r="3.7"/><circle cx="454.23" cy="428" r="3.7"/><circle cx="460.25" cy="428" r="3.7"/><circle cx="466.26" cy="428" r="3.7"/><circle cx="472.28" cy="428" r="3.7"/><circle cx="478.29" cy="428" r="3.7"/><circle cx="484.31" cy="428" r="3.7"/><circle cx="490.32" cy="428" r="3.7"/><circle cx="496.34" cy="428" r="3.7"/><circle cx="502.35" cy="428" r="3.7"/><circle cx="508.37" cy="428" r="3.7"/><circle cx="514.38" cy="428" r="3.7"/><circle cx="520.4" cy="428" r="3.7"/><circle cx="526.41" cy="428" r="3.7"/><circle cx="532.43" cy="428" r="3.7"/><circle cx="538.44" cy="428" r="3.7"/><circle cx="544.46" cy="428" r="3.7"/><circle cx="550.47" cy="428" r="3.7"/><circle cx="556.49" cy="428" r="3.7"/><circle cx="562.51" cy="428" r="3.7"/><circle cx="568.52" cy="428" r="3.7"/><circle cx="574.54" cy="428" r="3.7"/><circle cx="580.55" cy="428" r="3.7"/><circle cx="586.57" cy="428" r="3.7"/><circle cx="592.58" cy="428" r="3.7"/><circle cx="598.6" cy="428" r="3.7"/><circle cx="604.61" cy="428" r="3.7"/><circle cx="610.63" cy="428" r="3.7"/><circle cx="616.64" cy="428" r="3.7"/><circle cx="622.66" cy="428" r="3.7"/><circle cx="628.67" cy="428" r="3.7"/><circle cx="634.69" cy="428" r="3.7"/><circle cx="640.7" cy="428" r="3.7"/><circle cx="646.72" cy="428" r="3.7"/><circle cx="652.73" cy="428" r="3.7"/><circle cx="658.75" cy="428" r="3.7"/><circle cx="664.76" cy="428" r="3.7"/><circle cx="670.78" cy="428" r="3.7"/><circle cx="676.79" cy="428" r="3.7"/><circle cx="682.81" cy="428" r="3.7"/><circle cx="688.83" cy="428" r="3.7"/><circle cx="694.84" cy="428" r="3.7"/><circle cx="700.86" cy="428" r="3.7"/><circle cx="706.87" cy="428" r="3.7"/><circle cx="712.89" cy="428" r="3.7"/><circle cx="718.9" cy="428" r="3.7"/><circle cx="724.92" cy="428" r="3.7"/><circle cx="730.93" cy="428" r="3.7"/><circle cx="736.95" cy="428" r="3.7"/><circle cx="742.96" cy="428" r="3.7"/><circle cx="748.98" cy="428" r="3.7"/><circle cx="754.99" cy="428" r="3.7"/><circle cx="761.01" cy="428" r="3.7"/><circle cx="767.02" cy="428" r="3.7"/><circle cx="773.04" cy="428" r="3.7"/><circle cx="779.05" cy="428" r="3.7"/><circle cx="785.07" cy="428" r="3.7"/><circle cx="791.08" cy="428" r="3.7"/><circle cx="797.1" cy="428" r="3.7"/></g>
<path d="M442.2 428L448.22 428L454.23 428L460.25 428L466.26 428L472.28 428L478.29 428L484.31 428L490.32 428L496.34 428L502.35 428L508.37 428L514.38 428L520.4 428L526.41 428L532.43 428L538.44 428L544.46 428L550.47 428L556.49 428L562.51 428L568.52 428L574.54 428L580.55 428L586.57 428L592.58 428L598.6 428L604.61 428L610.63 428L616.64 428L622.66 428L628.67 428L634.69 428L640.7 428L646.72 428L652.73 428L658.75 428L664.76 428L670.78 428L676.79 428L682.81 428L688.83 428L694.84 428L700.86 428L706.87 428L712.89 428L718.9 428L724.92 428L730.93 428L736.95 428L742.96 428L748.98 428L754.99 428L761.01 428L767.02 428L773.04 428L779.05 428L785.07 428L791.08 428L797.1 428" stroke="#000000" stroke-width="0.8" fill="none"/>
<g fill="#000000"><circle cx="442.2" cy="428" r="3.7"/><circle cx="448.22" cy="428" r="3.7"/><circle cx="454.23" cy="428" r="3.7"/><circle cx="460.25" cy="428" r="3.7"/><circle cx="466.26" cy="428" r="3.7"/><circle cx="472.28" cy="428" r="3.7"/><circle cx="478.29" cy="428" r="3.7"/><circle cx="484.31" cy="428" r="3.7"/><circle cx="490.32" cy="428" r="3.7"/><circle cx="496.34" cy="428" r="3.7"/><circle cx="502.35" cy="428" r="3.7"/><circle cx="508.37" cy="428" r="3.7"/><circle cx="514.38" cy="428" r="3.7"/><circle cx="520.4" cy="428" r="3.7"/><circle cx="526.41" cy="428" r="3.7"/><circle cx="532.43" cy="428" r="3.7"/><circle cx="538.44" cy="428" r="3.7"/><circle cx="544.46" cy="428" r="3.7"/><circle cx="550.47" cy="428" r="3.7"/><circle cx="556.49" cy="428" r="3.7"/><circle cx="562.51" cy="428" r="3.7"/><circle cx="568.52" cy="428" r="3.7"/><circle cx="574.54" cy="428" r="3.7"/><circle cx="580.55" cy="428" r="3.7"/><circle cx="586.57" cy="428" r="3.7"/><circle cx="592.58" cy="428" r="3.7"/><circle cx="598.6" cy="428" r="3.7"/><circle cx="604.61" cy="428" r="3.7"/><circle cx="610.63" cy="428" r="3.7"/><circle cx="616.64" cy="428" r="3.7"/><circle cx="622.66" cy="428" r="3.7"/><circle cx="628.67" cy="428" r="3.7"/><circle cx="634.69" cy="428" r="3.7"/><circle cx="640.7" cy="428" r="3.7"/><circle cx="646.72" cy="428" r="3.7"/><circle cx="652.73" cy="428" r="3.7"/><circle cx="658.75" cy="428" r="3.7"/><circle cx="664.76" cy="428" r="3.7"/><circle cx="670.78" cy="428" r="3.7"/><circle cx="676.79" cy="428" r="3.7"/><circle cx="682.81" cy="428" r="3.7"/><circle cx="688.83" cy="428" r="3.7"/><circle cx="694.84" cy="428" r="3.7"/><circle cx="700.86" cy="428" r="3.7"/><circle cx="706.87" cy="428" r="3.7"/><circle cx="712.89" cy="428" r="3.7"/><circle cx="718.9" cy="428" r="3.7"/><circle cx="724.92" cy="428" r="3.7"/><circle cx="730.93" cy="428" r="3.7"/><circle cx="736.95" cy="428" r="3.7"/><circle cx="742.96" cy="428" r="3.7"/><circle cx="748.98" cy="428" r="3.7"/><circle cx="754.99" cy="428" r="3.7"/><circle cx="761.01" cy="428" r="3.7"/><circle cx="767.02" cy="428" r="3.7"/><circle cx="773.04" cy="428" r="3.7"/><circle cx="779.05" cy="428" r="3.7"/><circle cx="785.07" cy="428" r="3.7"/><circle cx="791.08" cy="428" r="3.7"/><circle cx="797.1" cy="428" r="3.7"/></g>
<path d="M442.2 281.3L448.22 305.75L454.23 338.35L460.25 368.91L466.26 392.14L472.28 406.81L478.29 414.96L484.31 419.85L490.32 423.11L496.34 424.94L502.35 426.17L508.37 426.86L514.38 427.31L520.4 427.59L526.41 427.76L532.43 427.84L538.44 428L544.46 428L550.47 428L556.49 428L562.51 428L568.52 428L574.54 428L580.55 428L586.57 428L592.58 428L598.6 428L604.61 428L610.63 428L616.64 428L622.66 428L628.67 428L634.69 428L640.7 428L646.72 428L652.73 428L658.75 428L664.76 428L670.78 428L676.79 428L682.81 428L688.83 428L694.84 428L700.86 427.84L706.87 427.76L712.89 427.63L718.9 427.43L724.92 427.06L730.93 426.49L736.95 425.56L742.96 423.93L748.98 421.48L754.99 417.81L761.01 411.29L767.02 399.88L773.04 381.14L779.05 355.06L785.07 322.87L791.08 291.49L797.1 276" stroke="#ffa500" stroke-width="0.8" fill="none"/>
<g fill="#ffa500"><circle cx="442.2" cy="281.3" r="3.7"/><circle cx="448.22" cy="305.75" r="3.7"/><circle cx="454.23" cy="338.35" r="3.7"/><circle cx="460.25" cy="368.91" r="3.7"/><circle cx="466.26" cy="392.14" r="3.7"/><circle cx="472.28" cy="406.81" r="3.7"/><circle cx="478.29" cy="414.96" r="3.7"/><circle cx="484.31" cy="419.85" r="3.7"/><circle cx="490.32" cy="423.11" r="3.7"/><circle cx="496.34" cy="424.94" r="3.7"/><circle cx="502.35" cy="426.17" r="3.7"/><circle cx="508.37" cy="426.86" r="3.7"/><circle cx="514.38" cy="427.31" r="3.7"/><circle cx="520.4" cy="427.59" r="3.7"/><circle cx="526.41" cy="427.76" r="3.7"/><circle cx="532.43" cy="427.84" r="3.7"/><circle cx="538.44" cy="428" r="3.7"/><circle cx="544.46" cy="428" r="3.7"/><circle cx="550.47" cy="428" r="3.7"/><circle cx="556.49" cy="428" r="3.7"/><circle cx="562.51" cy="428" r="3.7"/><circle cx="568.52" cy="428" r="3.7"/><circle cx="574.54" cy="428" r="3.7"/><circle cx="580.55" cy="428" r="3.7"/><circle cx="586.57" cy="428" r="3.7"/><circle cx="592.58" cy="428" r="3.7"/><circle cx="598.6" cy="428" r="3.7"/><circle cx="604.61" cy="428" r="3.7"/><circle cx="610.63" cy="428" r="3.7"/><circle cx="616.64" cy="428" r="3.7"/><circle cx="622.66" cy="428" r="3.7"/><circle cx="628.67" cy="428" r="3.7"/><circle cx="634.69" cy="428" r="3.7"/><circle cx="640.7" cy="428" r="3.7"/><circle cx="646.72" cy="428" r="3.7"/><circle cx="652.73" cy="428" r="3.7"/><circle cx="658.75" cy="428" r="3.7"/><circle cx="664.76" cy="428" r="3.7"/><circle cx="670.78" cy="428" r="3.7"/><circle cx="676.79" cy="428" r="3.7"/><circle cx="682.81" cy="428" r="3.7"/><circle cx="688.83" cy="428" r="3.7"/><circle cx="694.84" cy="428" r="3.7"/><circle cx="700.86" cy="427.84" r="3.7"/><circle cx="706.87" cy="427.76" r="3.7"/><circle cx="712.89" cy="427.63" r="3.7"/><circle cx="718.9" cy="427.43" r="3.7"/><circle cx="724.92" cy="427.06" r="3.7"/><circle cx="730.93" cy="426.49" r="3.7"/><circle cx="736.95" cy="425.56" r="3.7"/><circle cx="742.96" cy="423.93" r="3.7"/><circle cx="748.98" cy="421.48" r="3.7"/><circle cx="754.99" cy="417.81" r="3.7"/><circle cx="761.01" cy="411.29" r="3.7"/><circle cx="767.02" cy="399.88" r="3.7"/><circle cx="773.04" cy="381.14" r="3.7"/><circle cx="779.05" cy="355.06" r="3.7"/><circle cx="785.07" cy="322.87" r="3.7"/><circle cx="791.08" cy="291.49" r="3.7"/><circle cx="797.1" cy="276" r="3.7"/></g>
<path d="M442.2 390.1L448.22 394.99L454.23 399.48L460.25 404.16L466.26 409.13L472.28 413.09L478.29 416.59L484.31 419.61L490.32 421.72L496.34 423.11L502.35 424.54L508.37 425.76L514.38 426.57L520.4 427.19L526.41 427.51L532.43 427.59L538.44 427.51L544.46 427.39L550.47 427.19L556.49 426.9L562.51 426.57L568.52 426.17L574.54 425.72L580.55 425.15L586.57 424.54L592.58 423.84L598.6 423.11L604.61 422.3L610.63 421.48L616.64 420.67L622.66 419.85L628.67 418.91L634.69 418.02L640.7 417.08L646.72 416.1L652.73 415.04L658.75 413.94L664.76 412.84L670.78 411.7L676.79 410.68L682.81 409.66L688.83 408.64L694.84 407.62L700.86 406.4L706.87 405.18L712.89 403.75L718.9 402.12L724.92 400.29L730.93 398.25L736.95 396.21L742.96 393.97L748.98 391.61L754.99 389.04L761.01 386.44L767.02 383.99L773.04 382.36L779.05 381.14L785.07 381.95L791.08 383.99L797.1 387.25" stroke="#00ffff" stroke-width="0.8" fill="none"/>
<g fill="#00ffff"><circle cx="442.2" cy="390.1" r="3.7"/><circle cx="448.22" cy="394.99" r="3.7"/><circle cx="454.23" cy="399.48" r="3.7"/><circle cx="460.25" cy="404.16" r="3.7"/><circle cx="466.26" cy="409.13" r="3.7"/><circle cx="472.28" cy="413.09" r="3.7"/><circle cx="478.29" cy="416.59" r="3.7"/><circle cx="484.31" cy="419.61" r="3.7"/><circle cx="490.32" cy="421.72" r="3.7"/><circle cx="496.34" cy="423.11" r="3.7"/><circle cx="502.35" cy="424.54" r="3.7"/><circle cx="508.37" cy="425.76" r="3.7"/><circle cx="514.38" cy="426.57" r="3.7"/><circle cx="520.4" cy="427.19" r="3.7"/><circle cx="526.41" cy="427.51" r="3.7"/><circle cx="532.43" cy="427.59" r="3.7"/><circle cx="538.44" cy="427.51" r="3.7"/><circle cx="544.46" cy="427.39" r="3.7"/><circle cx="550.47" cy="427.19" r="3.7"/><circle cx="556.49" cy="426.9" r="3.7"/><circle cx="562.51" cy="426.57" r="3.7"/><circle cx="568.52" cy="426.17" r="3.7"/><circle cx="574.54" cy="425.72" r="3.7"/><circle cx="580.55" cy="425.15" r="3.7"/><circle cx="586.57" cy="424.54" r="3.7"/><circle cx="592.58" cy="423.84" r="3.7"/><circle cx="598.6" cy="423.11" r="3.7"/><circle cx="604.61" cy="422.3" r="3.7"/><circle cx="610.63" cy="421.48" r="3.7"/><circle cx="616.64" cy="420.67" r="3.7"/><circle cx="622.66" cy="419.85" r="3.7"/><circle cx="628.67" cy="418.91" r="3.7"/><circle cx="634.69" cy="418.02" r="3.7"/><circle cx="640.7" cy="417.08" r="3.7"/><circle cx="646.72" cy="416.1" r="3.7"/><circle cx="652.73" cy="415.04" r="3.7"/><circle cx="658.75" cy="413.94" r="3.7"/><circle cx="664.76" cy="412.84" r="3.7"/><circle cx="670.78" cy="411.7" r="3.7"/><circle cx="676.79" cy="410.68" r="3.7"/><circle cx="682.81" cy="409.66" r="3.7"/><circle cx="688.83" cy="408.64" r="3.7"/><circle cx="694.84" cy="407.62" r="3.7"/><circle cx="700.86" cy="406.4" r="3.7"/><circle cx="706.87" cy="405.18" r="3.7"/><circle cx="712.89" cy="403.75" r="3.7"/><circle cx="718.9" cy="402.12" r="3.7"/><circle cx="724.92" cy="400.29" r="3.7"/><circle cx="730.93" cy="398.25" r="3.7"/><circle cx="736.95" cy="396.21" r="3.7"/><circle cx="742.96" cy="393.97" r="3.7"/><circle cx="748.98" cy="391.61" r="3.7"/><circle cx="754.99" cy="389.04" r="3.7"/><circle cx="761.01" cy="386.44" r="3.7"/><circle cx="767.02" cy="383.99" r="3.7"/><circle cx="773.04" cy="382.36" r="3.7"/><circle cx="779.05" cy="381.14" r="3.7"/><circle cx="785.07" cy="381.95" r="3.7"/><circle cx="791.08" cy="383.99" r="3.7"/><circle cx="797.1" cy="387.25" r="3.7"/></g>
<path d="M442.2 428L448.22 428L454.23 428L460.25 428L466.26 428L472.28 428L478.29 428L484.31 428L490.32 428L496.34 428L502.35 428L508.37 428L514.38 428L520.4 428L526.41 428L532.43 428L538.44 428L544.46 428L550.47 428L556.49 428L562.51 428L568.52 428L574.54 428L580.55 428L586.57 428L592.58 428L598.6 428L604.61 428L610.63 428L616.64 428L622.66 428L628.67 428L634.69 428L640.7 428L646.72 428L652.73 428L658.75 428L664.76 428L670.78 428L676.79 428L682.81 428L688.83 428L694.84 428L700.86 428L706.87 428L712.89 428L718.9 428L724.92 428L730.93 428L736.95 428L742.96 428L748.98 428L754.99 428L761.01 428L767.02 428L773.04 428L779.05 428L785.07 428L791.08 428L797.1 428" stroke="#ff0000" stroke-width="0.8" fill="none"/>
<path d="M438.3 424.1L446.1 431.9M438.3 431.9L446.1 424.1M444.32 424.1L452.12 431.9M444.32 431.9L452.12 424.1M450.33 424.1L458.13 431.9M450.33 431.9L458.13 424.1M456.35 424.1L464.15 431.9M456.35 431.9L464.15 424.1M462.36 424.1L470.16 431.9M462.36 431.9L470.16 424.1M468.38 424.1L476.18 431.9M468.38 431.9L476.18 424.1M474.39 424.1L482.19 431.9M474.39 431.9L482.19 424.1M480.41 424.1L488.21 431.9M480.41 431.9L488.21 424.1M486.42 424.1L494.22 431.9M486.42 431.9L494.22 424.1M492.44 424.1L500.24 431.9M492.44 431.9L500.24 424.1M498.45 424.1L506.25 431.9M498.45 431.9L506.25 424.1M504.47 424.1L512.27 431.9M504.47 431.9L512.27 424.1M510.48 424.1L518.28 431.9M510.48 431.9L518.28 424.1M516.5 424.1L524.3 431.9M516.5 431.9L524.3 424.1M522.51 424.1L530.31 431.9M522.51 431.9L530.31 424.1M528.53 424.1L536.33 431.9M528.53 431.9L536.33 424.1M534.54 424.1L542.34 431.9M534.54 431.9L542.34 424.1M540.56 424.1L548.36 431.9M540.56 431.9L548.36 424.1M546.57 424.1L554.37 431.9M546.57 431.9L554.37 424.1M552.59 424.1L560.39 431.9M552.59 431.9L560.39 424.1M558.61 424.1L566.41 431.9M558.61 431.9L566.41 424.1M564.62 424.1L572.42 431.9M564.62 431.9L572.42 424.1M570.64 424.1L578.44 431.9M570.64 431.9L578.44 424.1M576.65 424.1L584.45 431.9M576.65 431.9L584.45 424.1M582.67 424.1L590.47 431.9M582.67 431.9L590.47 424.1M588.68 424.1L596.48 431.9M588.68 431.9L596.48 424.1M594.7 424.1L602.5 431.9M594.7 431.9L602.5 424.1M600.71 424.1L608.51 431.9M600.71 431.9L608.51 424.1M606.73 424.1L614.53 431.9M606.73 431.9L614.53 424.1M612.74 424.1L620.54 431.9M612.74 431.9L620.54 424.1M618.76 424.1L626.56 431.9M618.76 431.9L626.56 424.1M624.77 424.1L632.57 431.9M624.77 431.9L632.57 424.1M630.79 424.1L638.59 431.9M630.79 431.9L638.59 424.1M636.8 424.1L644.6 431.9M636.8 431.9L644.6 424.1M642.82 424.1L650.62 431.9M642.82 431.9L650.62 424.1M648.83 424.1L656.63 431.9M648.83 431.9L656.63 424.1M654.85 424.1L662.65 431.9M654.85 431.9L662.65 424.1M660.86 424.1L668.66 431.9M660.86 431.9L668.66 424.1M666.88 424.1L674.68 431.9M666.88 431.9L674.68 424.1M672.89 424.1L680.69 431.9M672.89 431.9L680.69 424.1M678.91 424.1L686.71 431.9M678.91 431.9L686.71 424.1M684.93 424.1L692.73 431.9M684.93 431.9L692.73 424.1M690.94 424.1L698.74 431.9M690.94 431.9L698.74 424.1M696.96 424.1L704.76 431.9M696.96 431.9L704.76 424.1M702.97 424.1L710.77 431.9M702.97 431.9L710.77 424.1M708.99 424.1L716.79 431.9M708.99 431.9L716.79 424.1M715 424.1L722.8 431.9M715 431.9L722.8 424.1M721.02 424.1L728.82 431.9M721.02 431.9L728.82 424.1M727.03 424.1L734.83 431.9M727.03 431.9L734.83 424.1M733.05 424.1L740.85 431.9M733.05 431.9L740.85 424.1M739.06 424.1L746.86 431.9M739.06 431.9L746.86 424.1M745.08 424.1L752.88 431.9M745.08 431.9L752.88 424.1M751.09 424.1L758.89 431.9M751.09 431.9L758.89 424.1M757.11 424.1L764.91 431.9M757.11 431.9L764.91 424.1M763.12 424.1L770.92 431.9M763.12 431.9L770.92 424.1M769.14 424.1L776.94 431.9M769.14 431.9L776.94 424.1M775.15 424.1L782.95 431.9M775.15 431.9L782.95 424.1M781.17 424.1L788.97 431.9M781.17 431.9L788.97 424.1M787.18 424.1L794.98 431.9M787.18 431.9L794.98 424.1M793.2 424.1L801 431.9M793.2 431.9L801 424.1" stroke="#ff0000" stroke-width="1.0" fill="none"/>
<rect x="442.2" y="265" width="354.9" height="163" fill="none" stroke="#000" stroke-width="1.4"/>
<text x="427.4" y="437.1"  font-size="25.6" text-anchor="end" fill="#000" >0</text>
<text x="427.4" y="396.35"  font-size="25.6" text-anchor="end" fill="#000" >1</text>
<text x="427.4" y="355.6"  font-size="25.6" text-anchor="end" fill="#000" >2</text>
<text x="427.4" y="314.85"  font-size="25.6" text-anchor="end" fill="#000" >3</text>
<text x="427.4" y="274.1"  font-size="25.6" text-anchor="end" fill="#000" >4</text>
<text x="499.34" y="461.6"  font-size="25.6" text-anchor="middle" fill="#000" >10</text>
<text x="559.49" y="461.6"  font-size="25.6" text-anchor="middle" fill="#000" >20</text>
<text x="619.64" y="461.6"  font-size="25.6" text-anchor="middle" fill="#000" >30</text>
<text x="679.79" y="461.6"  font-size="25.6" text-anchor="middle" fill="#000" >40</text>
<text x="739.95" y="461.6"  font-size="25.6" text-anchor="middle" fill="#000" >50</text>
<text x="800.1" y="461.6"  font-size="25.6" text-anchor="middle" fill="#000" >60</text>
<text x="453.5" y="289.2"  font-size="25.6" text-anchor="start" fill="#000" >(c)</text>
<g transform="translate(393,369.4) rotate(-90)">
<text x="0" y="0"  font-size="25.6" text-anchor="start" fill="#000" >n(i</text>
<text x="28.4" y="6.5"  font-size="20.5" text-anchor="start" fill="#000" >1</text>
<text x="38.2" y="0"  font-size="25.6" text-anchor="start" fill="#000" >)</text>
</g>
<text x="641.8" y="478.9"  font-size="25.6" text-anchor="start" fill="#000" >i</text>
<text x="649.3" y="486.2"  font-size="20.5" text-anchor="start" fill="#000" >1</text>
<text x="659.6" y="295.5"  font-size="25.6" text-anchor="end" fill="#000" >1</text>
<path d="M674.4 287.2H697.2" stroke="#ff0000" stroke-width="0.9"/>
<circle cx="685.8" cy="287.2" r="3.7" fill="#ff0000"/>
<text x="659.6" y="320.6"  font-size="25.6" text-anchor="end" fill="#000" >2</text>
<path d="M674.4 312.3H697.2" stroke="#0000ff" stroke-width="0.9"/>
<circle cx="685.8" cy="312.3" r="3.7" fill="#0000ff"/>
<text x="659.6" y="345.7"  font-size="25.6" text-anchor="end" fill="#000" >3</text>
<path d="M674.4 337.4H697.2" stroke="#00ff00" stroke-width="0.9"/>
<circle cx="685.8" cy="337.4" r="3.7" fill="#00ff00"/>
<text x="659.6" y="370.5"  font-size="25.6" text-anchor="end" fill="#000" >4</text>
<path d="M674.4 362.2H697.2" stroke="#ff00ff" stroke-width="0.9"/>
<circle cx="685.8" cy="362.2" r="3.7" fill="#ff00ff"/>
<text x="727.2" y="295.5"  font-size="25.6" text-anchor="end" fill="#000" >5</text>
<path d="M742.1 287.2H764.6" stroke="#000000" stroke-width="0.9"/>
<circle cx="753.35" cy="287.2" r="3.7" fill="#000000"/>
<text x="727.2" y="320.6"  font-size="25.6" text-anchor="end" fill="#000" >6</text>
<path d="M742.1 312.3H764.6" stroke="#ffa500" stroke-width="0.9"/>
<circle cx="753.35" cy="312.3" r="3.7" fill="#ffa500"/>
<text x="727.2" y="345.7"  font-size="25.6" text-anchor="end" fill="#000" >7</text>
<path d="M742.1 337.4H764.6" stroke="#00ffff" stroke-width="0.9"/>
<circle cx="753.35" cy="337.4" r="3.7" fill="#00ffff"/>
<text x="727.2" y="370.5"  font-size="25.6" text-anchor="end" fill="#000" >8</text>
<path d="M742.1 362.2H764.6" stroke="#ff0000" stroke-width="0.9"/>
<path d="M749.45 358.3L757.25 366.1M749.45 366.1L757.25 358.3" stroke="#ff0000" stroke-width="0.8" fill="none"/>
</svg>
</body></html>
